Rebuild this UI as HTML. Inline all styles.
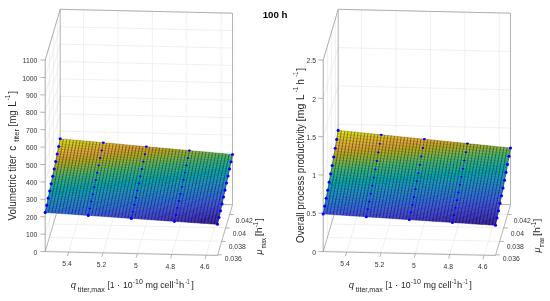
<!DOCTYPE html><html><head><meta charset="utf-8"><style>html,body{margin:0;padding:0;background:#fff;width:550px;height:301px;overflow:hidden}svg{display:block}text{font-family:"Liberation Sans",sans-serif;-webkit-font-smoothing:antialiased}svg{will-change:transform}</style></head><body>
<svg width="550" height="301" viewBox="0 0 550 301">
<defs><filter id="bl" x="-5%" y="-5%" width="110%" height="110%"><feGaussianBlur stdDeviation="0.4"/></filter></defs>
<rect width="550" height="301" fill="#fff"/>
<path fill="none" stroke="#e6e6e6" stroke-width="0.6" d="M83.6,201.33L83.6,9.83M118,202.11L118,10.61M152.4,202.89L152.4,11.39M186.8,203.67L186.8,12.17M221.2,204.44L221.2,12.94M60.2,183.39L232.5,187.29M60.2,165.98L232.5,169.88M60.2,148.57L232.5,152.47M60.2,131.16L232.5,135.06M60.2,113.75L232.5,117.65M60.2,96.35L232.5,100.25M60.2,78.94L232.5,82.84M60.2,61.53L232.5,65.43M60.2,44.12L232.5,48.02M60.2,26.71L232.5,30.61M60.2,9.3L232.5,13.2M45.41,250.89L45.41,59.39M49.38,237.45L49.38,45.95M53.35,224.02L53.35,32.52M57.31,210.58L57.31,19.08M45.2,234.19L60.2,183.39M45.2,216.78L60.2,165.98M45.2,199.37L60.2,148.57M45.2,181.96L60.2,131.16M45.2,164.55L60.2,113.75M45.2,147.15L60.2,96.35M45.2,129.74L60.2,78.94M45.2,112.33L60.2,61.53M45.2,94.92L60.2,44.12M45.2,77.51L60.2,26.71M45.2,60.1L60.2,9.3M68.6,252.13L83.6,201.33M103,252.91L118,202.11M137.4,253.69L152.4,202.89M171.8,254.47L186.8,203.67M206.2,255.24L221.2,204.44M45.41,250.89L217.71,254.79M49.38,237.45L221.68,241.35M53.35,224.02L225.65,227.92M57.31,210.58L229.61,214.48"/>
<path fill="none" stroke="#9a9a9a" stroke-width="0.75" d="M45.2,251.6L45.2,60.1M60.2,200.8L60.2,9.3M232.5,204.7L232.5,13.2M60.2,9.3L232.5,13.2M45.2,60.1L60.2,9.3M45.2,251.6L217.5,255.5M217.5,255.5L232.5,204.7M60.2,200.8L232.5,204.7M45.2,251.6L60.2,200.8M45.2,251.6L40.4,251.5M45.2,234.19L40.4,234.09M45.2,216.78L40.4,216.68M45.2,199.37L40.4,199.27M45.2,181.96L40.4,181.86M45.2,164.55L40.4,164.45M45.2,147.15L40.4,147.05M45.2,129.74L40.4,129.64M45.2,112.33L40.4,112.23M45.2,94.92L40.4,94.82M45.2,77.51L40.4,77.41M45.2,60.1L40.4,60M68.6,252.13L67.4,256.13M103,252.91L101.8,256.91M137.4,253.69L136.2,257.69M171.8,254.47L170.6,258.47M206.2,255.24L205,259.24M217.71,254.79L221.91,254.89M221.68,241.35L225.88,241.45M225.65,227.92L229.84,228.02M229.61,214.48L233.81,214.58"/>
<g filter="url(#bl)">
<path fill="#3926a2" stroke="#3926a2" stroke-width="0.4" d="M207.6,223.6l3.3,.3 .5,-2.3 -3.3,-.2zM210.9,223.9l3.3,.2 .5,-2.3 -3.3,-.2zM214.2,224.1l3.3,.2 .5,-2.2 -3.3,-.3z"/>
<path fill="#3b2aac" stroke="#3b2aac" stroke-width="0.4" d="M197.6,222.9l3.3,.3 .5,-2.3 -3.3,-.2zM200.9,223.2l3.3,.2 .5,-2.3 -3.3,-.2zM204.2,223.4l3.4,.2 .5,-2.2 -3.4,-.3zM208.1,221.4l3.3,.2 .5,-2.2 -3.3,-.3zM211.4,221.6l3.3,.2 .5,-2.2 -3.3,-.2zM214.7,221.8l3.3,.3 .5,-2.3 -3.3,-.2z"/>
<path fill="#3d2db6" stroke="#3d2db6" stroke-width="0.4" d="M187.7,222.3l3.3,.2 .5,-2.3 -3.3,-.2zM191,222.5l3.3,.2 .5,-2.2 -3.3,-.3zM194.3,222.7l3.3,.2 .5,-2.2 -3.3,-.2zM198.1,220.7l3.3,.2 .5,-2.2 -3.3,-.3zM201.4,220.9l3.3,.2 .5,-2.2 -3.3,-.2zM204.7,221.1l3.4,.3 .5,-2.3 -3.4,-.2zM211.9,219.4l3.3,.2 .5,-2.3 -3.3,-.2zM215.2,219.6l3.3,.2 .5,-2.2 -3.3,-.3z"/>
<path fill="#3e31c0" stroke="#3e31c0" stroke-width="0.4" d="M174.4,221.4l3.3,.2 .5,-2.3 -3.3,-.2zM177.7,221.6l3.4,.2 .5,-2.3 -3.4,-.2zM181.1,221.8l3.3,.2 .5,-2.2 -3.3,-.3zM184.4,222l3.3,.3 .5,-2.3 -3.3,-.2zM188.2,220l3.3,.2 .5,-2.2 -3.3,-.3zM191.5,220.2l3.3,.3 .5,-2.3 -3.3,-.2zM194.8,220.5l3.3,.2 .5,-2.3 -3.3,-.2zM201.9,218.7l3.3,.2 .5,-2.3 -3.3,-.2zM205.2,218.9l3.4,.2 .5,-2.2 -3.4,-.3zM208.6,219.1l3.3,.3 .5,-2.3 -3.3,-.2zM212.4,217.1l3.3,.2 .5,-2.2 -3.3,-.3zM215.7,217.3l3.3,.3 .5,-2.3 -3.3,-.2z"/>
<path fill="#3f36c8" stroke="#3f36c8" stroke-width="0.4" d="M164.5,220.7l3.3,.2 .5,-2.3 -3.3,-.2zM167.8,220.9l3.3,.2 .5,-2.3 -3.3,-.2zM171.1,221.1l3.3,.3 .5,-2.3 -3.3,-.3zM178.2,219.3l3.4,.2 .5,-2.2 -3.4,-.3zM181.6,219.5l3.3,.3 .5,-2.3 -3.3,-.2zM184.9,219.8l3.3,.2 .5,-2.3 -3.3,-.2zM192,218l3.3,.2 .5,-2.3 -3.3,-.2zM195.3,218.2l3.3,.2 .5,-2.2 -3.3,-.3zM198.6,218.4l3.3,.3 .5,-2.3 -3.3,-.2zM202.4,216.4l3.3,.2 .5,-2.2 -3.3,-.3zM205.7,216.6l3.4,.3 .5,-2.3 -3.4,-.2zM209.1,216.9l3.3,.2 .5,-2.3 -3.3,-.2zM216.2,215.1l3.3,.2 .5,-2.3 -3.3,-.2z"/>
<path fill="#403bce" stroke="#403bce" stroke-width="0.4" d="M154.5,220l3.4,.2 .5,-2.3 -3.4,-.2zM157.9,220.2l3.3,.2 .5,-2.2 -3.3,-.3zM161.2,220.4l3.3,.3 .5,-2.3 -3.3,-.2zM168.3,218.6l3.3,.2 .5,-2.2 -3.3,-.3zM171.6,218.8l3.3,.3 .5,-2.3 -3.3,-.2zM174.9,219.1l3.3,.2 .5,-2.3 -3.3,-.2zM182.1,217.3l3.3,.2 .5,-2.3 -3.3,-.2zM185.4,217.5l3.3,.2 .5,-2.2 -3.3,-.3zM188.7,217.7l3.3,.3 .5,-2.3 -3.3,-.2zM192.5,215.7l3.3,.2 .5,-2.2 -3.3,-.3zM195.8,215.9l3.3,.3 .5,-2.3 -3.3,-.2zM199.1,216.2l3.3,.2 .5,-2.3 -3.3,-.2zM206.2,214.4l3.4,.2 .5,-2.3 -3.4,-.2zM209.6,214.6l3.3,.2 .5,-2.2 -3.3,-.3zM212.9,214.8l3.3,.3 .5,-2.3 -3.3,-.2z"/>
<path fill="#4040d4" stroke="#4040d4" stroke-width="0.4" d="M144.6,219.3l3.3,.2 .5,-2.3 -3.3,-.2zM147.9,219.5l3.3,.3 .5,-2.3 -3.3,-.3zM151.2,219.8l3.3,.2 .5,-2.3 -3.3,-.2zM158.4,217.9l3.3,.3 .5,-2.3 -3.3,-.3zM161.7,218.2l3.3,.2 .5,-2.3 -3.3,-.2zM165,218.4l3.3,.2 .5,-2.3 -3.3,-.2zM172.1,216.6l3.3,.2 .5,-2.3 -3.3,-.2zM175.4,216.8l3.3,.2 .5,-2.2 -3.3,-.3zM178.7,217l3.4,.3 .5,-2.3 -3.4,-.2zM182.6,215l3.3,.2 .5,-2.3 -3.3,-.2zM185.9,215.2l3.3,.3 .5,-2.3 -3.3,-.3zM189.2,215.5l3.3,.2 .5,-2.3 -3.3,-.2zM196.3,213.7l3.3,.2 .5,-2.3 -3.3,-.2zM199.6,213.9l3.3,.2 .5,-2.3 -3.3,-.2zM202.9,214.1l3.3,.3 .5,-2.3 -3.3,-.3zM210.1,212.3l3.3,.3 .5,-2.3 -3.3,-.3zM213.4,212.6l3.3,.2 .5,-2.3 -3.3,-.2zM216.7,212.8l3.3,.2 .5,-2.2 -3.3,-.3z"/>
<path fill="#4145d8" stroke="#4145d8" stroke-width="0.4" d="M134.7,218.6l3.3,.2 .5,-2.3 -3.3,-.2zM138,218.8l3.3,.3 .5,-2.3 -3.3,-.3zM141.3,219.1l3.3,.2 .5,-2.3 -3.3,-.2zM148.4,217.2l3.3,.3 .5,-2.3 -3.3,-.3zM151.7,217.5l3.3,.2 .5,-2.3 -3.3,-.2zM155,217.7l3.4,.2 .5,-2.3 -3.4,-.2zM162.2,215.9l3.3,.2 .5,-2.3 -3.3,-.2zM165.5,216.1l3.3,.2 .5,-2.2 -3.3,-.3zM168.8,216.3l3.3,.3 .5,-2.3 -3.3,-.2zM172.6,214.3l3.3,.2 .5,-2.3 -3.3,-.2zM175.9,214.5l3.3,.3 .5,-2.3 -3.3,-.3zM179.2,214.8l3.4,.2 .5,-2.3 -3.4,-.2zM186.4,212.9l3.3,.3 .5,-2.3 -3.3,-.2zM189.7,213.2l3.3,.2 .5,-2.3 -3.3,-.2zM193,213.4l3.3,.3 .5,-2.3 -3.3,-.3zM200.1,211.6l3.3,.2 .5,-2.2 -3.3,-.3zM203.4,211.8l3.3,.3 .5,-2.3 -3.3,-.2zM206.7,212.1l3.4,.2 .5,-2.3 -3.4,-.2zM210.6,210l3.3,.3 .5,-2.3 -3.3,-.2zM213.9,210.3l3.3,.2 .5,-2.2 -3.3,-.3zM217.2,210.5l3.3,.3 .5,-2.3 -3.3,-.2z"/>
<path fill="#404adc" stroke="#404adc" stroke-width="0.4" d="M124.7,217.9l3.3,.3 .5,-2.3 -3.3,-.3zM128,218.2l3.4,.2 .5,-2.3 -3.4,-.2zM131.4,218.4l3.3,.2 .5,-2.3 -3.3,-.2zM138.5,216.5l3.3,.3 .5,-2.3 -3.3,-.3zM141.8,216.8l3.3,.2 .5,-2.3 -3.3,-.2zM145.1,217l3.3,.2 .5,-2.3 -3.3,-.2zM152.2,215.2l3.3,.2 .5,-2.3 -3.3,-.2zM155.5,215.4l3.4,.2 .5,-2.3 -3.4,-.2zM158.9,215.6l3.3,.3 .5,-2.3 -3.3,-.3zM162.7,213.6l3.3,.2 .5,-2.3 -3.3,-.2zM166,213.8l3.3,.3 .5,-2.3 -3.3,-.3zM169.3,214.1l3.3,.2 .5,-2.3 -3.3,-.2zM176.4,212.2l3.3,.3 .5,-2.3 -3.3,-.3zM179.7,212.5l3.4,.2 .5,-2.3 -3.4,-.2zM183.1,212.7l3.3,.2 .5,-2.2 -3.3,-.3zM190.2,210.9l3.3,.2 .5,-2.3 -3.3,-.2zM193.5,211.1l3.3,.3 .5,-2.3 -3.3,-.3zM196.8,211.4l3.3,.2 .5,-2.3 -3.3,-.2zM200.6,209.3l3.3,.3 .5,-2.3 -3.3,-.3zM203.9,209.6l3.3,.2 .5,-2.3 -3.3,-.2zM207.2,209.8l3.4,.2 .5,-2.2 -3.4,-.3zM214.4,208l3.3,.3 .5,-2.3 -3.3,-.3zM217.7,208.3l3.3,.2 .5,-2.3 -3.3,-.2z"/>
<path fill="#404fdf" stroke="#404fdf" stroke-width="0.4" d="M114.8,217.2l3.3,.3 .5,-2.3 -3.3,-.3zM118.1,217.5l3.3,.2 .5,-2.3 -3.3,-.2zM121.4,217.7l3.3,.2 .5,-2.3 -3.3,-.2zM128.5,215.9l3.4,.2 .5,-2.3 -3.4,-.3zM131.9,216.1l3.3,.2 .5,-2.3 -3.3,-.2zM135.2,216.3l3.3,.2 .5,-2.3 -3.3,-.2zM142.3,214.5l3.3,.2 .5,-2.3 -3.3,-.2zM145.6,214.7l3.3,.2 .5,-2.3 -3.3,-.2zM148.9,214.9l3.3,.3 .5,-2.3 -3.3,-.3zM156,213.1l3.4,.2 .5,-2.3 -3.4,-.2zM159.4,213.3l3.3,.3 .5,-2.3 -3.3,-.3zM166.5,211.5l3.3,.3 .5,-2.3 -3.3,-.3zM169.8,211.8l3.3,.2 .5,-2.3 -3.3,-.2zM173.1,212l3.3,.2 .5,-2.3 -3.3,-.2zM180.2,210.2l3.4,.2 .5,-2.3 -3.4,-.2zM183.6,210.4l3.3,.3 .5,-2.3 -3.3,-.3zM186.9,210.7l3.3,.2 .5,-2.3 -3.3,-.2zM194,208.8l3.3,.3 .5,-2.3 -3.3,-.3zM197.3,209.1l3.3,.2 .5,-2.3 -3.3,-.2zM204.4,207.3l3.3,.2 .5,-2.3 -3.3,-.2zM207.7,207.5l3.4,.3 .5,-2.3 -3.4,-.3zM211.1,207.8l3.3,.2 .5,-2.3 -3.3,-.2zM218.2,206l3.3,.2 .5,-2.3 -3.3,-.2z"/>
<path fill="#3f54e2" stroke="#3f54e2" stroke-width="0.4" d="M104.8,216.5l3.4,.3 .5,-2.3 -3.4,-.3zM108.2,216.8l3.3,.2 .5,-2.3 -3.3,-.2zM111.5,217l3.3,.2 .5,-2.3 -3.3,-.2zM118.6,215.2l3.3,.2 .5,-2.3 -3.3,-.3zM121.9,215.4l3.3,.2 .5,-2.3 -3.3,-.2zM125.2,215.6l3.3,.3 .5,-2.4 -3.3,-.2zM132.4,213.8l3.3,.2 .5,-2.3 -3.3,-.2zM135.7,214l3.3,.2 .5,-2.3 -3.3,-.2zM139,214.2l3.3,.3 .5,-2.3 -3.3,-.3zM146.1,212.4l3.3,.2 .5,-2.3 -3.3,-.2zM149.4,212.6l3.3,.3 .5,-2.3 -3.3,-.3zM152.7,212.9l3.3,.2 .5,-2.3 -3.3,-.2zM156.5,210.8l3.4,.2 .5,-2.3 -3.4,-.2zM159.9,211l3.3,.3 .5,-2.3 -3.3,-.3zM163.2,211.3l3.3,.2 .5,-2.3 -3.3,-.2zM170.3,209.5l3.3,.2 .5,-2.3 -3.3,-.2zM173.6,209.7l3.3,.2 .5,-2.3 -3.3,-.2zM176.9,209.9l3.3,.3 .5,-2.3 -3.3,-.3zM184.1,208.1l3.3,.3 .5,-2.3 -3.3,-.3zM187.4,208.4l3.3,.2 .5,-2.3 -3.3,-.2zM190.7,208.6l3.3,.2 .5,-2.3 -3.3,-.2zM194.5,206.5l3.3,.3 .5,-2.3 -3.3,-.3zM197.8,206.8l3.3,.2 .5,-2.3 -3.3,-.2zM201.1,207l3.3,.3 .5,-2.3 -3.3,-.3zM208.2,205.2l3.4,.3 .5,-2.3 -3.4,-.3zM211.6,205.5l3.3,.2 .5,-2.3 -3.3,-.2zM214.9,205.7l3.3,.3 .5,-2.3 -3.3,-.3zM218.7,203.7l3.3,.2 .5,-2.3 -3.3,-.2z"/>
<path fill="#3e59e3" stroke="#3e59e3" stroke-width="0.4" d="M94.9,215.9l3.3,.2 .5,-2.3 -3.3,-.3zM98.2,216.1l3.3,.2 .5,-2.3 -3.3,-.2zM101.5,216.3l3.3,.2 .5,-2.3 -3.3,-.2zM108.7,214.5l3.3,.2 .5,-2.3 -3.3,-.3zM112,214.7l3.3,.2 .5,-2.3 -3.3,-.2zM115.3,214.9l3.3,.3 .5,-2.4 -3.3,-.2zM122.4,213.1l3.3,.2 .5,-2.3 -3.3,-.2zM125.7,213.3l3.3,.2 .5,-2.3 -3.3,-.2zM129,213.5l3.4,.3 .5,-2.3 -3.4,-.3zM136.2,211.7l3.3,.2 .5,-2.3 -3.3,-.2zM139.5,211.9l3.3,.3 .5,-2.3 -3.3,-.3zM142.8,212.2l3.3,.2 .5,-2.3 -3.3,-.2zM146.6,210.1l3.3,.2 .5,-2.3 -3.3,-.2zM149.9,210.3l3.3,.3 .5,-2.3 -3.3,-.3zM153.2,210.6l3.3,.2 .5,-2.3 -3.3,-.2zM160.4,208.7l3.3,.3 .5,-2.3 -3.3,-.3zM163.7,209l3.3,.2 .5,-2.3 -3.3,-.2zM167,209.2l3.3,.3 .5,-2.3 -3.3,-.3zM174.1,207.4l3.3,.2 .5,-2.3 -3.3,-.2zM177.4,207.6l3.3,.3 .5,-2.3 -3.3,-.3zM180.7,207.9l3.4,.2 .5,-2.3 -3.4,-.2zM184.6,205.8l3.3,.3 .5,-2.3 -3.3,-.3zM187.9,206.1l3.3,.2 .5,-2.3 -3.3,-.2zM191.2,206.3l3.3,.2 .5,-2.3 -3.3,-.2zM198.3,204.5l3.3,.2 .5,-2.3 -3.3,-.2zM201.6,204.7l3.3,.3 .5,-2.3 -3.3,-.3zM204.9,205l3.3,.2 .5,-2.3 -3.3,-.2zM212.1,203.2l3.3,.2 .5,-2.3 -3.3,-.2zM215.4,203.4l3.3,.3 .5,-2.3 -3.3,-.3z"/>
<path fill="#3c5fe4" stroke="#3c5fe4" stroke-width="0.4" d="M85,215.2l3.3,.2 .5,-2.3 -3.3,-.3zM88.3,215.4l3.3,.2 .5,-2.3 -3.3,-.2zM91.6,215.6l3.3,.3 .5,-2.4 -3.3,-.2zM98.7,213.8l3.3,.2 .5,-2.3 -3.3,-.3zM102,214l3.3,.2 .5,-2.3 -3.3,-.2zM105.3,214.2l3.4,.3 .5,-2.4 -3.4,-.2zM112.5,212.4l3.3,.2 .5,-2.3 -3.3,-.3zM115.8,212.6l3.3,.2 .5,-2.3 -3.3,-.2zM119.1,212.8l3.3,.3 .5,-2.3 -3.3,-.3zM126.2,211l3.3,.2 .5,-2.3 -3.3,-.2zM129.5,211.2l3.4,.3 .5,-2.4 -3.4,-.2zM132.9,211.5l3.3,.2 .5,-2.3 -3.3,-.3zM136.7,209.4l3.3,.2 .5,-2.3 -3.3,-.2zM140,209.6l3.3,.3 .5,-2.4 -3.3,-.2zM143.3,209.9l3.3,.2 .5,-2.3 -3.3,-.3zM150.4,208l3.3,.3 .5,-2.4 -3.3,-.2zM153.7,208.3l3.3,.2 .5,-2.3 -3.3,-.3zM157,208.5l3.4,.2 .5,-2.3 -3.4,-.2zM164.2,206.7l3.3,.2 .5,-2.3 -3.3,-.2zM167.5,206.9l3.3,.3 .5,-2.4 -3.3,-.2zM170.8,207.2l3.3,.2 .5,-2.3 -3.3,-.3zM177.9,205.3l3.3,.3 .5,-2.3 -3.3,-.3zM181.2,205.6l3.4,.2 .5,-2.3 -3.4,-.2zM188.4,203.8l3.3,.2 .5,-2.3 -3.3,-.3zM191.7,204l3.3,.2 .5,-2.3 -3.3,-.2zM195,204.2l3.3,.3 .5,-2.3 -3.3,-.3zM202.1,202.4l3.3,.3 .5,-2.3 -3.3,-.3zM205.4,202.7l3.3,.2 .5,-2.3 -3.3,-.2zM208.7,202.9l3.4,.3 .5,-2.3 -3.4,-.3zM212.6,200.9l3.3,.2 .5,-2.3 -3.3,-.2zM215.9,201.1l3.3,.3 .5,-2.3 -3.3,-.3zM219.2,201.4l3.3,.2 .5,-2.3 -3.3,-.2z"/>
<path fill="#3864e5" stroke="#3864e5" stroke-width="0.4" d="M75,214.5l3.3,.2 .5,-2.3 -3.3,-.3zM78.3,214.7l3.3,.2 .5,-2.3 -3.3,-.2zM81.6,214.9l3.4,.3 .5,-2.4 -3.4,-.2zM88.8,213.1l3.3,.2 .5,-2.3 -3.3,-.3zM92.1,213.3l3.3,.2 .5,-2.3 -3.3,-.2zM95.4,213.5l3.3,.3 .5,-2.4 -3.3,-.2zM102.5,211.7l3.3,.2 .5,-2.3 -3.3,-.3zM105.8,211.9l3.4,.2 .5,-2.3 -3.4,-.2zM109.2,212.1l3.3,.3 .5,-2.4 -3.3,-.2zM116.3,210.3l3.3,.2 .5,-2.3 -3.3,-.2zM119.6,210.5l3.3,.3 .5,-2.4 -3.3,-.2zM122.9,210.8l3.3,.2 .5,-2.3 -3.3,-.3zM130,208.9l3.4,.2 .5,-2.3 -3.4,-.2zM133.4,209.1l3.3,.3 .5,-2.3 -3.3,-.3zM140.5,207.3l3.3,.2 .5,-2.3 -3.3,-.2zM143.8,207.5l3.3,.3 .5,-2.3 -3.3,-.3zM147.1,207.8l3.3,.2 .5,-2.3 -3.3,-.2zM154.2,205.9l3.3,.3 .5,-2.3 -3.3,-.3zM157.5,206.2l3.4,.2 .5,-2.3 -3.4,-.2zM160.9,206.4l3.3,.3 .5,-2.3 -3.3,-.3zM168,204.6l3.3,.2 .5,-2.3 -3.3,-.2zM171.3,204.8l3.3,.3 .5,-2.3 -3.3,-.3zM174.6,205.1l3.3,.2 .5,-2.3 -3.3,-.2zM178.4,203l3.3,.3 .5,-2.4 -3.3,-.2zM181.7,203.3l3.4,.2 .5,-2.3 -3.4,-.3zM185.1,203.5l3.3,.3 .5,-2.4 -3.3,-.2zM192.2,201.7l3.3,.2 .5,-2.3 -3.3,-.2zM195.5,201.9l3.3,.3 .5,-2.3 -3.3,-.3zM198.8,202.2l3.3,.2 .5,-2.3 -3.3,-.2zM205.9,200.4l3.3,.2 .5,-2.3 -3.3,-.2zM209.2,200.6l3.4,.3 .5,-2.3 -3.4,-.3zM216.4,198.8l3.3,.3 .5,-2.3 -3.3,-.3zM219.7,199.1l3.3,.2 .5,-2.3 -3.3,-.2z"/>
<path fill="#336ae5" stroke="#336ae5" stroke-width="0.4" d="M65.1,213.8l3.3,.2 .5,-2.3 -3.3,-.3zM68.4,214l3.3,.2 .5,-2.3 -3.3,-.2zM71.7,214.2l3.3,.3 .5,-2.4 -3.3,-.2zM78.8,212.4l3.3,.2 .5,-2.3 -3.3,-.3zM82.1,212.6l3.4,.2 .5,-2.3 -3.4,-.2zM85.5,212.8l3.3,.3 .5,-2.4 -3.3,-.2zM92.6,211l3.3,.2 .5,-2.3 -3.3,-.3zM95.9,211.2l3.3,.2 .5,-2.3 -3.3,-.2zM99.2,211.4l3.3,.3 .5,-2.4 -3.3,-.2zM106.3,209.6l3.4,.2 .5,-2.3 -3.4,-.3zM109.7,209.8l3.3,.2 .5,-2.3 -3.3,-.2zM113,210l3.3,.3 .5,-2.3 -3.3,-.3zM120.1,208.2l3.3,.2 .5,-2.3 -3.3,-.2zM123.4,208.4l3.3,.3 .5,-2.4 -3.3,-.2zM126.7,208.7l3.3,.2 .5,-2.3 -3.3,-.3zM130.5,206.6l3.4,.2 .5,-2.3 -3.4,-.3zM133.9,206.8l3.3,.3 .5,-2.4 -3.3,-.2zM137.2,207.1l3.3,.2 .5,-2.3 -3.3,-.3zM144.3,205.2l3.3,.3 .5,-2.4 -3.3,-.2zM147.6,205.5l3.3,.2 .5,-2.3 -3.3,-.3zM150.9,205.7l3.3,.2 .5,-2.3 -3.3,-.2zM158,203.9l3.4,.2 .5,-2.3 -3.4,-.3zM161.4,204.1l3.3,.3 .5,-2.4 -3.3,-.2zM164.7,204.4l3.3,.2 .5,-2.3 -3.3,-.3zM171.8,202.5l3.3,.3 .5,-2.3 -3.3,-.3zM175.1,202.8l3.3,.2 .5,-2.3 -3.3,-.2zM182.2,200.9l3.4,.3 .5,-2.3 -3.4,-.3zM185.6,201.2l3.3,.2 .5,-2.3 -3.3,-.2zM188.9,201.4l3.3,.3 .5,-2.3 -3.3,-.3zM196,199.6l3.3,.3 .5,-2.3 -3.3,-.3zM199.3,199.9l3.3,.2 .5,-2.3 -3.3,-.2zM202.6,200.1l3.3,.3 .5,-2.3 -3.3,-.3zM206.4,198.1l3.3,.2 .5,-2.3 -3.3,-.2zM209.7,198.3l3.4,.3 .5,-2.3 -3.4,-.3zM213.1,198.6l3.3,.2 .5,-2.3 -3.3,-.2zM220.2,196.8l3.3,.2 .5,-2.3 -3.3,-.2z"/>
<path fill="#2d6fe3" stroke="#2d6fe3" stroke-width="0.4" d="M55.1,213.1l3.4,.2 .5,-2.3 -3.4,-.3zM58.5,213.3l3.3,.3 .5,-2.4 -3.3,-.2zM61.8,213.6l3.3,.2 .5,-2.4 -3.3,-.2zM68.9,211.7l3.3,.2 .5,-2.3 -3.3,-.3zM72.2,211.9l3.3,.2 .5,-2.3 -3.3,-.2zM75.5,212.1l3.3,.3 .5,-2.4 -3.3,-.2zM82.6,210.3l3.4,.2 .5,-2.3 -3.4,-.3zM86,210.5l3.3,.2 .5,-2.3 -3.3,-.2zM89.3,210.7l3.3,.3 .5,-2.4 -3.3,-.2zM96.4,208.9l3.3,.2 .5,-2.3 -3.3,-.3zM99.7,209.1l3.3,.2 .5,-2.3 -3.3,-.2zM103,209.3l3.3,.3 .5,-2.4 -3.3,-.2zM110.2,207.5l3.3,.2 .5,-2.3 -3.3,-.3zM113.5,207.7l3.3,.3 .5,-2.4 -3.3,-.2zM116.8,208l3.3,.2 .5,-2.3 -3.3,-.3zM123.9,206.1l3.3,.2 .5,-2.3 -3.3,-.2zM127.2,206.3l3.3,.3 .5,-2.4 -3.3,-.2zM134.4,204.5l3.3,.2 .5,-2.3 -3.3,-.2zM137.7,204.7l3.3,.3 .5,-2.4 -3.3,-.2zM141,205l3.3,.2 .5,-2.3 -3.3,-.3zM148.1,203.1l3.3,.3 .5,-2.4 -3.3,-.2zM151.4,203.4l3.3,.2 .5,-2.3 -3.3,-.3zM154.7,203.6l3.3,.3 .5,-2.4 -3.3,-.2zM161.9,201.8l3.3,.2 .5,-2.3 -3.3,-.2zM165.2,202l3.3,.3 .5,-2.3 -3.3,-.3zM168.5,202.3l3.3,.2 .5,-2.3 -3.3,-.2zM175.6,200.5l3.3,.2 .5,-2.3 -3.3,-.3zM178.9,200.7l3.3,.2 .5,-2.3 -3.3,-.2zM186.1,198.9l3.3,.2 .5,-2.3 -3.3,-.2zM189.4,199.1l3.3,.3 .5,-2.3 -3.3,-.3zM192.7,199.4l3.3,.2 .5,-2.3 -3.3,-.2zM199.8,197.6l3.3,.2 .5,-2.3 -3.3,-.3zM203.1,197.8l3.3,.3 .5,-2.3 -3.3,-.3zM210.2,196l3.4,.3 .5,-2.4 -3.4,-.2zM213.6,196.3l3.3,.2 .5,-2.3 -3.3,-.3zM216.9,196.5l3.3,.3 .5,-2.3 -3.3,-.3z"/>
<path fill="#2a74e1" stroke="#2a74e1" stroke-width="0.4" d="M45.2,212.4l3.3,.2 .5,-2.3 -3.3,-.3zM48.5,212.6l3.3,.3 .5,-2.4 -3.3,-.2zM51.8,212.9l3.3,.2 .5,-2.4 -3.3,-.2zM59,211l3.3,.2 .5,-2.3 -3.3,-.3zM62.3,211.2l3.3,.2 .5,-2.3 -3.3,-.2zM65.6,211.4l3.3,.3 .5,-2.4 -3.3,-.2zM72.7,209.6l3.3,.2 .5,-2.4 -3.3,-.2zM76,209.8l3.3,.2 .5,-2.3 -3.3,-.3zM79.3,210l3.3,.3 .5,-2.4 -3.3,-.2zM86.5,208.2l3.3,.2 .5,-2.4 -3.3,-.2zM89.8,208.4l3.3,.2 .5,-2.3 -3.3,-.3zM93.1,208.6l3.3,.3 .5,-2.4 -3.3,-.2zM100.2,206.8l3.3,.2 .5,-2.3 -3.3,-.3zM103.5,207l3.3,.2 .5,-2.3 -3.3,-.2zM106.8,207.2l3.4,.3 .5,-2.4 -3.4,-.2zM114,205.4l3.3,.2 .5,-2.3 -3.3,-.3zM117.3,205.6l3.3,.3 .5,-2.4 -3.3,-.2zM120.6,205.9l3.3,.2 .5,-2.3 -3.3,-.3zM127.7,204l3.3,.2 .5,-2.3 -3.3,-.2zM131,204.2l3.4,.3 .5,-2.3 -3.4,-.3zM138.2,202.4l3.3,.2 .5,-2.3 -3.3,-.2zM141.5,202.6l3.3,.3 .5,-2.3 -3.3,-.3zM144.8,202.9l3.3,.2 .5,-2.3 -3.3,-.2zM151.9,201l3.3,.3 .5,-2.3 -3.3,-.3zM155.2,201.3l3.3,.2 .5,-2.3 -3.3,-.2zM158.5,201.5l3.4,.3 .5,-2.3 -3.4,-.3zM165.7,199.7l3.3,.3 .5,-2.4 -3.3,-.2zM169,200l3.3,.2 .5,-2.3 -3.3,-.3zM172.3,200.2l3.3,.3 .5,-2.4 -3.3,-.2zM176.1,198.1l3.3,.3 .5,-2.4 -3.3,-.2zM179.4,198.4l3.3,.2 .5,-2.3 -3.3,-.3zM182.7,198.6l3.4,.3 .5,-2.3 -3.4,-.3zM189.9,196.8l3.3,.3 .5,-2.4 -3.3,-.2zM193.2,197.1l3.3,.2 .5,-2.3 -3.3,-.3zM196.5,197.3l3.3,.3 .5,-2.4 -3.3,-.2zM203.6,195.5l3.3,.3 .5,-2.4 -3.3,-.2zM206.9,195.8l3.3,.2 .5,-2.3 -3.3,-.3zM214.1,193.9l3.3,.3 .5,-2.3 -3.3,-.3zM217.4,194.2l3.3,.3 .5,-2.4 -3.3,-.2zM220.7,194.5l3.3,.2 .5,-2.3 -3.3,-.3z"/>
<path fill="#2979de" stroke="#2979de" stroke-width="0.4" d="M49,210.3l3.3,.2 .5,-2.4 -3.3,-.2zM52.3,210.5l3.3,.2 .5,-2.3 -3.3,-.3zM55.6,210.7l3.4,.3 .5,-2.4 -3.4,-.2zM62.8,208.9l3.3,.2 .5,-2.4 -3.3,-.2zM66.1,209.1l3.3,.2 .5,-2.3 -3.3,-.3zM69.4,209.3l3.3,.3 .5,-2.4 -3.3,-.2zM76.5,207.4l3.3,.3 .5,-2.4 -3.3,-.2zM79.8,207.7l3.3,.2 .5,-2.3 -3.3,-.3zM83.1,207.9l3.4,.3 .5,-2.4 -3.4,-.2zM90.3,206l3.3,.3 .5,-2.4 -3.3,-.2zM93.6,206.3l3.3,.2 .5,-2.3 -3.3,-.3zM96.9,206.5l3.3,.3 .5,-2.4 -3.3,-.2zM104,204.7l3.3,.2 .5,-2.4 -3.3,-.2zM107.3,204.9l3.4,.2 .5,-2.3 -3.4,-.3zM110.7,205.1l3.3,.3 .5,-2.4 -3.3,-.2zM117.8,203.3l3.3,.2 .5,-2.3 -3.3,-.3zM121.1,203.5l3.3,.3 .5,-2.4 -3.3,-.2zM124.4,203.8l3.3,.2 .5,-2.3 -3.3,-.3zM131.5,201.9l3.4,.3 .5,-2.4 -3.4,-.2zM134.9,202.2l3.3,.2 .5,-2.3 -3.3,-.3zM142,200.3l3.3,.3 .5,-2.4 -3.3,-.2zM145.3,200.6l3.3,.2 .5,-2.3 -3.3,-.3zM148.6,200.8l3.3,.2 .5,-2.3 -3.3,-.2zM155.7,199l3.3,.2 .5,-2.3 -3.3,-.3zM159,199.2l3.4,.3 .5,-2.4 -3.4,-.2zM162.4,199.5l3.3,.2 .5,-2.3 -3.3,-.3zM169.5,197.6l3.3,.3 .5,-2.4 -3.3,-.2zM172.8,197.9l3.3,.2 .5,-2.3 -3.3,-.3zM179.9,196l3.3,.3 .5,-2.3 -3.3,-.3zM183.2,196.3l3.4,.3 .5,-2.4 -3.4,-.2zM186.6,196.6l3.3,.2 .5,-2.3 -3.3,-.3zM193.7,194.7l3.3,.3 .5,-2.3 -3.3,-.3zM197,195l3.3,.2 .5,-2.3 -3.3,-.2zM200.3,195.2l3.3,.3 .5,-2.3 -3.3,-.3zM204.1,193.2l3.3,.2 .5,-2.3 -3.3,-.3zM207.4,193.4l3.3,.3 .5,-2.3 -3.3,-.3zM210.7,193.7l3.4,.2 .5,-2.3 -3.4,-.2zM217.9,191.9l3.3,.2 .5,-2.3 -3.3,-.2zM221.2,192.1l3.3,.3 .5,-2.3 -3.3,-.3z"/>
<path fill="#287eda" stroke="#287eda" stroke-width="0.4" d="M45.7,210l3.3,.3 .5,-2.4 -3.3,-.2zM52.8,208.1l3.3,.3 .5,-2.4 -3.3,-.2zM56.1,208.4l3.4,.2 .5,-2.3 -3.4,-.3zM59.5,208.6l3.3,.3 .5,-2.4 -3.3,-.2zM66.6,206.7l3.3,.3 .5,-2.4 -3.3,-.2zM69.9,207l3.3,.2 .5,-2.4 -3.3,-.2zM73.2,207.2l3.3,.2 .5,-2.3 -3.3,-.3zM80.3,205.3l3.3,.3 .5,-2.4 -3.3,-.2zM83.6,205.6l3.4,.2 .5,-2.3 -3.4,-.3zM87,205.8l3.3,.2 .5,-2.3 -3.3,-.2zM94.1,203.9l3.3,.3 .5,-2.4 -3.3,-.2zM97.4,204.2l3.3,.2 .5,-2.3 -3.3,-.3zM100.7,204.4l3.3,.3 .5,-2.4 -3.3,-.2zM107.8,202.5l3.4,.3 .5,-2.4 -3.4,-.2zM111.2,202.8l3.3,.2 .5,-2.3 -3.3,-.3zM114.5,203l3.3,.3 .5,-2.4 -3.3,-.2zM121.6,201.2l3.3,.2 .5,-2.3 -3.3,-.3zM124.9,201.4l3.3,.3 .5,-2.4 -3.3,-.2zM128.2,201.7l3.3,.2 .5,-2.3 -3.3,-.3zM135.4,199.8l3.3,.3 .5,-2.4 -3.3,-.2zM138.7,200.1l3.3,.2 .5,-2.3 -3.3,-.3zM145.8,198.2l3.3,.3 .5,-2.4 -3.3,-.2zM149.1,198.5l3.3,.2 .5,-2.3 -3.3,-.3zM152.4,198.7l3.3,.3 .5,-2.4 -3.3,-.2zM159.5,196.9l3.4,.2 .5,-2.3 -3.4,-.3zM162.9,197.1l3.3,.3 .5,-2.4 -3.3,-.2zM166.2,197.4l3.3,.2 .5,-2.3 -3.3,-.3zM173.3,195.5l3.3,.3 .5,-2.3 -3.3,-.3zM176.6,195.8l3.3,.2 .5,-2.3 -3.3,-.2zM183.7,194l3.4,.2 .5,-2.3 -3.4,-.3zM187.1,194.2l3.3,.3 .5,-2.4 -3.3,-.2zM190.4,194.5l3.3,.2 .5,-2.3 -3.3,-.3zM197.5,192.7l3.3,.2 .5,-2.3 -3.3,-.3zM200.8,192.9l3.3,.3 .5,-2.4 -3.3,-.2zM207.9,191.1l3.3,.3 .5,-2.4 -3.3,-.2zM211.2,191.4l3.4,.2 .5,-2.3 -3.4,-.3zM214.6,191.6l3.3,.3 .5,-2.3 -3.3,-.3zM221.7,189.8l3.3,.3 .5,-2.4 -3.3,-.2z"/>
<path fill="#2783d7" stroke="#2783d7" stroke-width="0.4" d="M46.2,207.7l3.3,.2 .5,-2.4 -3.3,-.2zM49.5,207.9l3.3,.2 .5,-2.3 -3.3,-.3zM56.6,206l3.4,.3 .5,-2.4 -3.4,-.2zM60,206.3l3.3,.2 .5,-2.4 -3.3,-.2zM63.3,206.5l3.3,.2 .5,-2.3 -3.3,-.3zM70.4,204.6l3.3,.2 .5,-2.3 -3.3,-.3zM73.7,204.8l3.3,.3 .5,-2.4 -3.3,-.2zM77,205.1l3.3,.2 .5,-2.3 -3.3,-.3zM84.1,203.2l3.4,.3 .5,-2.4 -3.4,-.3zM87.5,203.5l3.3,.2 .5,-2.4 -3.3,-.2zM90.8,203.7l3.3,.2 .5,-2.3 -3.3,-.3zM97.9,201.8l3.3,.3 .5,-2.4 -3.3,-.2zM101.2,202.1l3.3,.2 .5,-2.4 -3.3,-.2zM104.5,202.3l3.3,.2 .5,-2.3 -3.3,-.3zM111.7,200.4l3.3,.3 .5,-2.4 -3.3,-.2zM115,200.7l3.3,.2 .5,-2.3 -3.3,-.3zM118.3,200.9l3.3,.3 .5,-2.4 -3.3,-.2zM125.4,199.1l3.3,.2 .5,-2.3 -3.3,-.3zM128.7,199.3l3.3,.3 .5,-2.4 -3.3,-.2zM132,199.6l3.4,.2 .5,-2.3 -3.4,-.3zM139.2,197.7l3.3,.3 .5,-2.4 -3.3,-.2zM142.5,198l3.3,.2 .5,-2.3 -3.3,-.3zM149.6,196.1l3.3,.3 .5,-2.4 -3.3,-.2zM152.9,196.4l3.3,.2 .5,-2.3 -3.3,-.3zM156.2,196.6l3.3,.3 .5,-2.4 -3.3,-.2zM163.4,194.8l3.3,.2 .5,-2.3 -3.3,-.3zM166.7,195l3.3,.3 .5,-2.4 -3.3,-.2zM170,195.3l3.3,.2 .5,-2.3 -3.3,-.3zM177.1,193.5l3.3,.2 .5,-2.3 -3.3,-.3zM180.4,193.7l3.3,.3 .5,-2.4 -3.3,-.2zM187.6,191.9l3.3,.2 .5,-2.3 -3.3,-.3zM190.9,192.1l3.3,.3 .5,-2.3 -3.3,-.3zM194.2,192.4l3.3,.3 .5,-2.4 -3.3,-.2zM201.3,190.6l3.3,.2 .5,-2.3 -3.3,-.3zM204.6,190.8l3.3,.3 .5,-2.3 -3.3,-.3zM211.7,189l3.4,.3 .5,-2.3 -3.4,-.3zM215.1,189.3l3.3,.3 .5,-2.4 -3.3,-.2zM218.4,189.6l3.3,.2 .5,-2.3 -3.3,-.3zM222.2,187.5l3.3,.2 .5,-2.3 -3.3,-.3z"/>
<path fill="#2387d4" stroke="#2387d4" stroke-width="0.4" d="M46.7,205.3l3.3,.2 .5,-2.3 -3.3,-.3zM50,205.5l3.3,.3 .5,-2.4 -3.3,-.2zM53.3,205.8l3.3,.2 .5,-2.3 -3.3,-.3zM60.5,203.9l3.3,.2 .5,-2.3 -3.3,-.3zM63.8,204.1l3.3,.3 .5,-2.4 -3.3,-.2zM67.1,204.4l3.3,.2 .5,-2.4 -3.3,-.2zM74.2,202.5l3.3,.2 .5,-2.3 -3.3,-.3zM77.5,202.7l3.3,.3 .5,-2.4 -3.3,-.2zM80.8,203l3.3,.2 .5,-2.4 -3.3,-.2zM88,201.1l3.3,.2 .5,-2.3 -3.3,-.3zM91.3,201.3l3.3,.3 .5,-2.4 -3.3,-.2zM94.6,201.6l3.3,.2 .5,-2.3 -3.3,-.3zM101.7,199.7l3.3,.2 .5,-2.3 -3.3,-.3zM105,199.9l3.3,.3 .5,-2.4 -3.3,-.2zM108.3,200.2l3.4,.2 .5,-2.3 -3.4,-.3zM115.5,198.3l3.3,.3 .5,-2.4 -3.3,-.2zM118.8,198.6l3.3,.2 .5,-2.3 -3.3,-.3zM122.1,198.8l3.3,.3 .5,-2.4 -3.3,-.2zM129.2,197l3.3,.2 .5,-2.3 -3.3,-.3zM132.5,197.2l3.4,.3 .5,-2.4 -3.4,-.2zM135.9,197.5l3.3,.2 .5,-2.3 -3.3,-.3zM143,195.6l3.3,.3 .5,-2.4 -3.3,-.2zM146.3,195.9l3.3,.2 .5,-2.3 -3.3,-.3zM153.4,194l3.3,.3 .5,-2.4 -3.3,-.2zM156.7,194.3l3.3,.2 .5,-2.3 -3.3,-.3zM160,194.5l3.4,.3 .5,-2.4 -3.4,-.2zM167.2,192.7l3.3,.2 .5,-2.3 -3.3,-.3zM170.5,192.9l3.3,.3 .5,-2.3 -3.3,-.3zM173.8,193.2l3.3,.3 .5,-2.4 -3.3,-.2zM180.9,191.4l3.3,.2 .5,-2.3 -3.3,-.3zM184.2,191.6l3.4,.3 .5,-2.4 -3.4,-.2zM191.4,189.8l3.3,.3 .5,-2.4 -3.3,-.2zM194.7,190.1l3.3,.2 .5,-2.3 -3.3,-.3zM198,190.3l3.3,.3 .5,-2.4 -3.3,-.2zM205.1,188.5l3.3,.3 .5,-2.4 -3.3,-.2zM208.4,188.8l3.3,.2 .5,-2.3 -3.3,-.3zM215.6,187l3.3,.2 .5,-2.3 -3.3,-.3zM218.9,187.2l3.3,.3 .5,-2.4 -3.3,-.2z"/>
<path fill="#228cd0" stroke="#228cd0" stroke-width="0.4" d="M50.5,203.2l3.3,.2 .5,-2.4 -3.3,-.2zM53.8,203.4l3.3,.3 .5,-2.4 -3.3,-.3zM57.1,203.7l3.4,.2 .5,-2.4 -3.4,-.2zM64.3,201.8l3.3,.2 .5,-2.4 -3.3,-.2zM67.6,202l3.3,.2 .5,-2.3 -3.3,-.3zM70.9,202.2l3.3,.3 .5,-2.4 -3.3,-.2zM81.3,200.6l3.3,.2 .5,-2.3 -3.3,-.3zM84.6,200.8l3.4,.3 .5,-2.4 -3.4,-.2zM91.8,199l3.3,.2 .5,-2.4 -3.3,-.2zM95.1,199.2l3.3,.3 .5,-2.4 -3.3,-.3zM98.4,199.5l3.3,.2 .5,-2.4 -3.3,-.2zM105.5,197.6l3.3,.2 .5,-2.3 -3.3,-.3zM108.8,197.8l3.4,.3 .5,-2.4 -3.4,-.2zM112.2,198.1l3.3,.2 .5,-2.3 -3.3,-.3zM119.3,196.2l3.3,.3 .5,-2.4 -3.3,-.3zM122.6,196.5l3.3,.2 .5,-2.3 -3.3,-.3zM125.9,196.7l3.3,.3 .5,-2.4 -3.3,-.2zM133,194.9l3.4,.2 .5,-2.4 -3.4,-.2zM136.4,195.1l3.3,.3 .5,-2.4 -3.3,-.3zM139.7,195.4l3.3,.2 .5,-2.3 -3.3,-.3zM146.8,193.5l3.3,.3 .5,-2.4 -3.3,-.3zM150.1,193.8l3.3,.2 .5,-2.3 -3.3,-.3zM157.2,191.9l3.3,.3 .5,-2.4 -3.3,-.2zM160.5,192.2l3.4,.2 .5,-2.3 -3.4,-.3zM163.9,192.4l3.3,.3 .5,-2.4 -3.3,-.2zM171,190.6l3.3,.3 .5,-2.4 -3.3,-.3zM174.3,190.9l3.3,.2 .5,-2.3 -3.3,-.3zM177.6,191.1l3.3,.3 .5,-2.4 -3.3,-.2zM184.7,189.3l3.4,.2 .5,-2.3 -3.4,-.3zM188.1,189.5l3.3,.3 .5,-2.3 -3.3,-.3zM195.2,187.7l3.3,.3 .5,-2.4 -3.3,-.2zM198.5,188l3.3,.2 .5,-2.3 -3.3,-.3zM201.8,188.2l3.3,.3 .5,-2.3 -3.3,-.3zM205.6,186.2l3.3,.2 .5,-2.3 -3.3,-.3zM208.9,186.4l3.3,.3 .5,-2.4 -3.3,-.2zM212.2,186.7l3.4,.3 .5,-2.4 -3.4,-.3zM219.4,184.9l3.3,.2 .5,-2.3 -3.3,-.3zM222.7,185.1l3.3,.3 .5,-2.3 -3.3,-.3z"/>
<path fill="#2090ce" stroke="#2090ce" stroke-width="0.4" d="M47.2,202.9l3.3,.3 .5,-2.4 -3.3,-.3zM57.6,201.3l3.4,.2 .5,-2.4 -3.4,-.2zM61,201.5l3.3,.3 .5,-2.4 -3.3,-.3zM71.4,199.9l3.3,.2 .5,-2.4 -3.3,-.2zM74.7,200.1l3.3,.3 .5,-2.4 -3.3,-.3zM78,200.4l3.3,.2 .5,-2.4 -3.3,-.2zM85.1,198.5l3.4,.2 .5,-2.4 -3.4,-.2zM88.5,198.7l3.3,.3 .5,-2.4 -3.3,-.3zM98.9,197.1l3.3,.2 .5,-2.3 -3.3,-.3zM102.2,197.3l3.3,.3 .5,-2.4 -3.3,-.2zM109.3,195.5l3.4,.2 .5,-2.4 -3.4,-.2zM112.7,195.7l3.3,.3 .5,-2.4 -3.3,-.3zM116,196l3.3,.2 .5,-2.4 -3.3,-.2zM123.1,194.1l3.3,.3 .5,-2.4 -3.3,-.3zM126.4,194.4l3.3,.2 .5,-2.4 -3.3,-.2zM129.7,194.6l3.3,.3 .5,-2.4 -3.3,-.3zM136.9,192.7l3.3,.3 .5,-2.4 -3.3,-.2zM140.2,193l3.3,.3 .5,-2.4 -3.3,-.3zM143.5,193.3l3.3,.2 .5,-2.4 -3.3,-.2zM150.6,191.4l3.3,.3 .5,-2.4 -3.3,-.3zM153.9,191.7l3.3,.2 .5,-2.3 -3.3,-.3zM161,189.8l3.4,.3 .5,-2.4 -3.4,-.2zM164.4,190.1l3.3,.2 .5,-2.3 -3.3,-.3zM167.7,190.3l3.3,.3 .5,-2.4 -3.3,-.2zM174.8,188.5l3.3,.3 .5,-2.4 -3.3,-.3zM178.1,188.8l3.3,.2 .5,-2.3 -3.3,-.3zM181.4,189l3.3,.3 .5,-2.4 -3.3,-.2zM185.2,186.9l3.4,.3 .5,-2.4 -3.4,-.2zM188.6,187.2l3.3,.3 .5,-2.4 -3.3,-.3zM191.9,187.5l3.3,.2 .5,-2.3 -3.3,-.3zM199,185.6l3.3,.3 .5,-2.4 -3.3,-.2zM202.3,185.9l3.3,.3 .5,-2.4 -3.3,-.3zM209.4,184.1l3.3,.2 .5,-2.3 -3.3,-.3zM212.7,184.3l3.4,.3 .5,-2.3 -3.4,-.3zM216.1,184.6l3.3,.3 .5,-2.4 -3.3,-.2zM223.2,182.8l3.3,.3 .5,-2.4 -3.3,-.2z"/>
<path fill="#1d94cc" stroke="#1d94cc" stroke-width="0.4" d="M47.7,200.5l3.3,.3 .5,-2.4 -3.3,-.2zM51,200.8l3.3,.2 .5,-2.4 -3.3,-.2zM54.3,201l3.3,.3 .5,-2.4 -3.3,-.3zM61.5,199.1l3.3,.3 .5,-2.4 -3.3,-.3zM64.8,199.4l3.3,.2 .5,-2.4 -3.3,-.2zM68.1,199.6l3.3,.3 .5,-2.4 -3.3,-.3zM75.2,197.7l3.3,.3 .5,-2.4 -3.3,-.2zM78.5,198l3.3,.2 .5,-2.4 -3.3,-.2zM81.8,198.2l3.3,.3 .5,-2.4 -3.3,-.3zM89,196.3l3.3,.3 .5,-2.4 -3.3,-.2zM92.3,196.6l3.3,.2 .5,-2.3 -3.3,-.3zM95.6,196.8l3.3,.3 .5,-2.4 -3.3,-.2zM102.7,195l3.3,.2 .5,-2.4 -3.3,-.2zM106,195.2l3.3,.3 .5,-2.4 -3.3,-.3zM116.5,193.6l3.3,.2 .5,-2.3 -3.3,-.3zM119.8,193.8l3.3,.3 .5,-2.4 -3.3,-.2zM126.9,192l3.3,.2 .5,-2.3 -3.3,-.3zM130.2,192.2l3.3,.3 .5,-2.4 -3.3,-.2zM133.5,192.5l3.4,.2 .5,-2.3 -3.4,-.3zM140.7,190.6l3.3,.3 .5,-2.4 -3.3,-.2zM144,190.9l3.3,.2 .5,-2.3 -3.3,-.3zM147.3,191.1l3.3,.3 .5,-2.4 -3.3,-.2zM154.4,189.3l3.3,.3 .5,-2.4 -3.3,-.3zM157.7,189.6l3.3,.2 .5,-2.3 -3.3,-.3zM164.9,187.7l3.3,.3 .5,-2.4 -3.3,-.3zM168.2,188l3.3,.2 .5,-2.3 -3.3,-.3zM171.5,188.2l3.3,.3 .5,-2.4 -3.3,-.2zM178.6,186.4l3.3,.3 .5,-2.4 -3.3,-.3zM181.9,186.7l3.3,.2 .5,-2.3 -3.3,-.3zM189.1,184.8l3.3,.3 .5,-2.4 -3.3,-.2zM192.4,185.1l3.3,.3 .5,-2.4 -3.3,-.3zM195.7,185.4l3.3,.2 .5,-2.3 -3.3,-.3zM202.8,183.5l3.3,.3 .5,-2.3 -3.3,-.3zM206.1,183.8l3.3,.3 .5,-2.4 -3.3,-.2zM213.2,182l3.4,.3 .5,-2.4 -3.4,-.3zM216.6,182.3l3.3,.2 .5,-2.3 -3.3,-.3zM219.9,182.5l3.3,.3 .5,-2.3 -3.3,-.3z"/>
<path fill="#1a98c9" stroke="#1a98c9" stroke-width="0.4" d="M51.5,198.4l3.3,.2 .5,-2.3 -3.3,-.3zM54.8,198.6l3.3,.3 .5,-2.4 -3.3,-.2zM58.1,198.9l3.4,.2 .5,-2.4 -3.4,-.2zM65.3,197l3.3,.2 .5,-2.3 -3.3,-.3zM68.6,197.2l3.3,.3 .5,-2.4 -3.3,-.2zM71.9,197.5l3.3,.2 .5,-2.3 -3.3,-.3zM79,195.6l3.3,.2 .5,-2.3 -3.3,-.3zM82.3,195.8l3.3,.3 .5,-2.4 -3.3,-.2zM85.6,196.1l3.4,.2 .5,-2.3 -3.4,-.3zM92.8,194.2l3.3,.3 .5,-2.4 -3.3,-.3zM96.1,194.5l3.3,.2 .5,-2.4 -3.3,-.2zM99.4,194.7l3.3,.3 .5,-2.4 -3.3,-.3zM106.5,192.8l3.3,.3 .5,-2.4 -3.3,-.2zM109.8,193.1l3.4,.2 .5,-2.3 -3.4,-.3zM113.2,193.3l3.3,.3 .5,-2.4 -3.3,-.2zM120.3,191.5l3.3,.2 .5,-2.3 -3.3,-.3zM123.6,191.7l3.3,.3 .5,-2.4 -3.3,-.2zM134,190.1l3.4,.3 .5,-2.4 -3.4,-.3zM137.4,190.4l3.3,.2 .5,-2.3 -3.3,-.3zM144.5,188.5l3.3,.3 .5,-2.4 -3.3,-.3zM147.8,188.8l3.3,.2 .5,-2.3 -3.3,-.3zM151.1,189l3.3,.3 .5,-2.4 -3.3,-.2zM158.2,187.2l3.3,.3 .5,-2.4 -3.3,-.3zM161.5,187.5l3.4,.2 .5,-2.4 -3.4,-.2zM168.7,185.6l3.3,.3 .5,-2.4 -3.3,-.3zM172,185.9l3.3,.2 .5,-2.3 -3.3,-.3zM175.3,186.1l3.3,.3 .5,-2.4 -3.3,-.2zM182.4,184.3l3.3,.3 .5,-2.4 -3.3,-.3zM185.7,184.6l3.4,.2 .5,-2.3 -3.4,-.3zM192.9,182.7l3.3,.3 .5,-2.4 -3.3,-.2zM196.2,183l3.3,.3 .5,-2.4 -3.3,-.3zM199.5,183.3l3.3,.2 .5,-2.3 -3.3,-.3zM206.6,181.5l3.3,.2 .5,-2.3 -3.3,-.3zM209.9,181.7l3.3,.3 .5,-2.4 -3.3,-.2zM217.1,179.9l3.3,.3 .5,-2.4 -3.3,-.3zM220.4,180.2l3.3,.3 .5,-2.4 -3.3,-.3zM223.7,180.5l3.3,.2 .5,-2.3 -3.3,-.3z"/>
<path fill="#169cc5" stroke="#169cc5" stroke-width="0.4" d="M48.2,198.2l3.3,.2 .5,-2.4 -3.3,-.2zM55.3,196.3l3.3,.2 .5,-2.4 -3.3,-.2zM58.6,196.5l3.4,.2 .5,-2.3 -3.4,-.3zM62,196.7l3.3,.3 .5,-2.4 -3.3,-.2zM69.1,194.9l3.3,.2 .5,-2.4 -3.3,-.2zM72.4,195.1l3.3,.3 .5,-2.4 -3.3,-.3zM75.7,195.4l3.3,.2 .5,-2.4 -3.3,-.2zM82.8,193.5l3.3,.2 .5,-2.4 -3.3,-.2zM86.1,193.7l3.4,.3 .5,-2.4 -3.4,-.3zM89.5,194l3.3,.2 .5,-2.4 -3.3,-.2zM96.6,192.1l3.3,.2 .5,-2.4 -3.3,-.2zM99.9,192.3l3.3,.3 .5,-2.4 -3.3,-.3zM103.2,192.6l3.3,.2 .5,-2.3 -3.3,-.3zM110.3,190.7l3.4,.3 .5,-2.4 -3.4,-.3zM113.7,191l3.3,.2 .5,-2.4 -3.3,-.2zM117,191.2l3.3,.3 .5,-2.4 -3.3,-.3zM124.1,189.4l3.3,.2 .5,-2.4 -3.3,-.2zM127.4,189.6l3.3,.3 .5,-2.4 -3.3,-.3zM130.7,189.9l3.3,.2 .5,-2.4 -3.3,-.2zM137.9,188l3.3,.3 .5,-2.4 -3.3,-.3zM141.2,188.3l3.3,.2 .5,-2.4 -3.3,-.2zM148.3,186.4l3.3,.3 .5,-2.4 -3.3,-.3zM151.6,186.7l3.3,.2 .5,-2.3 -3.3,-.3zM154.9,186.9l3.3,.3 .5,-2.4 -3.3,-.2zM162,185.1l3.4,.2 .5,-2.3 -3.4,-.3zM165.4,185.3l3.3,.3 .5,-2.4 -3.3,-.2zM172.5,183.5l3.3,.3 .5,-2.4 -3.3,-.3zM175.8,183.8l3.3,.2 .5,-2.3 -3.3,-.3zM179.1,184l3.3,.3 .5,-2.4 -3.3,-.2zM186.2,182.2l3.4,.3 .5,-2.4 -3.4,-.3zM189.6,182.5l3.3,.2 .5,-2.3 -3.3,-.3zM196.7,180.6l3.3,.3 .5,-2.4 -3.3,-.2zM200,180.9l3.3,.3 .5,-2.4 -3.3,-.3zM203.3,181.2l3.3,.3 .5,-2.4 -3.3,-.3zM210.4,179.4l3.3,.2 .5,-2.3 -3.3,-.3zM213.7,179.6l3.4,.3 .5,-2.4 -3.4,-.2zM220.9,177.8l3.3,.3 .5,-2.4 -3.3,-.2zM224.2,178.1l3.3,.3 .5,-2.4 -3.3,-.3z"/>
<path fill="#109fc1" stroke="#109fc1" stroke-width="0.4" d="M48.7,195.8l3.3,.2 .5,-2.4 -3.3,-.2zM52,196l3.3,.3 .5,-2.4 -3.3,-.3zM62.5,194.4l3.3,.2 .5,-2.4 -3.3,-.2zM65.8,194.6l3.3,.3 .5,-2.4 -3.3,-.3zM76.2,193l3.3,.2 .5,-2.4 -3.3,-.2zM79.5,193.2l3.3,.3 .5,-2.4 -3.3,-.3zM90,191.6l3.3,.2 .5,-2.4 -3.3,-.2zM93.3,191.8l3.3,.3 .5,-2.4 -3.3,-.3zM100.4,189.9l3.3,.3 .5,-2.4 -3.3,-.2zM103.7,190.2l3.3,.3 .5,-2.4 -3.3,-.3zM107,190.5l3.3,.2 .5,-2.4 -3.3,-.2zM114.2,188.6l3.3,.2 .5,-2.4 -3.3,-.2zM117.5,188.8l3.3,.3 .5,-2.4 -3.3,-.3zM120.8,189.1l3.3,.3 .5,-2.4 -3.3,-.3zM127.9,187.2l3.3,.3 .5,-2.4 -3.3,-.3zM131.2,187.5l3.3,.2 .5,-2.3 -3.3,-.3zM134.5,187.7l3.4,.3 .5,-2.4 -3.4,-.2zM141.7,185.9l3.3,.2 .5,-2.3 -3.3,-.3zM145,186.1l3.3,.3 .5,-2.4 -3.3,-.2zM152.1,184.3l3.3,.3 .5,-2.4 -3.3,-.3zM155.4,184.6l3.3,.2 .5,-2.4 -3.3,-.2zM158.7,184.8l3.3,.3 .5,-2.4 -3.3,-.3zM165.9,183l3.3,.2 .5,-2.3 -3.3,-.3zM169.2,183.2l3.3,.3 .5,-2.4 -3.3,-.2zM179.6,181.7l3.3,.2 .5,-2.3 -3.3,-.3zM182.9,181.9l3.3,.3 .5,-2.4 -3.3,-.2zM190.1,180.1l3.3,.3 .5,-2.4 -3.3,-.3zM193.4,180.4l3.3,.2 .5,-2.3 -3.3,-.3zM200.5,178.5l3.3,.3 .5,-2.4 -3.3,-.2zM203.8,178.8l3.3,.3 .5,-2.4 -3.3,-.3zM207.1,179.1l3.3,.3 .5,-2.4 -3.3,-.3zM214.2,177.3l3.4,.2 .5,-2.3 -3.4,-.3zM217.6,177.5l3.3,.3 .5,-2.3 -3.3,-.3zM224.7,175.7l3.3,.3 .5,-2.4 -3.3,-.2z"/>
<path fill="#07a3bb" stroke="#07a3bb" stroke-width="0.4" d="M52.5,193.6l3.3,.3 .5,-2.4 -3.3,-.3zM55.8,193.9l3.3,.2 .5,-2.4 -3.3,-.2zM59.1,194.1l3.4,.3 .5,-2.4 -3.4,-.3zM66.3,192.2l3.3,.3 .5,-2.4 -3.3,-.3zM69.6,192.5l3.3,.2 .5,-2.4 -3.3,-.2zM72.9,192.7l3.3,.3 .5,-2.4 -3.3,-.3zM80,190.8l3.3,.3 .5,-2.4 -3.3,-.3zM83.3,191.1l3.3,.2 .5,-2.4 -3.3,-.2zM86.6,191.3l3.4,.3 .5,-2.4 -3.4,-.3zM93.8,189.4l3.3,.3 .5,-2.4 -3.3,-.3zM97.1,189.7l3.3,.2 .5,-2.3 -3.3,-.3zM107.5,188.1l3.3,.2 .5,-2.4 -3.3,-.2zM110.8,188.3l3.4,.3 .5,-2.4 -3.4,-.3zM118,186.4l3.3,.3 .5,-2.4 -3.3,-.2zM121.3,186.7l3.3,.3 .5,-2.4 -3.3,-.3zM124.6,187l3.3,.2 .5,-2.4 -3.3,-.2zM131.7,185.1l3.3,.3 .5,-2.4 -3.3,-.3zM135,185.4l3.4,.2 .5,-2.4 -3.4,-.2zM138.4,185.6l3.3,.3 .5,-2.4 -3.3,-.3zM145.5,183.8l3.3,.2 .5,-2.4 -3.3,-.2zM148.8,184l3.3,.3 .5,-2.4 -3.3,-.3zM155.9,182.2l3.3,.2 .5,-2.3 -3.3,-.3zM159.2,182.4l3.3,.3 .5,-2.4 -3.3,-.2zM162.5,182.7l3.4,.3 .5,-2.4 -3.4,-.3zM169.7,180.9l3.3,.2 .5,-2.3 -3.3,-.3zM173,181.1l3.3,.3 .5,-2.4 -3.3,-.2zM176.3,181.4l3.3,.3 .5,-2.4 -3.3,-.3zM183.4,179.6l3.3,.2 .5,-2.3 -3.3,-.3zM186.7,179.8l3.4,.3 .5,-2.4 -3.4,-.2zM193.9,178l3.3,.3 .5,-2.4 -3.3,-.3zM197.2,178.3l3.3,.2 .5,-2.3 -3.3,-.3zM204.3,176.4l3.3,.3 .5,-2.4 -3.3,-.2zM207.6,176.7l3.3,.3 .5,-2.4 -3.3,-.3zM210.9,177l3.3,.3 .5,-2.4 -3.3,-.3zM218.1,175.2l3.3,.3 .5,-2.4 -3.3,-.3zM221.4,175.5l3.3,.2 .5,-2.3 -3.3,-.3z"/>
<path fill="#01a5b6" stroke="#01a5b6" stroke-width="0.4" d="M49.2,193.4l3.3,.2 .5,-2.4 -3.3,-.3zM56.3,191.5l3.3,.2 .5,-2.4 -3.3,-.3zM59.6,191.7l3.4,.3 .5,-2.5 -3.4,-.2zM63,192l3.3,.2 .5,-2.4 -3.3,-.3zM70.1,190.1l3.3,.2 .5,-2.4 -3.3,-.3zM73.4,190.3l3.3,.3 .5,-2.4 -3.3,-.3zM76.7,190.6l3.3,.2 .5,-2.4 -3.3,-.2zM83.8,188.7l3.3,.2 .5,-2.4 -3.3,-.2zM87.1,188.9l3.4,.3 .5,-2.4 -3.4,-.3zM90.5,189.2l3.3,.2 .5,-2.4 -3.3,-.2zM97.6,187.3l3.3,.3 .5,-2.4 -3.3,-.3zM100.9,187.6l3.3,.2 .5,-2.4 -3.3,-.2zM104.2,187.8l3.3,.3 .5,-2.4 -3.3,-.3zM111.3,185.9l3.4,.3 .5,-2.4 -3.4,-.3zM114.7,186.2l3.3,.2 .5,-2.3 -3.3,-.3zM125.1,184.6l3.3,.2 .5,-2.4 -3.3,-.2zM128.4,184.8l3.3,.3 .5,-2.4 -3.3,-.3zM135.5,183l3.4,.2 .5,-2.4 -3.4,-.2zM138.9,183.2l3.3,.3 .5,-2.4 -3.3,-.3zM142.2,183.5l3.3,.3 .5,-2.4 -3.3,-.3zM149.3,181.6l3.3,.3 .5,-2.4 -3.3,-.2zM152.6,181.9l3.3,.3 .5,-2.4 -3.3,-.3zM163,180.3l3.4,.3 .5,-2.4 -3.4,-.3zM166.4,180.6l3.3,.3 .5,-2.4 -3.3,-.3zM173.5,178.8l3.3,.2 .5,-2.4 -3.3,-.2zM176.8,179l3.3,.3 .5,-2.4 -3.3,-.3zM180.1,179.3l3.3,.3 .5,-2.4 -3.3,-.3zM187.2,177.5l3.4,.2 .5,-2.4 -3.4,-.2zM190.6,177.7l3.3,.3 .5,-2.4 -3.3,-.3zM197.7,175.9l3.3,.3 .5,-2.4 -3.3,-.3zM201,176.2l3.3,.2 .5,-2.3 -3.3,-.3zM208.1,174.3l3.3,.3 .5,-2.4 -3.3,-.2zM211.4,174.6l3.3,.3 .5,-2.4 -3.3,-.3zM214.7,174.9l3.4,.3 .5,-2.4 -3.4,-.3zM221.9,173.1l3.3,.3 .5,-2.4 -3.3,-.3zM225.2,173.4l3.3,.2 .5,-2.3 -3.3,-.3z"/>
<path fill="#02a8b0" stroke="#02a8b0" stroke-width="0.4" d="M49.7,190.9l3.3,.3 .5,-2.4 -3.3,-.3zM53,191.2l3.3,.3 .5,-2.5 -3.3,-.2zM63.5,189.5l3.3,.3 .5,-2.4 -3.3,-.3zM66.8,189.8l3.3,.3 .5,-2.5 -3.3,-.2zM77.2,188.2l3.3,.2 .5,-2.4 -3.3,-.3zM80.5,188.4l3.3,.3 .5,-2.4 -3.3,-.3zM87.6,186.5l3.4,.3 .5,-2.4 -3.4,-.3zM91,186.8l3.3,.2 .5,-2.4 -3.3,-.2zM94.3,187l3.3,.3 .5,-2.4 -3.3,-.3zM101.4,185.2l3.3,.2 .5,-2.4 -3.3,-.3zM104.7,185.4l3.3,.3 .5,-2.4 -3.3,-.3zM108,185.7l3.3,.2 .5,-2.4 -3.3,-.2zM115.2,183.8l3.3,.3 .5,-2.4 -3.3,-.3zM118.5,184.1l3.3,.2 .5,-2.4 -3.3,-.2zM121.8,184.3l3.3,.3 .5,-2.4 -3.3,-.3zM128.9,182.4l3.3,.3 .5,-2.4 -3.3,-.3zM132.2,182.7l3.3,.3 .5,-2.4 -3.3,-.3zM142.7,181.1l3.3,.3 .5,-2.4 -3.3,-.3zM146,181.4l3.3,.2 .5,-2.3 -3.3,-.3zM153.1,179.5l3.3,.3 .5,-2.4 -3.3,-.3zM156.4,179.8l3.3,.3 .5,-2.4 -3.3,-.3zM159.7,180.1l3.3,.2 .5,-2.4 -3.3,-.2zM166.9,178.2l3.3,.3 .5,-2.4 -3.3,-.3zM170.2,178.5l3.3,.3 .5,-2.4 -3.3,-.3zM177.3,176.6l3.3,.3 .5,-2.4 -3.3,-.3zM180.6,176.9l3.3,.3 .5,-2.4 -3.3,-.3zM183.9,177.2l3.3,.3 .5,-2.4 -3.3,-.3zM191.1,175.3l3.3,.3 .5,-2.4 -3.3,-.2zM194.4,175.6l3.3,.3 .5,-2.4 -3.3,-.3zM201.5,173.8l3.3,.3 .5,-2.4 -3.3,-.3zM204.8,174.1l3.3,.2 .5,-2.3 -3.3,-.3zM211.9,172.2l3.3,.3 .5,-2.4 -3.3,-.2zM215.2,172.5l3.4,.3 .5,-2.4 -3.4,-.3zM218.6,172.8l3.3,.3 .5,-2.4 -3.3,-.3zM225.7,171l3.3,.3 .5,-2.4 -3.3,-.3z"/>
<path fill="#0aaaaa" stroke="#0aaaaa" stroke-width="0.4" d="M53.5,188.8l3.3,.2 .5,-2.4 -3.3,-.2zM56.8,189l3.3,.3 .5,-2.4 -3.3,-.3zM60.1,189.3l3.4,.2 .5,-2.4 -3.4,-.2zM67.3,187.4l3.3,.2 .5,-2.4 -3.3,-.2zM70.6,187.6l3.3,.3 .5,-2.4 -3.3,-.3zM73.9,187.9l3.3,.3 .5,-2.5 -3.3,-.2zM81,186l3.3,.3 .5,-2.4 -3.3,-.3zM84.3,186.3l3.3,.2 .5,-2.4 -3.3,-.2zM94.8,184.6l3.3,.3 .5,-2.4 -3.3,-.3zM98.1,184.9l3.3,.3 .5,-2.5 -3.3,-.2zM108.5,183.3l3.3,.2 .5,-2.4 -3.3,-.2zM111.8,183.5l3.4,.3 .5,-2.4 -3.4,-.3zM119,181.7l3.3,.2 .5,-2.4 -3.3,-.3zM122.3,181.9l3.3,.3 .5,-2.4 -3.3,-.3zM125.6,182.2l3.3,.2 .5,-2.4 -3.3,-.2zM132.7,180.3l3.3,.3 .5,-2.4 -3.3,-.3zM136,180.6l3.4,.2 .5,-2.4 -3.4,-.2zM139.4,180.8l3.3,.3 .5,-2.4 -3.3,-.3zM146.5,179l3.3,.3 .5,-2.4 -3.3,-.3zM149.8,179.3l3.3,.2 .5,-2.4 -3.3,-.2zM156.9,177.4l3.3,.3 .5,-2.4 -3.3,-.3zM160.2,177.7l3.3,.2 .5,-2.4 -3.3,-.2zM163.5,177.9l3.4,.3 .5,-2.4 -3.4,-.3zM170.7,176.1l3.3,.3 .5,-2.4 -3.3,-.3zM174,176.4l3.3,.2 .5,-2.4 -3.3,-.2zM181.1,174.5l3.3,.3 .5,-2.4 -3.3,-.3zM184.4,174.8l3.3,.3 .5,-2.4 -3.3,-.3zM187.7,175.1l3.4,.2 .5,-2.3 -3.4,-.3zM194.9,173.2l3.3,.3 .5,-2.4 -3.3,-.3zM198.2,173.5l3.3,.3 .5,-2.4 -3.3,-.3zM205.3,171.7l3.3,.3 .5,-2.4 -3.3,-.3zM208.6,172l3.3,.2 .5,-2.3 -3.3,-.3zM215.7,170.1l3.4,.3 .5,-2.4 -3.4,-.2zM219.1,170.4l3.3,.3 .5,-2.4 -3.3,-.3zM222.4,170.7l3.3,.3 .5,-2.4 -3.3,-.3z"/>
<path fill="#16aca3" stroke="#16aca3" stroke-width="0.4" d="M50.2,188.5l3.3,.3 .5,-2.4 -3.3,-.3zM57.3,186.6l3.3,.3 .5,-2.4 -3.3,-.3zM60.6,186.9l3.4,.2 .5,-2.4 -3.4,-.2zM64,187.1l3.3,.3 .5,-2.4 -3.3,-.3zM71.1,185.2l3.3,.3 .5,-2.4 -3.3,-.3zM74.4,185.5l3.3,.2 .5,-2.4 -3.3,-.2zM77.7,185.7l3.3,.3 .5,-2.4 -3.3,-.3zM84.8,183.9l3.3,.2 .5,-2.4 -3.3,-.3zM88.1,184.1l3.4,.3 .5,-2.4 -3.4,-.3zM91.5,184.4l3.3,.2 .5,-2.4 -3.3,-.2zM98.6,182.5l3.3,.2 .5,-2.4 -3.3,-.2zM101.9,182.7l3.3,.3 .5,-2.4 -3.3,-.3zM105.2,183l3.3,.3 .5,-2.4 -3.3,-.3zM112.3,181.1l3.4,.3 .5,-2.4 -3.4,-.3zM115.7,181.4l3.3,.3 .5,-2.5 -3.3,-.2zM126.1,179.8l3.3,.2 .5,-2.4 -3.3,-.2zM129.4,180l3.3,.3 .5,-2.4 -3.3,-.3zM136.5,178.2l3.4,.2 .5,-2.4 -3.4,-.2zM139.9,178.4l3.3,.3 .5,-2.4 -3.3,-.3zM143.2,178.7l3.3,.3 .5,-2.4 -3.3,-.3zM150.3,176.9l3.3,.2 .5,-2.4 -3.3,-.3zM153.6,177.1l3.3,.3 .5,-2.4 -3.3,-.3zM160.7,175.3l3.3,.2 .5,-2.4 -3.3,-.2zM164,175.5l3.4,.3 .5,-2.4 -3.4,-.3zM167.4,175.8l3.3,.3 .5,-2.4 -3.3,-.3zM174.5,174l3.3,.2 .5,-2.4 -3.3,-.2zM177.8,174.2l3.3,.3 .5,-2.4 -3.3,-.3zM184.9,172.4l3.3,.3 .5,-2.4 -3.3,-.3zM188.2,172.7l3.4,.3 .5,-2.4 -3.4,-.3zM191.6,173l3.3,.2 .5,-2.4 -3.3,-.2zM198.7,171.1l3.3,.3 .5,-2.4 -3.3,-.3zM202,171.4l3.3,.3 .5,-2.4 -3.3,-.3zM209.1,169.6l3.3,.3 .5,-2.4 -3.3,-.3zM212.4,169.9l3.3,.2 .5,-2.3 -3.3,-.3zM219.6,168l3.3,.3 .5,-2.4 -3.3,-.2zM222.9,168.3l3.3,.3 .5,-2.4 -3.3,-.3zM226.2,168.6l3.3,.3 .5,-2.4 -3.3,-.3z"/>
<path fill="#20ae9d" stroke="#20ae9d" stroke-width="0.4" d="M50.7,186.1l3.3,.3 .5,-2.5 -3.3,-.2zM54,186.4l3.3,.2 .5,-2.4 -3.3,-.3zM64.5,184.7l3.3,.3 .5,-2.5 -3.3,-.2zM67.8,185l3.3,.2 .5,-2.4 -3.3,-.3zM78.2,183.3l3.3,.3 .5,-2.4 -3.3,-.3zM81.5,183.6l3.3,.3 .5,-2.5 -3.3,-.2zM88.6,181.7l3.4,.3 .5,-2.5 -3.4,-.2zM92,182l3.3,.2 .5,-2.4 -3.3,-.3zM95.3,182.2l3.3,.3 .5,-2.4 -3.3,-.3zM102.4,180.3l3.3,.3 .5,-2.4 -3.3,-.3zM105.7,180.6l3.3,.3 .5,-2.5 -3.3,-.2zM109,180.9l3.3,.2 .5,-2.4 -3.3,-.3zM116.2,179l3.3,.2 .5,-2.4 -3.3,-.2zM119.5,179.2l3.3,.3 .5,-2.4 -3.3,-.3zM122.8,179.5l3.3,.3 .5,-2.4 -3.3,-.3zM129.9,177.6l3.3,.3 .5,-2.4 -3.3,-.3zM133.2,177.9l3.3,.3 .5,-2.4 -3.3,-.3zM140.4,176l3.3,.3 .5,-2.4 -3.3,-.3zM143.7,176.3l3.3,.3 .5,-2.4 -3.3,-.3zM147,176.6l3.3,.3 .5,-2.5 -3.3,-.2zM154.1,174.7l3.3,.3 .5,-2.4 -3.3,-.3zM157.4,175l3.3,.3 .5,-2.4 -3.3,-.3zM167.9,173.4l3.3,.3 .5,-2.4 -3.3,-.3zM171.2,173.7l3.3,.3 .5,-2.4 -3.3,-.3zM178.3,171.8l3.3,.3 .5,-2.4 -3.3,-.3zM181.6,172.1l3.3,.3 .5,-2.4 -3.3,-.3zM188.7,170.3l3.4,.3 .5,-2.4 -3.4,-.3zM192.1,170.6l3.3,.2 .5,-2.3 -3.3,-.3zM195.4,170.8l3.3,.3 .5,-2.4 -3.3,-.2zM202.5,169l3.3,.3 .5,-2.4 -3.3,-.3zM205.8,169.3l3.3,.3 .5,-2.4 -3.3,-.3zM212.9,167.5l3.3,.3 .5,-2.4 -3.3,-.3zM216.2,167.8l3.4,.2 .5,-2.3 -3.4,-.3zM223.4,165.9l3.3,.3 .5,-2.4 -3.3,-.3zM226.7,166.2l3.3,.3 .5,-2.4 -3.3,-.3z"/>
<path fill="#27b096" stroke="#27b096" stroke-width="0.4" d="M54.5,183.9l3.3,.3 .5,-2.4 -3.3,-.3zM57.8,184.2l3.3,.3 .5,-2.5 -3.3,-.2zM61.1,184.5l3.4,.2 .5,-2.4 -3.4,-.3zM68.3,182.5l3.3,.3 .5,-2.4 -3.3,-.3zM71.6,182.8l3.3,.3 .5,-2.5 -3.3,-.2zM74.9,183.1l3.3,.2 .5,-2.4 -3.3,-.3zM82,181.2l3.3,.2 .5,-2.4 -3.3,-.3zM85.3,181.4l3.3,.3 .5,-2.4 -3.3,-.3zM95.8,179.8l3.3,.3 .5,-2.5 -3.3,-.2zM99.1,180.1l3.3,.2 .5,-2.4 -3.3,-.3zM109.5,178.4l3.3,.3 .5,-2.4 -3.3,-.3zM112.8,178.7l3.4,.3 .5,-2.4 -3.4,-.3zM120,176.8l3.3,.3 .5,-2.4 -3.3,-.3zM123.3,177.1l3.3,.3 .5,-2.4 -3.3,-.3zM126.6,177.4l3.3,.2 .5,-2.4 -3.3,-.2zM133.7,175.5l3.3,.3 .5,-2.4 -3.3,-.3zM137,175.8l3.4,.2 .5,-2.4 -3.4,-.2zM147.5,174.2l3.3,.2 .5,-2.4 -3.3,-.2zM150.8,174.4l3.3,.3 .5,-2.4 -3.3,-.3zM157.9,172.6l3.3,.3 .5,-2.4 -3.3,-.3zM161.2,172.9l3.3,.2 .5,-2.4 -3.3,-.2zM164.5,173.1l3.4,.3 .5,-2.4 -3.4,-.3zM171.7,171.3l3.3,.3 .5,-2.4 -3.3,-.3zM175,171.6l3.3,.2 .5,-2.4 -3.3,-.2zM182.1,169.7l3.3,.3 .5,-2.4 -3.3,-.3zM185.4,170l3.3,.3 .5,-2.4 -3.3,-.3zM195.9,168.5l3.3,.2 .5,-2.4 -3.3,-.3zM199.2,168.7l3.3,.3 .5,-2.4 -3.3,-.3zM206.3,166.9l3.3,.3 .5,-2.4 -3.3,-.3zM209.6,167.2l3.3,.3 .5,-2.4 -3.3,-.3zM216.7,165.4l3.4,.3 .5,-2.4 -3.4,-.3zM220.1,165.7l3.3,.2 .5,-2.4 -3.3,-.2z"/>
<path fill="#2cb28f" stroke="#2cb28f" stroke-width="0.4" d="M51.2,183.7l3.3,.2 .5,-2.4 -3.3,-.3zM58.3,181.8l3.3,.2 .5,-2.4 -3.3,-.3zM61.6,182l3.4,.3 .5,-2.4 -3.4,-.3zM65,182.3l3.3,.2 .5,-2.4 -3.3,-.2zM72.1,180.4l3.3,.2 .5,-2.4 -3.3,-.3zM75.4,180.6l3.3,.3 .5,-2.4 -3.3,-.3zM78.7,180.9l3.3,.3 .5,-2.5 -3.3,-.2zM85.8,179l3.3,.3 .5,-2.5 -3.3,-.2zM89.1,179.3l3.4,.2 .5,-2.4 -3.4,-.3zM92.5,179.5l3.3,.3 .5,-2.4 -3.3,-.3zM99.6,177.6l3.3,.3 .5,-2.4 -3.3,-.3zM102.9,177.9l3.3,.3 .5,-2.4 -3.3,-.3zM106.2,178.2l3.3,.2 .5,-2.4 -3.3,-.2zM113.3,176.3l3.4,.3 .5,-2.5 -3.4,-.2zM116.7,176.6l3.3,.2 .5,-2.4 -3.3,-.3zM127.1,175l3.3,.2 .5,-2.4 -3.3,-.3zM130.4,175.2l3.3,.3 .5,-2.4 -3.3,-.3zM137.5,173.4l3.4,.2 .5,-2.4 -3.4,-.3zM140.9,173.6l3.3,.3 .5,-2.4 -3.3,-.3zM144.2,173.9l3.3,.3 .5,-2.4 -3.3,-.3zM151.3,172l3.3,.3 .5,-2.4 -3.3,-.3zM154.6,172.3l3.3,.3 .5,-2.4 -3.3,-.3zM161.7,170.5l3.3,.2 .5,-2.4 -3.3,-.3zM165,170.7l3.4,.3 .5,-2.4 -3.4,-.3zM168.4,171l3.3,.3 .5,-2.4 -3.3,-.3zM175.5,169.2l3.3,.2 .5,-2.4 -3.3,-.2zM178.8,169.4l3.3,.3 .5,-2.4 -3.3,-.3zM185.9,167.6l3.3,.3 .5,-2.4 -3.3,-.3zM189.2,167.9l3.4,.3 .5,-2.4 -3.4,-.3zM192.6,168.2l3.3,.3 .5,-2.5 -3.3,-.2zM199.7,166.3l3.3,.3 .5,-2.4 -3.3,-.3zM203,166.6l3.3,.3 .5,-2.4 -3.3,-.3zM210.1,164.8l3.3,.3 .5,-2.4 -3.3,-.3zM213.4,165.1l3.3,.3 .5,-2.4 -3.3,-.3zM220.6,163.3l3.3,.2 .5,-2.4 -3.3,-.2zM223.9,163.5l3.3,.3 .5,-2.4 -3.3,-.3zM227.2,163.8l3.3,.3 .5,-2.4 -3.3,-.3z"/>
<path fill="#32b488" stroke="#32b488" stroke-width="0.4" d="M51.7,181.2l3.3,.3 .5,-2.4 -3.3,-.3zM55,181.5l3.3,.3 .5,-2.5 -3.3,-.2zM65.5,179.9l3.3,.2 .5,-2.4 -3.3,-.3zM68.8,180.1l3.3,.3 .5,-2.5 -3.3,-.2zM79.2,178.5l3.3,.2 .5,-2.4 -3.3,-.3zM82.5,178.7l3.3,.3 .5,-2.4 -3.3,-.3zM93,177.1l3.3,.3 .5,-2.5 -3.3,-.2zM96.3,177.4l3.3,.2 .5,-2.4 -3.3,-.3zM103.4,175.5l3.3,.3 .5,-2.5 -3.3,-.2zM106.7,175.8l3.3,.2 .5,-2.4 -3.3,-.3zM110,176l3.3,.3 .5,-2.4 -3.3,-.3zM117.2,174.1l3.3,.3 .5,-2.4 -3.3,-.3zM120.5,174.4l3.3,.3 .5,-2.4 -3.3,-.3zM123.8,174.7l3.3,.3 .5,-2.5 -3.3,-.2zM130.9,172.8l3.3,.3 .5,-2.4 -3.3,-.3zM134.2,173.1l3.3,.3 .5,-2.5 -3.3,-.2zM141.4,171.2l3.3,.3 .5,-2.4 -3.3,-.3zM144.7,171.5l3.3,.3 .5,-2.5 -3.3,-.2zM148,171.8l3.3,.2 .5,-2.4 -3.3,-.3zM155.1,169.9l3.3,.3 .5,-2.4 -3.3,-.3zM158.4,170.2l3.3,.3 .5,-2.5 -3.3,-.2zM168.9,168.6l3.3,.3 .5,-2.4 -3.3,-.3zM172.2,168.9l3.3,.3 .5,-2.4 -3.3,-.3zM179.3,167l3.3,.3 .5,-2.4 -3.3,-.3zM182.6,167.3l3.3,.3 .5,-2.4 -3.3,-.3zM189.7,165.5l3.4,.3 .5,-2.4 -3.4,-.3zM193.1,165.8l3.3,.2 .5,-2.4 -3.3,-.2zM196.4,166l3.3,.3 .5,-2.4 -3.3,-.3zM203.5,164.2l3.3,.3 .5,-2.4 -3.3,-.3zM206.8,164.5l3.3,.3 .5,-2.4 -3.3,-.3zM213.9,162.7l3.3,.3 .5,-2.4 -3.3,-.3zM217.2,163l3.4,.3 .5,-2.4 -3.4,-.3zM224.4,161.1l3.3,.3 .5,-2.4 -3.3,-.3zM227.7,161.4l3.3,.3 .5,-2.4 -3.3,-.3z"/>
<path fill="#39b680" stroke="#39b680" stroke-width="0.4" d="M55.5,179.1l3.3,.2 .5,-2.4 -3.3,-.3zM58.8,179.3l3.3,.3 .5,-2.5 -3.3,-.2zM62.1,179.6l3.4,.3 .5,-2.5 -3.4,-.3zM69.3,177.7l3.3,.2 .5,-2.4 -3.3,-.3zM72.6,177.9l3.3,.3 .5,-2.4 -3.3,-.3zM75.9,178.2l3.3,.3 .5,-2.5 -3.3,-.2zM83,176.3l3.3,.3 .5,-2.5 -3.3,-.2zM86.3,176.6l3.3,.2 .5,-2.4 -3.3,-.3zM89.6,176.8l3.4,.3 .5,-2.4 -3.4,-.3zM96.8,174.9l3.3,.3 .5,-2.4 -3.3,-.3zM100.1,175.2l3.3,.3 .5,-2.4 -3.3,-.3zM110.5,173.6l3.3,.3 .5,-2.5 -3.3,-.2zM113.8,173.9l3.4,.2 .5,-2.4 -3.4,-.3zM121,172l3.3,.3 .5,-2.5 -3.3,-.2zM124.3,172.3l3.3,.2 .5,-2.4 -3.3,-.3zM127.6,172.5l3.3,.3 .5,-2.4 -3.3,-.3zM134.7,170.7l3.3,.2 .5,-2.4 -3.3,-.3zM138,170.9l3.4,.3 .5,-2.4 -3.4,-.3zM148.5,169.3l3.3,.3 .5,-2.4 -3.3,-.3zM151.8,169.6l3.3,.3 .5,-2.4 -3.3,-.3zM158.9,167.8l3.3,.2 .5,-2.4 -3.3,-.3zM162.2,168l3.3,.3 .5,-2.4 -3.3,-.3zM165.5,168.3l3.4,.3 .5,-2.4 -3.4,-.3zM172.7,166.5l3.3,.3 .5,-2.5 -3.3,-.3zM176,166.8l3.3,.2 .5,-2.4 -3.3,-.3zM183.1,164.9l3.3,.3 .5,-2.4 -3.3,-.3zM186.4,165.2l3.3,.3 .5,-2.4 -3.3,-.3zM196.9,163.6l3.3,.3 .5,-2.4 -3.3,-.3zM200.2,163.9l3.3,.3 .5,-2.4 -3.3,-.3zM207.3,162.1l3.3,.3 .5,-2.4 -3.3,-.3zM210.6,162.4l3.3,.3 .5,-2.4 -3.3,-.3zM217.7,160.6l3.4,.3 .5,-2.5 -3.4,-.3zM221.1,160.9l3.3,.2 .5,-2.4 -3.3,-.3zM228.2,159l3.3,.3 .5,-2.4 -3.3,-.3z"/>
<path fill="#43b777" stroke="#43b777" stroke-width="0.4" d="M52.2,178.8l3.3,.3 .5,-2.5 -3.3,-.2zM62.6,177.1l3.4,.3 .5,-2.4 -3.4,-.3zM66,177.4l3.3,.3 .5,-2.5 -3.3,-.2zM76.4,175.8l3.3,.2 .5,-2.4 -3.3,-.3zM79.7,176l3.3,.3 .5,-2.4 -3.3,-.3zM90.1,174.4l3.4,.3 .5,-2.5 -3.4,-.2zM93.5,174.7l3.3,.2 .5,-2.4 -3.3,-.3zM100.6,172.8l3.3,.3 .5,-2.5 -3.3,-.3zM103.9,173.1l3.3,.2 .5,-2.4 -3.3,-.3zM107.2,173.3l3.3,.3 .5,-2.4 -3.3,-.3zM114.3,171.4l3.4,.3 .5,-2.4 -3.4,-.3zM117.7,171.7l3.3,.3 .5,-2.4 -3.3,-.3zM128.1,170.1l3.3,.3 .5,-2.5 -3.3,-.2zM131.4,170.4l3.3,.3 .5,-2.5 -3.3,-.3zM138.5,168.5l3.4,.3 .5,-2.4 -3.4,-.3zM141.9,168.8l3.3,.3 .5,-2.5 -3.3,-.2zM145.2,169.1l3.3,.2 .5,-2.4 -3.3,-.3zM152.3,167.2l3.3,.3 .5,-2.4 -3.3,-.3zM155.6,167.5l3.3,.3 .5,-2.5 -3.3,-.2zM162.7,165.6l3.3,.3 .5,-2.4 -3.3,-.3zM166,165.9l3.4,.3 .5,-2.4 -3.4,-.3zM169.4,166.2l3.3,.3 .5,-2.5 -3.3,-.2zM176.5,164.3l3.3,.3 .5,-2.4 -3.3,-.3zM179.8,164.6l3.3,.3 .5,-2.4 -3.3,-.3zM186.9,162.8l3.3,.3 .5,-2.5 -3.3,-.3zM190.2,163.1l3.4,.3 .5,-2.5 -3.4,-.3zM193.6,163.4l3.3,.2 .5,-2.4 -3.3,-.3zM200.7,161.5l3.3,.3 .5,-2.4 -3.3,-.3zM204,161.8l3.3,.3 .5,-2.4 -3.3,-.3zM211.1,160l3.3,.3 .5,-2.4 -3.3,-.3zM214.4,160.3l3.3,.3 .5,-2.5 -3.3,-.2zM221.6,158.4l3.3,.3 .5,-2.4 -3.3,-.3zM224.9,158.7l3.3,.3 .5,-2.4 -3.3,-.3z"/>
<path fill="#4eb86e" stroke="#4eb86e" stroke-width="0.4" d="M52.7,176.4l3.3,.2 .5,-2.4 -3.3,-.3zM56,176.6l3.3,.3 .5,-2.5 -3.3,-.2zM59.3,176.9l3.3,.2 .5,-2.4 -3.3,-.3zM66.5,175l3.3,.2 .5,-2.4 -3.3,-.3zM69.8,175.2l3.3,.3 .5,-2.4 -3.3,-.3zM73.1,175.5l3.3,.3 .5,-2.5 -3.3,-.2zM80.2,173.6l3.3,.3 .5,-2.5 -3.3,-.3zM83.5,173.9l3.3,.2 .5,-2.4 -3.3,-.3zM86.8,174.1l3.3,.3 .5,-2.4 -3.3,-.3zM94,172.2l3.3,.3 .5,-2.4 -3.3,-.3zM97.3,172.5l3.3,.3 .5,-2.5 -3.3,-.2zM107.7,170.9l3.3,.3 .5,-2.5 -3.3,-.3zM111,171.2l3.3,.2 .5,-2.4 -3.3,-.3zM118.2,169.3l3.3,.3 .5,-2.5 -3.3,-.3zM121.5,169.6l3.3,.2 .5,-2.4 -3.3,-.3zM124.8,169.8l3.3,.3 .5,-2.4 -3.3,-.3zM131.9,167.9l3.3,.3 .5,-2.4 -3.3,-.3zM135.2,168.2l3.3,.3 .5,-2.4 -3.3,-.3zM145.7,166.6l3.3,.3 .5,-2.4 -3.3,-.3zM149,166.9l3.3,.3 .5,-2.4 -3.3,-.3zM156.1,165.1l3.3,.2 .5,-2.4 -3.3,-.3zM159.4,165.3l3.3,.3 .5,-2.4 -3.3,-.3zM169.9,163.8l3.3,.2 .5,-2.4 -3.3,-.3zM173.2,164l3.3,.3 .5,-2.4 -3.3,-.3zM180.3,162.2l3.3,.3 .5,-2.4 -3.3,-.3zM183.6,162.5l3.3,.3 .5,-2.5 -3.3,-.2zM190.7,160.6l3.4,.3 .5,-2.4 -3.4,-.3zM194.1,160.9l3.3,.3 .5,-2.4 -3.3,-.3zM197.4,161.2l3.3,.3 .5,-2.4 -3.3,-.3zM204.5,159.4l3.3,.3 .5,-2.4 -3.3,-.3zM207.8,159.7l3.3,.3 .5,-2.4 -3.3,-.3zM214.9,157.9l3.3,.2 .5,-2.4 -3.3,-.3zM218.2,158.1l3.4,.3 .5,-2.4 -3.4,-.3zM225.4,156.3l3.3,.3 .5,-2.4 -3.3,-.3zM228.7,156.6l3.3,.3 .5,-2.4 -3.3,-.3z"/>
<path fill="#5ab864" stroke="#5ab864" stroke-width="0.4" d="M59.8,174.4l3.3,.3 .5,-2.5 -3.3,-.2zM63.1,174.7l3.4,.3 .5,-2.5 -3.4,-.3zM73.6,173.1l3.3,.2 .5,-2.4 -3.3,-.3zM76.9,173.3l3.3,.3 .5,-2.5 -3.3,-.2zM87.3,171.7l3.3,.3 .5,-2.5 -3.3,-.3zM90.6,172l3.4,.2 .5,-2.4 -3.4,-.3zM97.8,170.1l3.3,.2 .5,-2.4 -3.3,-.3zM101.1,170.3l3.3,.3 .5,-2.4 -3.3,-.3zM104.4,170.6l3.3,.3 .5,-2.5 -3.3,-.2zM111.5,168.7l3.3,.3 .5,-2.4 -3.3,-.3zM114.8,169l3.4,.3 .5,-2.5 -3.4,-.2zM125.3,167.4l3.3,.3 .5,-2.5 -3.3,-.3zM128.6,167.7l3.3,.2 .5,-2.4 -3.3,-.3zM135.7,165.8l3.3,.3 .5,-2.5 -3.3,-.3zM139,166.1l3.4,.3 .5,-2.5 -3.4,-.3zM142.4,166.4l3.3,.2 .5,-2.4 -3.3,-.3zM149.5,164.5l3.3,.3 .5,-2.5 -3.3,-.3zM152.8,164.8l3.3,.3 .5,-2.5 -3.3,-.3zM159.9,162.9l3.3,.3 .5,-2.4 -3.3,-.3zM163.2,163.2l3.3,.3 .5,-2.5 -3.3,-.2zM166.5,163.5l3.4,.3 .5,-2.5 -3.4,-.3zM173.7,161.6l3.3,.3 .5,-2.4 -3.3,-.3zM177,161.9l3.3,.3 .5,-2.4 -3.3,-.3zM184.1,160.1l3.3,.2 .5,-2.4 -3.3,-.3zM187.4,160.3l3.3,.3 .5,-2.4 -3.3,-.3zM197.9,158.8l3.3,.3 .5,-2.4 -3.3,-.3zM201.2,159.1l3.3,.3 .5,-2.4 -3.3,-.3zM208.3,157.3l3.3,.3 .5,-2.5 -3.3,-.3zM211.6,157.6l3.3,.3 .5,-2.5 -3.3,-.3zM218.7,155.7l3.4,.3 .5,-2.4 -3.4,-.3zM222.1,156l3.3,.3 .5,-2.4 -3.3,-.3z"/>
<path fill="#66b85a" stroke="#66b85a" stroke-width="0.4" d="M53.2,173.9l3.3,.3 .5,-2.5 -3.3,-.3zM56.5,174.2l3.3,.2 .5,-2.4 -3.3,-.3zM63.6,172.2l3.4,.3 .5,-2.4 -3.4,-.3zM67,172.5l3.3,.3 .5,-2.5 -3.3,-.2zM70.3,172.8l3.3,.3 .5,-2.5 -3.3,-.3zM77.4,170.9l3.3,.2 .5,-2.4 -3.3,-.3zM80.7,171.1l3.3,.3 .5,-2.4 -3.3,-.3zM84,171.4l3.3,.3 .5,-2.5 -3.3,-.2zM91.1,169.5l3.4,.3 .5,-2.5 -3.4,-.2zM94.5,169.8l3.3,.3 .5,-2.5 -3.3,-.3zM104.9,168.2l3.3,.2 .5,-2.4 -3.3,-.3zM108.2,168.4l3.3,.3 .5,-2.4 -3.3,-.3zM115.3,166.6l3.4,.2 .5,-2.4 -3.4,-.3zM118.7,166.8l3.3,.3 .5,-2.4 -3.3,-.3zM122,167.1l3.3,.3 .5,-2.5 -3.3,-.2zM129.1,165.2l3.3,.3 .5,-2.4 -3.3,-.3zM132.4,165.5l3.3,.3 .5,-2.5 -3.3,-.2zM142.9,163.9l3.3,.3 .5,-2.4 -3.3,-.3zM146.2,164.2l3.3,.3 .5,-2.5 -3.3,-.2zM153.3,162.3l3.3,.3 .5,-2.4 -3.3,-.3zM156.6,162.6l3.3,.3 .5,-2.4 -3.3,-.3zM167,161l3.4,.3 .5,-2.4 -3.4,-.3zM170.4,161.3l3.3,.3 .5,-2.4 -3.3,-.3zM177.5,159.5l3.3,.3 .5,-2.5 -3.3,-.3zM180.8,159.8l3.3,.3 .5,-2.5 -3.3,-.3zM187.9,157.9l3.3,.3 .5,-2.4 -3.3,-.3zM191.2,158.2l3.4,.3 .5,-2.4 -3.4,-.3zM194.6,158.5l3.3,.3 .5,-2.4 -3.3,-.3zM201.7,156.7l3.3,.3 .5,-2.5 -3.3,-.3zM205,157l3.3,.3 .5,-2.5 -3.3,-.3zM212.1,155.1l3.3,.3 .5,-2.4 -3.3,-.3zM215.4,155.4l3.3,.3 .5,-2.4 -3.3,-.3z"/>
<path fill="#74b750" stroke="#74b750" stroke-width="0.4" d="M57,171.7l3.3,.3 .5,-2.5 -3.3,-.3zM60.3,172l3.3,.2 .5,-2.4 -3.3,-.3zM70.8,170.3l3.3,.3 .5,-2.5 -3.3,-.2zM74.1,170.6l3.3,.3 .5,-2.5 -3.3,-.3zM84.5,169l3.3,.2 .5,-2.4 -3.3,-.3zM87.8,169.2l3.3,.3 .5,-2.4 -3.3,-.3zM95,167.3l3.3,.3 .5,-2.4 -3.3,-.3zM98.3,167.6l3.3,.3 .5,-2.5 -3.3,-.2zM101.6,167.9l3.3,.3 .5,-2.5 -3.3,-.3zM108.7,166l3.3,.3 .5,-2.5 -3.3,-.3zM112,166.3l3.3,.3 .5,-2.5 -3.3,-.3zM122.5,164.7l3.3,.2 .5,-2.4 -3.3,-.3zM125.8,164.9l3.3,.3 .5,-2.4 -3.3,-.3zM132.9,163.1l3.3,.2 .5,-2.4 -3.3,-.3zM136.2,163.3l3.3,.3 .5,-2.4 -3.3,-.3zM139.5,163.6l3.4,.3 .5,-2.4 -3.4,-.3zM146.7,161.8l3.3,.2 .5,-2.4 -3.3,-.3zM150,162l3.3,.3 .5,-2.4 -3.3,-.3zM157.1,160.2l3.3,.3 .5,-2.5 -3.3,-.3zM160.4,160.5l3.3,.3 .5,-2.5 -3.3,-.3zM163.7,160.8l3.3,.2 .5,-2.4 -3.3,-.3zM170.9,158.9l3.3,.3 .5,-2.5 -3.3,-.2zM174.2,159.2l3.3,.3 .5,-2.5 -3.3,-.3zM181.3,157.3l3.3,.3 .5,-2.4 -3.3,-.3zM184.6,157.6l3.3,.3 .5,-2.4 -3.3,-.3zM195.1,156.1l3.3,.3 .5,-2.5 -3.3,-.3zM198.4,156.4l3.3,.3 .5,-2.5 -3.3,-.3zM205.5,154.5l3.3,.3 .5,-2.4 -3.3,-.3zM208.8,154.8l3.3,.3 .5,-2.4 -3.3,-.3z"/>
<path fill="#81b646" stroke="#81b646" stroke-width="0.4" d="M53.7,171.4l3.3,.3 .5,-2.5 -3.3,-.2zM60.8,169.5l3.3,.3 .5,-2.5 -3.3,-.3zM64.1,169.8l3.4,.3 .5,-2.5 -3.4,-.3zM67.5,170.1l3.3,.2 .5,-2.4 -3.3,-.3zM74.6,168.1l3.3,.3 .5,-2.5 -3.3,-.2zM77.9,168.4l3.3,.3 .5,-2.5 -3.3,-.3zM81.2,168.7l3.3,.3 .5,-2.5 -3.3,-.3zM88.3,166.8l3.3,.3 .5,-2.5 -3.3,-.3zM91.6,167.1l3.4,.2 .5,-2.4 -3.4,-.3zM102.1,165.4l3.3,.3 .5,-2.4 -3.3,-.3zM105.4,165.7l3.3,.3 .5,-2.5 -3.3,-.2zM112.5,163.8l3.3,.3 .5,-2.5 -3.3,-.2zM115.8,164.1l3.4,.3 .5,-2.5 -3.4,-.3zM119.2,164.4l3.3,.3 .5,-2.5 -3.3,-.3zM126.3,162.5l3.3,.3 .5,-2.5 -3.3,-.3zM129.6,162.8l3.3,.3 .5,-2.5 -3.3,-.3zM140,161.2l3.4,.3 .5,-2.5 -3.4,-.3zM143.4,161.5l3.3,.3 .5,-2.5 -3.3,-.3zM150.5,159.6l3.3,.3 .5,-2.5 -3.3,-.3zM153.8,159.9l3.3,.3 .5,-2.5 -3.3,-.3zM164.2,158.3l3.3,.3 .5,-2.4 -3.3,-.3zM167.5,158.6l3.4,.3 .5,-2.4 -3.4,-.3zM174.7,156.7l3.3,.3 .5,-2.4 -3.3,-.3zM178,157l3.3,.3 .5,-2.4 -3.3,-.3zM185.1,155.2l3.3,.3 .5,-2.5 -3.3,-.3zM188.4,155.5l3.3,.3 .5,-2.5 -3.3,-.3zM191.7,155.8l3.4,.3 .5,-2.5 -3.4,-.3zM198.9,153.9l3.3,.3 .5,-2.4 -3.3,-.3zM202.2,154.2l3.3,.3 .5,-2.4 -3.3,-.3z"/>
<path fill="#8eb53c" stroke="#8eb53c" stroke-width="0.4" d="M54.2,169l3.3,.2 .5,-2.4 -3.3,-.3zM57.5,169.2l3.3,.3 .5,-2.5 -3.3,-.2zM68,167.6l3.3,.3 .5,-2.5 -3.3,-.3zM71.3,167.9l3.3,.2 .5,-2.4 -3.3,-.3zM81.7,166.2l3.3,.3 .5,-2.5 -3.3,-.2zM85,166.5l3.3,.3 .5,-2.5 -3.3,-.3zM92.1,164.6l3.4,.3 .5,-2.5 -3.4,-.3zM95.5,164.9l3.3,.3 .5,-2.5 -3.3,-.3zM98.8,165.2l3.3,.2 .5,-2.4 -3.3,-.3zM105.9,163.3l3.3,.2 .5,-2.4 -3.3,-.3zM109.2,163.5l3.3,.3 .5,-2.4 -3.3,-.3zM119.7,161.9l3.3,.3 .5,-2.4 -3.3,-.3zM123,162.2l3.3,.3 .5,-2.5 -3.3,-.2zM130.1,160.3l3.3,.3 .5,-2.4 -3.3,-.3zM133.4,160.6l3.3,.3 .5,-2.5 -3.3,-.2zM136.7,160.9l3.3,.3 .5,-2.5 -3.3,-.3zM143.9,159l3.3,.3 .5,-2.4 -3.3,-.3zM147.2,159.3l3.3,.3 .5,-2.5 -3.3,-.2zM154.3,157.4l3.3,.3 .5,-2.4 -3.3,-.3zM157.6,157.7l3.3,.3 .5,-2.4 -3.3,-.3zM160.9,158l3.3,.3 .5,-2.4 -3.3,-.3zM168,156.2l3.4,.3 .5,-2.5 -3.4,-.3zM171.4,156.5l3.3,.2 .5,-2.4 -3.3,-.3zM178.5,154.6l3.3,.3 .5,-2.5 -3.3,-.3zM181.8,154.9l3.3,.3 .5,-2.5 -3.3,-.3zM192.2,153.3l3.4,.3 .5,-2.4 -3.4,-.3zM195.6,153.6l3.3,.3 .5,-2.4 -3.3,-.3z"/>
<path fill="#9ab333" stroke="#9ab333" stroke-width="0.4" d="M58,166.8l3.3,.2 .5,-2.4 -3.3,-.3zM61.3,167l3.3,.3 .5,-2.5 -3.3,-.2zM64.6,167.3l3.4,.3 .5,-2.5 -3.4,-.3zM71.8,165.4l3.3,.3 .5,-2.5 -3.3,-.3zM75.1,165.7l3.3,.2 .5,-2.4 -3.3,-.3zM78.4,165.9l3.3,.3 .5,-2.4 -3.3,-.3zM85.5,164l3.3,.3 .5,-2.5 -3.3,-.2zM88.8,164.3l3.3,.3 .5,-2.5 -3.3,-.3zM99.3,162.7l3.3,.3 .5,-2.5 -3.3,-.3zM102.6,163l3.3,.3 .5,-2.5 -3.3,-.3zM113,161.4l3.3,.2 .5,-2.4 -3.3,-.3zM116.3,161.6l3.4,.3 .5,-2.4 -3.4,-.3zM123.5,159.8l3.3,.2 .5,-2.4 -3.3,-.3zM126.8,160l3.3,.3 .5,-2.4 -3.3,-.3zM137.2,158.4l3.3,.3 .5,-2.4 -3.3,-.3zM140.5,158.7l3.4,.3 .5,-2.4 -3.4,-.3zM147.7,156.9l3.3,.2 .5,-2.4 -3.3,-.3zM151,157.1l3.3,.3 .5,-2.4 -3.3,-.3zM161.4,155.6l3.3,.3 .5,-2.5 -3.3,-.3zM164.7,155.9l3.3,.3 .5,-2.5 -3.3,-.3zM171.9,154l3.3,.3 .5,-2.5 -3.3,-.3zM175.2,154.3l3.3,.3 .5,-2.5 -3.3,-.3zM185.6,152.7l3.3,.3 .5,-2.4 -3.3,-.3zM188.9,153l3.3,.3 .5,-2.4 -3.3,-.3z"/>
<path fill="#a6b12c" stroke="#a6b12c" stroke-width="0.4" d="M54.7,166.5l3.3,.3 .5,-2.5 -3.3,-.3zM65.1,164.8l3.4,.3 .5,-2.5 -3.4,-.2zM68.5,165.1l3.3,.3 .5,-2.5 -3.3,-.3zM78.9,163.5l3.3,.3 .5,-2.5 -3.3,-.3zM82.2,163.8l3.3,.2 .5,-2.4 -3.3,-.3zM92.6,162.1l3.4,.3 .5,-2.5 -3.4,-.3zM96,162.4l3.3,.3 .5,-2.5 -3.3,-.3zM103.1,160.5l3.3,.3 .5,-2.5 -3.3,-.3zM106.4,160.8l3.3,.3 .5,-2.5 -3.3,-.3zM109.7,161.1l3.3,.3 .5,-2.5 -3.3,-.3zM116.8,159.2l3.4,.3 .5,-2.5 -3.4,-.3zM120.2,159.5l3.3,.3 .5,-2.5 -3.3,-.3zM130.6,157.9l3.3,.3 .5,-2.5 -3.3,-.3zM133.9,158.2l3.3,.2 .5,-2.4 -3.3,-.3zM141,156.3l3.4,.3 .5,-2.5 -3.4,-.3zM144.4,156.6l3.3,.3 .5,-2.5 -3.3,-.3zM154.8,155l3.3,.3 .5,-2.5 -3.3,-.3zM158.1,155.3l3.3,.3 .5,-2.5 -3.3,-.3zM165.2,153.4l3.3,.3 .5,-2.5 -3.3,-.3zM168.5,153.7l3.4,.3 .5,-2.5 -3.4,-.3zM175.7,151.8l3.3,.3 .5,-2.4 -3.3,-.3zM179,152.1l3.3,.3 .5,-2.4 -3.3,-.3zM182.3,152.4l3.3,.3 .5,-2.4 -3.3,-.3z"/>
<path fill="#b2ae26" stroke="#b2ae26" stroke-width="0.4" d="M58.5,164.3l3.3,.3 .5,-2.5 -3.3,-.3zM61.8,164.6l3.3,.2 .5,-2.4 -3.3,-.3zM69,162.6l3.3,.3 .5,-2.5 -3.3,-.3zM72.3,162.9l3.3,.3 .5,-2.5 -3.3,-.3zM75.6,163.2l3.3,.3 .5,-2.5 -3.3,-.3zM82.7,161.3l3.3,.3 .5,-2.5 -3.3,-.3zM86,161.6l3.3,.2 .5,-2.4 -3.3,-.3zM89.3,161.8l3.3,.3 .5,-2.5 -3.3,-.2zM96.5,159.9l3.3,.3 .5,-2.5 -3.3,-.2zM99.8,160.2l3.3,.3 .5,-2.5 -3.3,-.3zM110.2,158.6l3.3,.3 .5,-2.5 -3.3,-.3zM113.5,158.9l3.3,.3 .5,-2.5 -3.3,-.3zM120.7,157l3.3,.3 .5,-2.5 -3.3,-.3zM124,157.3l3.3,.3 .5,-2.5 -3.3,-.3zM127.3,157.6l3.3,.3 .5,-2.5 -3.3,-.3zM134.4,155.7l3.3,.3 .5,-2.5 -3.3,-.3zM137.7,156l3.3,.3 .5,-2.5 -3.3,-.3zM144.9,154.1l3.3,.3 .5,-2.5 -3.3,-.3zM148.2,154.4l3.3,.3 .5,-2.5 -3.3,-.3zM151.5,154.7l3.3,.3 .5,-2.5 -3.3,-.3zM158.6,152.8l3.3,.3 .5,-2.5 -3.3,-.3zM161.9,153.1l3.3,.3 .5,-2.5 -3.3,-.3zM169,151.2l3.4,.3 .5,-2.4 -3.4,-.3zM172.4,151.5l3.3,.3 .5,-2.4 -3.3,-.3z"/>
<path fill="#bcac23" stroke="#bcac23" stroke-width="0.4" d="M55.2,164l3.3,.3 .5,-2.5 -3.3,-.3zM62.3,162.1l3.3,.3 .5,-2.5 -3.3,-.3zM65.6,162.4l3.4,.2 .5,-2.5 -3.4,-.2zM76.1,160.7l3.3,.3 .5,-2.5 -3.3,-.3zM79.4,161l3.3,.3 .5,-2.5 -3.3,-.3zM89.8,159.4l3.3,.2 .5,-2.4 -3.3,-.3zM93.1,159.6l3.4,.3 .5,-2.4 -3.4,-.3zM100.3,157.7l3.3,.3 .5,-2.5 -3.3,-.2zM103.6,158l3.3,.3 .5,-2.5 -3.3,-.3zM106.9,158.3l3.3,.3 .5,-2.5 -3.3,-.3zM114,156.4l3.3,.3 .5,-2.5 -3.3,-.3zM117.3,156.7l3.4,.3 .5,-2.5 -3.4,-.3zM127.8,155.1l3.3,.3 .5,-2.5 -3.3,-.3zM131.1,155.4l3.3,.3 .5,-2.5 -3.3,-.3zM138.2,153.5l3.3,.3 .5,-2.5 -3.3,-.3zM141.5,153.8l3.4,.3 .5,-2.5 -3.4,-.3zM152,152.2l3.3,.3 .5,-2.5 -3.3,-.2zM155.3,152.5l3.3,.3 .5,-2.5 -3.3,-.3zM162.4,150.6l3.3,.3 .5,-2.4 -3.3,-.3zM165.7,150.9l3.3,.3 .5,-2.4 -3.3,-.3z"/>
<path fill="#c6aa25" stroke="#c6aa25" stroke-width="0.4" d="M55.7,161.5l3.3,.3 .5,-2.5 -3.3,-.3zM59,161.8l3.3,.3 .5,-2.5 -3.3,-.3zM69.5,160.1l3.3,.3 .5,-2.5 -3.3,-.2zM72.8,160.4l3.3,.3 .5,-2.5 -3.3,-.3zM79.9,158.5l3.3,.3 .5,-2.5 -3.3,-.3zM83.2,158.8l3.3,.3 .5,-2.5 -3.3,-.3zM86.5,159.1l3.3,.3 .5,-2.5 -3.3,-.3zM93.6,157.2l3.4,.3 .5,-2.5 -3.4,-.3zM97,157.5l3.3,.2 .5,-2.4 -3.3,-.3zM107.4,155.8l3.3,.3 .5,-2.5 -3.3,-.2zM110.7,156.1l3.3,.3 .5,-2.5 -3.3,-.3zM121.2,154.5l3.3,.3 .5,-2.5 -3.3,-.3zM124.5,154.8l3.3,.3 .5,-2.5 -3.3,-.3zM131.6,152.9l3.3,.3 .5,-2.5 -3.3,-.3zM134.9,153.2l3.3,.3 .5,-2.5 -3.3,-.3zM145.4,151.6l3.3,.3 .5,-2.4 -3.3,-.3zM148.7,151.9l3.3,.3 .5,-2.4 -3.3,-.3zM155.8,150l3.3,.3 .5,-2.4 -3.3,-.3zM159.1,150.3l3.3,.3 .5,-2.4 -3.3,-.3z"/>
<path fill="#cfa829" stroke="#cfa829" stroke-width="0.4" d="M59.5,159.3l3.3,.3 .5,-2.5 -3.3,-.3zM62.8,159.6l3.3,.3 .5,-2.5 -3.3,-.3zM66.1,159.9l3.4,.2 .5,-2.4 -3.4,-.3zM73.3,157.9l3.3,.3 .5,-2.5 -3.3,-.3zM76.6,158.2l3.3,.3 .5,-2.5 -3.3,-.3zM87,156.6l3.3,.3 .5,-2.5 -3.3,-.3zM90.3,156.9l3.3,.3 .5,-2.5 -3.3,-.3zM100.8,155.3l3.3,.2 .5,-2.4 -3.3,-.3zM104.1,155.5l3.3,.3 .5,-2.4 -3.3,-.3zM111.2,153.6l3.3,.3 .5,-2.5 -3.3,-.2zM114.5,153.9l3.3,.3 .5,-2.5 -3.3,-.3zM117.8,154.2l3.4,.3 .5,-2.5 -3.4,-.3zM125,152.3l3.3,.3 .5,-2.5 -3.3,-.3zM128.3,152.6l3.3,.3 .5,-2.5 -3.3,-.3zM135.4,150.7l3.3,.3 .5,-2.4 -3.3,-.3zM138.7,151l3.3,.3 .5,-2.4 -3.3,-.3zM142,151.3l3.4,.3 .5,-2.4 -3.4,-.3zM149.2,149.5l3.3,.3 .5,-2.5 -3.3,-.3zM152.5,149.8l3.3,.2 .5,-2.4 -3.3,-.3z"/>
<path fill="#d8a730" stroke="#d8a730" stroke-width="0.4" d="M56.2,159l3.3,.3 .5,-2.5 -3.3,-.3zM66.6,157.4l3.4,.3 .5,-2.5 -3.4,-.3zM70,157.7l3.3,.2 .5,-2.5 -3.3,-.2zM80.4,156l3.3,.3 .5,-2.5 -3.3,-.3zM83.7,156.3l3.3,.3 .5,-2.5 -3.3,-.3zM90.8,154.4l3.3,.3 .5,-2.5 -3.3,-.3zM94.1,154.7l3.4,.3 .5,-2.5 -3.4,-.3zM97.5,155l3.3,.3 .5,-2.5 -3.3,-.3zM104.6,153.1l3.3,.3 .5,-2.5 -3.3,-.3zM107.9,153.4l3.3,.2 .5,-2.4 -3.3,-.3zM118.3,151.7l3.4,.3 .5,-2.5 -3.4,-.2zM121.7,152l3.3,.3 .5,-2.5 -3.3,-.3zM128.8,150.1l3.3,.3 .5,-2.4 -3.3,-.3zM132.1,150.4l3.3,.3 .5,-2.4 -3.3,-.3zM142.5,148.9l3.4,.3 .5,-2.5 -3.4,-.3zM145.9,149.2l3.3,.3 .5,-2.5 -3.3,-.3z"/>
<path fill="#dfa737" stroke="#dfa737" stroke-width="0.4" d="M60,156.8l3.3,.3 .5,-2.5 -3.3,-.3zM63.3,157.1l3.3,.3 .5,-2.5 -3.3,-.3zM70.5,155.2l3.3,.2 .5,-2.5 -3.3,-.3zM73.8,155.4l3.3,.3 .5,-2.5 -3.3,-.3zM77.1,155.7l3.3,.3 .5,-2.5 -3.3,-.3zM84.2,153.8l3.3,.3 .5,-2.5 -3.3,-.3zM87.5,154.1l3.3,.3 .5,-2.5 -3.3,-.3zM98,152.5l3.3,.3 .5,-2.5 -3.3,-.3zM101.3,152.8l3.3,.3 .5,-2.5 -3.3,-.3zM111.7,151.2l3.3,.2 .5,-2.4 -3.3,-.3zM115,151.4l3.3,.3 .5,-2.4 -3.3,-.3zM122.2,149.5l3.3,.3 .5,-2.4 -3.3,-.3zM125.5,149.8l3.3,.3 .5,-2.4 -3.3,-.3zM135.9,148.3l3.3,.3 .5,-2.5 -3.3,-.3zM139.2,148.6l3.3,.3 .5,-2.5 -3.3,-.3z"/>
<path fill="#e4ab36" stroke="#e4ab36" stroke-width="0.4" d="M56.7,156.5l3.3,.3 .5,-2.5 -3.3,-.3zM63.8,154.6l3.3,.3 .5,-2.5 -3.3,-.3zM67.1,154.9l3.4,.3 .5,-2.6 -3.4,-.2zM77.6,153.2l3.3,.3 .5,-2.5 -3.3,-.3zM80.9,153.5l3.3,.3 .5,-2.5 -3.3,-.3zM91.3,151.9l3.3,.3 .5,-2.5 -3.3,-.3zM94.6,152.2l3.4,.3 .5,-2.5 -3.4,-.3zM101.8,150.3l3.3,.3 .5,-2.5 -3.3,-.3zM105.1,150.6l3.3,.3 .5,-2.5 -3.3,-.3zM108.4,150.9l3.3,.3 .5,-2.5 -3.3,-.3zM115.5,149l3.3,.3 .5,-2.5 -3.3,-.3zM118.8,149.3l3.4,.2 .5,-2.4 -3.4,-.3zM129.3,147.7l3.3,.3 .5,-2.5 -3.3,-.3zM132.6,148l3.3,.3 .5,-2.5 -3.3,-.3z"/>
<path fill="#e5b032" stroke="#e5b032" stroke-width="0.4" d="M57.2,154l3.3,.3 .5,-2.5 -3.3,-.3zM60.5,154.3l3.3,.3 .5,-2.5 -3.3,-.3zM71,152.6l3.3,.3 .5,-2.5 -3.3,-.3zM74.3,152.9l3.3,.3 .5,-2.5 -3.3,-.3zM84.7,151.3l3.3,.3 .5,-2.5 -3.3,-.3zM88,151.6l3.3,.3 .5,-2.5 -3.3,-.3zM95.1,149.7l3.4,.3 .5,-2.5 -3.4,-.3zM98.5,150l3.3,.3 .5,-2.5 -3.3,-.3zM108.9,148.4l3.3,.3 .5,-2.5 -3.3,-.3zM112.2,148.7l3.3,.3 .5,-2.5 -3.3,-.3zM119.3,146.8l3.4,.3 .5,-2.5 -3.4,-.4zM122.7,147.1l3.3,.3 .5,-2.5 -3.3,-.3zM126,147.4l3.3,.3 .5,-2.5 -3.3,-.3z"/>
<path fill="#e4b52f" stroke="#e4b52f" stroke-width="0.4" d="M64.3,152.1l3.3,.3 .5,-2.6 -3.3,-.3zM67.6,152.4l3.4,.2 .5,-2.5 -3.4,-.3zM74.8,150.4l3.3,.3 .5,-2.5 -3.3,-.3zM78.1,150.7l3.3,.3 .5,-2.5 -3.3,-.3zM81.4,151l3.3,.3 .5,-2.5 -3.3,-.3zM88.5,149.1l3.3,.3 .5,-2.5 -3.3,-.3zM91.8,149.4l3.3,.3 .5,-2.5 -3.3,-.3zM102.3,147.8l3.3,.3 .5,-2.5 -3.3,-.3zM105.6,148.1l3.3,.3 .5,-2.5 -3.3,-.3zM112.7,146.2l3.3,.3 .5,-2.6 -3.3,-.3zM116,146.5l3.3,.3 .5,-2.6 -3.3,-.3z"/>
<path fill="#e3bb2b" stroke="#e3bb2b" stroke-width="0.4" d="M57.7,151.5l3.3,.3 .5,-2.5 -3.3,-.3zM61,151.8l3.3,.3 .5,-2.6 -3.3,-.2zM68.1,149.8l3.4,.3 .5,-2.5 -3.4,-.3zM71.5,150.1l3.3,.3 .5,-2.5 -3.3,-.3zM81.9,148.5l3.3,.3 .5,-2.5 -3.3,-.3zM85.2,148.8l3.3,.3 .5,-2.5 -3.3,-.3zM95.6,147.2l3.4,.3 .5,-2.5 -3.4,-.3zM99,147.5l3.3,.3 .5,-2.5 -3.3,-.3zM106.1,145.6l3.3,.3 .5,-2.6 -3.3,-.3zM109.4,145.9l3.3,.3 .5,-2.6 -3.3,-.3z"/>
<path fill="#e1c029" stroke="#e1c029" stroke-width="0.4" d="M61.5,149.3l3.3,.2 .5,-2.5 -3.3,-.3zM64.8,149.5l3.3,.3 .5,-2.5 -3.3,-.3zM75.3,147.9l3.3,.3 .5,-2.5 -3.3,-.3zM78.6,148.2l3.3,.3 .5,-2.5 -3.3,-.3zM85.7,146.3l3.3,.3 .5,-2.5 -3.3,-.3zM89,146.6l3.3,.3 .5,-2.5 -3.3,-.3zM92.3,146.9l3.3,.3 .5,-2.5 -3.3,-.3zM99.5,145l3.3,.3 .5,-2.6 -3.3,-.3zM102.8,145.3l3.3,.3 .5,-2.6 -3.3,-.3z"/>
<path fill="#dec626" stroke="#dec626" stroke-width="0.4" d="M58.2,149l3.3,.3 .5,-2.6 -3.3,-.3zM68.6,147.3l3.4,.3 .5,-2.5 -3.4,-.3zM72,147.6l3.3,.3 .5,-2.5 -3.3,-.3zM79.1,145.7l3.3,.3 .5,-2.6 -3.3,-.3zM82.4,146l3.3,.3 .5,-2.5 -3.3,-.4zM92.8,144.4l3.3,.3 .5,-2.6 -3.3,-.3zM96.1,144.7l3.4,.3 .5,-2.6 -3.4,-.3z"/>
<path fill="#ddcc23" stroke="#ddcc23" stroke-width="0.4" d="M58.7,146.4l3.3,.3 .5,-2.5 -3.3,-.3zM62,146.7l3.3,.3 .5,-2.5 -3.3,-.3zM65.3,147l3.3,.3 .5,-2.5 -3.3,-.3zM72.5,145.1l3.3,.3 .5,-2.6 -3.3,-.3zM75.8,145.4l3.3,.3 .5,-2.6 -3.3,-.3zM86.2,143.8l3.3,.3 .5,-2.6 -3.3,-.3zM89.5,144.1l3.3,.3 .5,-2.6 -3.3,-.3z"/>
<path fill="#dcd221" stroke="#dcd221" stroke-width="0.4" d="M65.8,144.5l3.3,.3 .5,-2.6 -3.3,-.3zM69.1,144.8l3.4,.3 .5,-2.6 -3.4,-.3zM79.6,143.1l3.3,.3 .5,-2.5 -3.3,-.3zM82.9,143.4l3.3,.4 .5,-2.6 -3.3,-.3z"/>
<path fill="#ddd71d" stroke="#ddd71d" stroke-width="0.4" d="M59.2,143.9l3.3,.3 .5,-2.6 -3.3,-.3zM62.5,144.2l3.3,.3 .5,-2.6 -3.3,-.3zM73,142.5l3.3,.3 .5,-2.5 -3.3,-.3zM76.3,142.8l3.3,.3 .5,-2.5 -3.3,-.3z"/>
<path fill="#dedc18" stroke="#dedc18" stroke-width="0.4" d="M66.3,141.9l3.3,.3 .5,-2.5 -3.3,-.3zM69.6,142.2l3.4,.3 .5,-2.5 -3.4,-.3z"/>
<path fill="#e0e212" stroke="#e0e212" stroke-width="0.4" d="M59.7,141.3l3.3,.3 .5,-2.5 -3.3,-.3zM63,141.6l3.3,.3 .5,-2.5 -3.3,-.3z"/>
<path fill="none" stroke="#000" stroke-width="0.65" stroke-opacity="0.65" d="M45.2,212.4L45.7,210L46.2,207.7L46.7,205.3L47.2,202.9L47.7,200.5L48.2,198.2L48.7,195.8L49.2,193.4L49.7,190.9L50.2,188.5L50.7,186.1L51.2,183.7L51.7,181.2L52.2,178.8L52.7,176.4L53.2,173.9L53.7,171.4L54.2,169L54.7,166.5L55.2,164L55.7,161.5L56.2,159L56.7,156.5L57.2,154L57.7,151.5L58.2,149L58.7,146.4L59.2,143.9L59.7,141.3L60.2,138.8M48.5,212.6L49,210.3L49.5,207.9L50,205.5L50.5,203.2L51,200.8L51.5,198.4L52,196L52.5,193.6L53,191.2L53.5,188.8L54,186.4L54.5,183.9L55,181.5L55.5,179.1L56,176.6L56.5,174.2L57,171.7L57.5,169.2L58,166.8L58.5,164.3L59,161.8L59.5,159.3L60,156.8L60.5,154.3L61,151.8L61.5,149.3L62,146.7L62.5,144.2L63,141.6L63.5,139.1M51.8,212.9L52.3,210.5L52.8,208.1L53.3,205.8L53.8,203.4L54.3,201L54.8,198.6L55.3,196.3L55.8,193.9L56.3,191.5L56.8,189L57.3,186.6L57.8,184.2L58.3,181.8L58.8,179.3L59.3,176.9L59.8,174.4L60.3,172L60.8,169.5L61.3,167L61.8,164.6L62.3,162.1L62.8,159.6L63.3,157.1L63.8,154.6L64.3,152.1L64.8,149.5L65.3,147L65.8,144.5L66.3,141.9L66.8,139.4M55.1,213.1L55.6,210.7L56.1,208.4L56.6,206L57.1,203.7L57.6,201.3L58.1,198.9L58.6,196.5L59.1,194.1L59.6,191.7L60.1,189.3L60.6,186.9L61.1,184.5L61.6,182L62.1,179.6L62.6,177.1L63.1,174.7L63.6,172.2L64.1,169.8L64.6,167.3L65.1,164.8L65.6,162.4L66.1,159.9L66.6,157.4L67.1,154.9L67.6,152.4L68.1,149.8L68.6,147.3L69.1,144.8L69.6,142.2L70.1,139.7M58.5,213.3L59,211L59.5,208.6L60,206.3L60.5,203.9L61,201.5L61.5,199.1L62,196.7L62.5,194.4L63,192L63.5,189.5L64,187.1L64.5,184.7L65,182.3L65.5,179.9L66,177.4L66.5,175L67,172.5L67.5,170.1L68,167.6L68.5,165.1L69,162.6L69.5,160.1L70,157.7L70.5,155.2L71,152.6L71.5,150.1L72,147.6L72.5,145.1L73,142.5L73.5,140M61.8,213.6L62.3,211.2L62.8,208.9L63.3,206.5L63.8,204.1L64.3,201.8L64.8,199.4L65.3,197L65.8,194.6L66.3,192.2L66.8,189.8L67.3,187.4L67.8,185L68.3,182.5L68.8,180.1L69.3,177.7L69.8,175.2L70.3,172.8L70.8,170.3L71.3,167.9L71.8,165.4L72.3,162.9L72.8,160.4L73.3,157.9L73.8,155.4L74.3,152.9L74.8,150.4L75.3,147.9L75.8,145.4L76.3,142.8L76.8,140.3M65.1,213.8L65.6,211.4L66.1,209.1L66.6,206.7L67.1,204.4L67.6,202L68.1,199.6L68.6,197.2L69.1,194.9L69.6,192.5L70.1,190.1L70.6,187.6L71.1,185.2L71.6,182.8L72.1,180.4L72.6,177.9L73.1,175.5L73.6,173.1L74.1,170.6L74.6,168.1L75.1,165.7L75.6,163.2L76.1,160.7L76.6,158.2L77.1,155.7L77.6,153.2L78.1,150.7L78.6,148.2L79.1,145.7L79.6,143.1L80.1,140.6M68.4,214L68.9,211.7L69.4,209.3L69.9,207L70.4,204.6L70.9,202.2L71.4,199.9L71.9,197.5L72.4,195.1L72.9,192.7L73.4,190.3L73.9,187.9L74.4,185.5L74.9,183.1L75.4,180.6L75.9,178.2L76.4,175.8L76.9,173.3L77.4,170.9L77.9,168.4L78.4,165.9L78.9,163.5L79.4,161L79.9,158.5L80.4,156L80.9,153.5L81.4,151L81.9,148.5L82.4,146L82.9,143.4L83.4,140.9M71.7,214.2L72.2,211.9L72.7,209.6L73.2,207.2L73.7,204.8L74.2,202.5L74.7,200.1L75.2,197.7L75.7,195.4L76.2,193L76.7,190.6L77.2,188.2L77.7,185.7L78.2,183.3L78.7,180.9L79.2,178.5L79.7,176L80.2,173.6L80.7,171.1L81.2,168.7L81.7,166.2L82.2,163.8L82.7,161.3L83.2,158.8L83.7,156.3L84.2,153.8L84.7,151.3L85.2,148.8L85.7,146.3L86.2,143.8L86.7,141.2M75,214.5L75.5,212.1L76,209.8L76.5,207.4L77,205.1L77.5,202.7L78,200.4L78.5,198L79,195.6L79.5,193.2L80,190.8L80.5,188.4L81,186L81.5,183.6L82,181.2L82.5,178.7L83,176.3L83.5,173.9L84,171.4L84.5,169L85,166.5L85.5,164L86,161.6L86.5,159.1L87,156.6L87.5,154.1L88,151.6L88.5,149.1L89,146.6L89.5,144.1L90,141.5M78.3,214.7L78.8,212.4L79.3,210L79.8,207.7L80.3,205.3L80.8,203L81.3,200.6L81.8,198.2L82.3,195.8L82.8,193.5L83.3,191.1L83.8,188.7L84.3,186.3L84.8,183.9L85.3,181.4L85.8,179L86.3,176.6L86.8,174.1L87.3,171.7L87.8,169.2L88.3,166.8L88.8,164.3L89.3,161.8L89.8,159.4L90.3,156.9L90.8,154.4L91.3,151.9L91.8,149.4L92.3,146.9L92.8,144.4L93.3,141.8M81.6,214.9L82.1,212.6L82.6,210.3L83.1,207.9L83.6,205.6L84.1,203.2L84.6,200.8L85.1,198.5L85.6,196.1L86.1,193.7L86.6,191.3L87.1,188.9L87.6,186.5L88.1,184.1L88.6,181.7L89.1,179.3L89.6,176.8L90.1,174.4L90.6,172L91.1,169.5L91.6,167.1L92.1,164.6L92.6,162.1L93.1,159.6L93.6,157.2L94.1,154.7L94.6,152.2L95.1,149.7L95.6,147.2L96.1,144.7L96.6,142.1M85,215.2L85.5,212.8L86,210.5L86.5,208.2L87,205.8L87.5,203.5L88,201.1L88.5,198.7L89,196.3L89.5,194L90,191.6L90.5,189.2L91,186.8L91.5,184.4L92,182L92.5,179.5L93,177.1L93.5,174.7L94,172.2L94.5,169.8L95,167.3L95.5,164.9L96,162.4L96.5,159.9L97,157.5L97.5,155L98,152.5L98.5,150L99,147.5L99.5,145L100,142.4M88.3,215.4L88.8,213.1L89.3,210.7L89.8,208.4L90.3,206L90.8,203.7L91.3,201.3L91.8,199L92.3,196.6L92.8,194.2L93.3,191.8L93.8,189.4L94.3,187L94.8,184.6L95.3,182.2L95.8,179.8L96.3,177.4L96.8,174.9L97.3,172.5L97.8,170.1L98.3,167.6L98.8,165.2L99.3,162.7L99.8,160.2L100.3,157.7L100.8,155.3L101.3,152.8L101.8,150.3L102.3,147.8L102.8,145.3L103.3,142.7M91.6,215.6L92.1,213.3L92.6,211L93.1,208.6L93.6,206.3L94.1,203.9L94.6,201.6L95.1,199.2L95.6,196.8L96.1,194.5L96.6,192.1L97.1,189.7L97.6,187.3L98.1,184.9L98.6,182.5L99.1,180.1L99.6,177.6L100.1,175.2L100.6,172.8L101.1,170.3L101.6,167.9L102.1,165.4L102.6,163L103.1,160.5L103.6,158L104.1,155.5L104.6,153.1L105.1,150.6L105.6,148.1L106.1,145.6L106.6,143M94.9,215.9L95.4,213.5L95.9,211.2L96.4,208.9L96.9,206.5L97.4,204.2L97.9,201.8L98.4,199.5L98.9,197.1L99.4,194.7L99.9,192.3L100.4,189.9L100.9,187.6L101.4,185.2L101.9,182.7L102.4,180.3L102.9,177.9L103.4,175.5L103.9,173.1L104.4,170.6L104.9,168.2L105.4,165.7L105.9,163.3L106.4,160.8L106.9,158.3L107.4,155.8L107.9,153.4L108.4,150.9L108.9,148.4L109.4,145.9L109.9,143.3M98.2,216.1L98.7,213.8L99.2,211.4L99.7,209.1L100.2,206.8L100.7,204.4L101.2,202.1L101.7,199.7L102.2,197.3L102.7,195L103.2,192.6L103.7,190.2L104.2,187.8L104.7,185.4L105.2,183L105.7,180.6L106.2,178.2L106.7,175.8L107.2,173.3L107.7,170.9L108.2,168.4L108.7,166L109.2,163.5L109.7,161.1L110.2,158.6L110.7,156.1L111.2,153.6L111.7,151.2L112.2,148.7L112.7,146.2L113.2,143.6M101.5,216.3L102,214L102.5,211.7L103,209.3L103.5,207L104,204.7L104.5,202.3L105,199.9L105.5,197.6L106,195.2L106.5,192.8L107,190.5L107.5,188.1L108,185.7L108.5,183.3L109,180.9L109.5,178.4L110,176L110.5,173.6L111,171.2L111.5,168.7L112,166.3L112.5,163.8L113,161.4L113.5,158.9L114,156.4L114.5,153.9L115,151.4L115.5,149L116,146.5L116.5,143.9M104.8,216.5L105.3,214.2L105.8,211.9L106.3,209.6L106.8,207.2L107.3,204.9L107.8,202.5L108.3,200.2L108.8,197.8L109.3,195.5L109.8,193.1L110.3,190.7L110.8,188.3L111.3,185.9L111.8,183.5L112.3,181.1L112.8,178.7L113.3,176.3L113.8,173.9L114.3,171.4L114.8,169L115.3,166.6L115.8,164.1L116.3,161.6L116.8,159.2L117.3,156.7L117.8,154.2L118.3,151.7L118.8,149.3L119.3,146.8L119.8,144.2M108.2,216.8L108.7,214.5L109.2,212.1L109.7,209.8L110.2,207.5L110.7,205.1L111.2,202.8L111.7,200.4L112.2,198.1L112.7,195.7L113.2,193.3L113.7,191L114.2,188.6L114.7,186.2L115.2,183.8L115.7,181.4L116.2,179L116.7,176.6L117.2,174.1L117.7,171.7L118.2,169.3L118.7,166.8L119.2,164.4L119.7,161.9L120.2,159.5L120.7,157L121.2,154.5L121.7,152L122.2,149.5L122.7,147.1L123.2,144.6M111.5,217L112,214.7L112.5,212.4L113,210L113.5,207.7L114,205.4L114.5,203L115,200.7L115.5,198.3L116,196L116.5,193.6L117,191.2L117.5,188.8L118,186.4L118.5,184.1L119,181.7L119.5,179.2L120,176.8L120.5,174.4L121,172L121.5,169.6L122,167.1L122.5,164.7L123,162.2L123.5,159.8L124,157.3L124.5,154.8L125,152.3L125.5,149.8L126,147.4L126.5,144.9M114.8,217.2L115.3,214.9L115.8,212.6L116.3,210.3L116.8,208L117.3,205.6L117.8,203.3L118.3,200.9L118.8,198.6L119.3,196.2L119.8,193.8L120.3,191.5L120.8,189.1L121.3,186.7L121.8,184.3L122.3,181.9L122.8,179.5L123.3,177.1L123.8,174.7L124.3,172.3L124.8,169.8L125.3,167.4L125.8,164.9L126.3,162.5L126.8,160L127.3,157.6L127.8,155.1L128.3,152.6L128.8,150.1L129.3,147.7L129.8,145.2M118.1,217.5L118.6,215.2L119.1,212.8L119.6,210.5L120.1,208.2L120.6,205.9L121.1,203.5L121.6,201.2L122.1,198.8L122.6,196.5L123.1,194.1L123.6,191.7L124.1,189.4L124.6,187L125.1,184.6L125.6,182.2L126.1,179.8L126.6,177.4L127.1,175L127.6,172.5L128.1,170.1L128.6,167.7L129.1,165.2L129.6,162.8L130.1,160.3L130.6,157.9L131.1,155.4L131.6,152.9L132.1,150.4L132.6,148L133.1,145.5M121.4,217.7L121.9,215.4L122.4,213.1L122.9,210.8L123.4,208.4L123.9,206.1L124.4,203.8L124.9,201.4L125.4,199.1L125.9,196.7L126.4,194.4L126.9,192L127.4,189.6L127.9,187.2L128.4,184.8L128.9,182.4L129.4,180L129.9,177.6L130.4,175.2L130.9,172.8L131.4,170.4L131.9,167.9L132.4,165.5L132.9,163.1L133.4,160.6L133.9,158.2L134.4,155.7L134.9,153.2L135.4,150.7L135.9,148.3L136.4,145.8M124.7,217.9L125.2,215.6L125.7,213.3L126.2,211L126.7,208.7L127.2,206.3L127.7,204L128.2,201.7L128.7,199.3L129.2,197L129.7,194.6L130.2,192.2L130.7,189.9L131.2,187.5L131.7,185.1L132.2,182.7L132.7,180.3L133.2,177.9L133.7,175.5L134.2,173.1L134.7,170.7L135.2,168.2L135.7,165.8L136.2,163.3L136.7,160.9L137.2,158.4L137.7,156L138.2,153.5L138.7,151L139.2,148.6L139.7,146.1M128,218.2L128.5,215.9L129,213.5L129.5,211.2L130,208.9L130.5,206.6L131,204.2L131.5,201.9L132,199.6L132.5,197.2L133,194.9L133.5,192.5L134,190.1L134.5,187.7L135,185.4L135.5,183L136,180.6L136.5,178.2L137,175.8L137.5,173.4L138,170.9L138.5,168.5L139,166.1L139.5,163.6L140,161.2L140.5,158.7L141,156.3L141.5,153.8L142,151.3L142.5,148.9L143,146.4M131.4,218.4L131.9,216.1L132.4,213.8L132.9,211.5L133.4,209.1L133.9,206.8L134.4,204.5L134.9,202.2L135.4,199.8L135.9,197.5L136.4,195.1L136.9,192.7L137.4,190.4L137.9,188L138.4,185.6L138.9,183.2L139.4,180.8L139.9,178.4L140.4,176L140.9,173.6L141.4,171.2L141.9,168.8L142.4,166.4L142.9,163.9L143.4,161.5L143.9,159L144.4,156.6L144.9,154.1L145.4,151.6L145.9,149.2L146.4,146.7M134.7,218.6L135.2,216.3L135.7,214L136.2,211.7L136.7,209.4L137.2,207.1L137.7,204.7L138.2,202.4L138.7,200.1L139.2,197.7L139.7,195.4L140.2,193L140.7,190.6L141.2,188.3L141.7,185.9L142.2,183.5L142.7,181.1L143.2,178.7L143.7,176.3L144.2,173.9L144.7,171.5L145.2,169.1L145.7,166.6L146.2,164.2L146.7,161.8L147.2,159.3L147.7,156.9L148.2,154.4L148.7,151.9L149.2,149.5L149.7,147M138,218.8L138.5,216.5L139,214.2L139.5,211.9L140,209.6L140.5,207.3L141,205L141.5,202.6L142,200.3L142.5,198L143,195.6L143.5,193.3L144,190.9L144.5,188.5L145,186.1L145.5,183.8L146,181.4L146.5,179L147,176.6L147.5,174.2L148,171.8L148.5,169.3L149,166.9L149.5,164.5L150,162L150.5,159.6L151,157.1L151.5,154.7L152,152.2L152.5,149.8L153,147.3M141.3,219.1L141.8,216.8L142.3,214.5L142.8,212.2L143.3,209.9L143.8,207.5L144.3,205.2L144.8,202.9L145.3,200.6L145.8,198.2L146.3,195.9L146.8,193.5L147.3,191.1L147.8,188.8L148.3,186.4L148.8,184L149.3,181.6L149.8,179.3L150.3,176.9L150.8,174.4L151.3,172L151.8,169.6L152.3,167.2L152.8,164.8L153.3,162.3L153.8,159.9L154.3,157.4L154.8,155L155.3,152.5L155.8,150L156.3,147.6M144.6,219.3L145.1,217L145.6,214.7L146.1,212.4L146.6,210.1L147.1,207.8L147.6,205.5L148.1,203.1L148.6,200.8L149.1,198.5L149.6,196.1L150.1,193.8L150.6,191.4L151.1,189L151.6,186.7L152.1,184.3L152.6,181.9L153.1,179.5L153.6,177.1L154.1,174.7L154.6,172.3L155.1,169.9L155.6,167.5L156.1,165.1L156.6,162.6L157.1,160.2L157.6,157.7L158.1,155.3L158.6,152.8L159.1,150.3L159.6,147.9M147.9,219.5L148.4,217.2L148.9,214.9L149.4,212.6L149.9,210.3L150.4,208L150.9,205.7L151.4,203.4L151.9,201L152.4,198.7L152.9,196.4L153.4,194L153.9,191.7L154.4,189.3L154.9,186.9L155.4,184.6L155.9,182.2L156.4,179.8L156.9,177.4L157.4,175L157.9,172.6L158.4,170.2L158.9,167.8L159.4,165.3L159.9,162.9L160.4,160.5L160.9,158L161.4,155.6L161.9,153.1L162.4,150.6L162.9,148.2M151.2,219.8L151.7,217.5L152.2,215.2L152.7,212.9L153.2,210.6L153.7,208.3L154.2,205.9L154.7,203.6L155.2,201.3L155.7,199L156.2,196.6L156.7,194.3L157.2,191.9L157.7,189.6L158.2,187.2L158.7,184.8L159.2,182.4L159.7,180.1L160.2,177.7L160.7,175.3L161.2,172.9L161.7,170.5L162.2,168L162.7,165.6L163.2,163.2L163.7,160.8L164.2,158.3L164.7,155.9L165.2,153.4L165.7,150.9L166.2,148.5M154.5,220L155,217.7L155.5,215.4L156,213.1L156.5,210.8L157,208.5L157.5,206.2L158,203.9L158.5,201.5L159,199.2L159.5,196.9L160,194.5L160.5,192.2L161,189.8L161.5,187.5L162,185.1L162.5,182.7L163,180.3L163.5,177.9L164,175.5L164.5,173.1L165,170.7L165.5,168.3L166,165.9L166.5,163.5L167,161L167.5,158.6L168,156.2L168.5,153.7L169,151.2L169.5,148.8M157.9,220.2L158.4,217.9L158.9,215.6L159.4,213.3L159.9,211L160.4,208.7L160.9,206.4L161.4,204.1L161.9,201.8L162.4,199.5L162.9,197.1L163.4,194.8L163.9,192.4L164.4,190.1L164.9,187.7L165.4,185.3L165.9,183L166.4,180.6L166.9,178.2L167.4,175.8L167.9,173.4L168.4,171L168.9,168.6L169.4,166.2L169.9,163.8L170.4,161.3L170.9,158.9L171.4,156.5L171.9,154L172.4,151.5L172.9,149.1M161.2,220.4L161.7,218.2L162.2,215.9L162.7,213.6L163.2,211.3L163.7,209L164.2,206.7L164.7,204.4L165.2,202L165.7,199.7L166.2,197.4L166.7,195L167.2,192.7L167.7,190.3L168.2,188L168.7,185.6L169.2,183.2L169.7,180.9L170.2,178.5L170.7,176.1L171.2,173.7L171.7,171.3L172.2,168.9L172.7,166.5L173.2,164L173.7,161.6L174.2,159.2L174.7,156.7L175.2,154.3L175.7,151.8L176.2,149.4M164.5,220.7L165,218.4L165.5,216.1L166,213.8L166.5,211.5L167,209.2L167.5,206.9L168,204.6L168.5,202.3L169,200L169.5,197.6L170,195.3L170.5,192.9L171,190.6L171.5,188.2L172,185.9L172.5,183.5L173,181.1L173.5,178.8L174,176.4L174.5,174L175,171.6L175.5,169.2L176,166.8L176.5,164.3L177,161.9L177.5,159.5L178,157L178.5,154.6L179,152.1L179.5,149.7M167.8,220.9L168.3,218.6L168.8,216.3L169.3,214.1L169.8,211.8L170.3,209.5L170.8,207.2L171.3,204.8L171.8,202.5L172.3,200.2L172.8,197.9L173.3,195.5L173.8,193.2L174.3,190.9L174.8,188.5L175.3,186.1L175.8,183.8L176.3,181.4L176.8,179L177.3,176.6L177.8,174.2L178.3,171.8L178.8,169.4L179.3,167L179.8,164.6L180.3,162.2L180.8,159.8L181.3,157.3L181.8,154.9L182.3,152.4L182.8,150M171.1,221.1L171.6,218.8L172.1,216.6L172.6,214.3L173.1,212L173.6,209.7L174.1,207.4L174.6,205.1L175.1,202.8L175.6,200.5L176.1,198.1L176.6,195.8L177.1,193.5L177.6,191.1L178.1,188.8L178.6,186.4L179.1,184L179.6,181.7L180.1,179.3L180.6,176.9L181.1,174.5L181.6,172.1L182.1,169.7L182.6,167.3L183.1,164.9L183.6,162.5L184.1,160.1L184.6,157.6L185.1,155.2L185.6,152.7L186.1,150.3M174.4,221.4L174.9,219.1L175.4,216.8L175.9,214.5L176.4,212.2L176.9,209.9L177.4,207.6L177.9,205.3L178.4,203L178.9,200.7L179.4,198.4L179.9,196L180.4,193.7L180.9,191.4L181.4,189L181.9,186.7L182.4,184.3L182.9,181.9L183.4,179.6L183.9,177.2L184.4,174.8L184.9,172.4L185.4,170L185.9,167.6L186.4,165.2L186.9,162.8L187.4,160.3L187.9,157.9L188.4,155.5L188.9,153L189.4,150.6M177.7,221.6L178.2,219.3L178.7,217L179.2,214.8L179.7,212.5L180.2,210.2L180.7,207.9L181.2,205.6L181.7,203.3L182.2,200.9L182.7,198.6L183.2,196.3L183.7,194L184.2,191.6L184.7,189.3L185.2,186.9L185.7,184.6L186.2,182.2L186.7,179.8L187.2,177.5L187.7,175.1L188.2,172.7L188.7,170.3L189.2,167.9L189.7,165.5L190.2,163.1L190.7,160.6L191.2,158.2L191.7,155.8L192.2,153.3L192.7,150.9M181.1,221.8L181.6,219.5L182.1,217.3L182.6,215L183.1,212.7L183.6,210.4L184.1,208.1L184.6,205.8L185.1,203.5L185.6,201.2L186.1,198.9L186.6,196.6L187.1,194.2L187.6,191.9L188.1,189.5L188.6,187.2L189.1,184.8L189.6,182.5L190.1,180.1L190.6,177.7L191.1,175.3L191.6,173L192.1,170.6L192.6,168.2L193.1,165.8L193.6,163.4L194.1,160.9L194.6,158.5L195.1,156.1L195.6,153.6L196.1,151.2M184.4,222L184.9,219.8L185.4,217.5L185.9,215.2L186.4,212.9L186.9,210.7L187.4,208.4L187.9,206.1L188.4,203.8L188.9,201.4L189.4,199.1L189.9,196.8L190.4,194.5L190.9,192.1L191.4,189.8L191.9,187.5L192.4,185.1L192.9,182.7L193.4,180.4L193.9,178L194.4,175.6L194.9,173.2L195.4,170.8L195.9,168.5L196.4,166L196.9,163.6L197.4,161.2L197.9,158.8L198.4,156.4L198.9,153.9L199.4,151.5M187.7,222.3L188.2,220L188.7,217.7L189.2,215.5L189.7,213.2L190.2,210.9L190.7,208.6L191.2,206.3L191.7,204L192.2,201.7L192.7,199.4L193.2,197.1L193.7,194.7L194.2,192.4L194.7,190.1L195.2,187.7L195.7,185.4L196.2,183L196.7,180.6L197.2,178.3L197.7,175.9L198.2,173.5L198.7,171.1L199.2,168.7L199.7,166.3L200.2,163.9L200.7,161.5L201.2,159.1L201.7,156.7L202.2,154.2L202.7,151.8M191,222.5L191.5,220.2L192,218L192.5,215.7L193,213.4L193.5,211.1L194,208.8L194.5,206.5L195,204.2L195.5,201.9L196,199.6L196.5,197.3L197,195L197.5,192.7L198,190.3L198.5,188L199,185.6L199.5,183.3L200,180.9L200.5,178.5L201,176.2L201.5,173.8L202,171.4L202.5,169L203,166.6L203.5,164.2L204,161.8L204.5,159.4L205,157L205.5,154.5L206,152.1M194.3,222.7L194.8,220.5L195.3,218.2L195.8,215.9L196.3,213.7L196.8,211.4L197.3,209.1L197.8,206.8L198.3,204.5L198.8,202.2L199.3,199.9L199.8,197.6L200.3,195.2L200.8,192.9L201.3,190.6L201.8,188.2L202.3,185.9L202.8,183.5L203.3,181.2L203.8,178.8L204.3,176.4L204.8,174.1L205.3,171.7L205.8,169.3L206.3,166.9L206.8,164.5L207.3,162.1L207.8,159.7L208.3,157.3L208.8,154.8L209.3,152.4M197.6,222.9L198.1,220.7L198.6,218.4L199.1,216.2L199.6,213.9L200.1,211.6L200.6,209.3L201.1,207L201.6,204.7L202.1,202.4L202.6,200.1L203.1,197.8L203.6,195.5L204.1,193.2L204.6,190.8L205.1,188.5L205.6,186.2L206.1,183.8L206.6,181.5L207.1,179.1L207.6,176.7L208.1,174.3L208.6,172L209.1,169.6L209.6,167.2L210.1,164.8L210.6,162.4L211.1,160L211.6,157.6L212.1,155.1L212.6,152.7M200.9,223.2L201.4,220.9L201.9,218.7L202.4,216.4L202.9,214.1L203.4,211.8L203.9,209.6L204.4,207.3L204.9,205L205.4,202.7L205.9,200.4L206.4,198.1L206.9,195.8L207.4,193.4L207.9,191.1L208.4,188.8L208.9,186.4L209.4,184.1L209.9,181.7L210.4,179.4L210.9,177L211.4,174.6L211.9,172.2L212.4,169.9L212.9,167.5L213.4,165.1L213.9,162.7L214.4,160.3L214.9,157.9L215.4,155.4L215.9,153M204.2,223.4L204.7,221.1L205.2,218.9L205.7,216.6L206.2,214.4L206.7,212.1L207.2,209.8L207.7,207.5L208.2,205.2L208.7,202.9L209.2,200.6L209.7,198.3L210.2,196L210.7,193.7L211.2,191.4L211.7,189L212.2,186.7L212.7,184.3L213.2,182L213.7,179.6L214.2,177.3L214.7,174.9L215.2,172.5L215.7,170.1L216.2,167.8L216.7,165.4L217.2,163L217.7,160.6L218.2,158.1L218.7,155.7L219.2,153.3M207.6,223.6L208.1,221.4L208.6,219.1L209.1,216.9L209.6,214.6L210.1,212.3L210.6,210L211.1,207.8L211.6,205.5L212.1,203.2L212.6,200.9L213.1,198.6L213.6,196.3L214.1,193.9L214.6,191.6L215.1,189.3L215.6,187L216.1,184.6L216.6,182.3L217.1,179.9L217.6,177.5L218.1,175.2L218.6,172.8L219.1,170.4L219.6,168L220.1,165.7L220.6,163.3L221.1,160.9L221.6,158.4L222.1,156L222.6,153.6M210.9,223.9L211.4,221.6L211.9,219.4L212.4,217.1L212.9,214.8L213.4,212.6L213.9,210.3L214.4,208L214.9,205.7L215.4,203.4L215.9,201.1L216.4,198.8L216.9,196.5L217.4,194.2L217.9,191.9L218.4,189.6L218.9,187.2L219.4,184.9L219.9,182.5L220.4,180.2L220.9,177.8L221.4,175.5L221.9,173.1L222.4,170.7L222.9,168.3L223.4,165.9L223.9,163.5L224.4,161.1L224.9,158.7L225.4,156.3L225.9,153.9M214.2,224.1L214.7,221.8L215.2,219.6L215.7,217.3L216.2,215.1L216.7,212.8L217.2,210.5L217.7,208.3L218.2,206L218.7,203.7L219.2,201.4L219.7,199.1L220.2,196.8L220.7,194.5L221.2,192.1L221.7,189.8L222.2,187.5L222.7,185.1L223.2,182.8L223.7,180.5L224.2,178.1L224.7,175.7L225.2,173.4L225.7,171L226.2,168.6L226.7,166.2L227.2,163.8L227.7,161.4L228.2,159L228.7,156.6L229.2,154.2M217.5,224.3L218,222.1L218.5,219.8L219,217.6L219.5,215.3L220,213L220.5,210.8L221,208.5L221.5,206.2L222,203.9L222.5,201.6L223,199.3L223.5,197L224,194.7L224.5,192.4L225,190.1L225.5,187.7L226,185.4L226.5,183.1L227,180.7L227.5,178.4L228,176L228.5,173.6L229,171.3L229.5,168.9L230,166.5L230.5,164.1L231,161.7L231.5,159.3L232,156.9L232.5,154.5"/>
<path fill="none" stroke="#000" stroke-width="0.5" stroke-opacity="0.35" d="M45.2,212.4L48.5,212.6L51.8,212.9L55.1,213.1L58.5,213.3L61.8,213.6L65.1,213.8L68.4,214L71.7,214.2L75,214.5L78.3,214.7L81.6,214.9L85,215.2L88.3,215.4L91.6,215.6L94.9,215.9L98.2,216.1L101.5,216.3L104.8,216.5L108.2,216.8L111.5,217L114.8,217.2L118.1,217.5L121.4,217.7L124.7,217.9L128,218.2L131.4,218.4L134.7,218.6L138,218.8L141.3,219.1L144.6,219.3L147.9,219.5L151.2,219.8L154.5,220L157.9,220.2L161.2,220.4L164.5,220.7L167.8,220.9L171.1,221.1L174.4,221.4L177.7,221.6L181.1,221.8L184.4,222L187.7,222.3L191,222.5L194.3,222.7L197.6,222.9L200.9,223.2L204.2,223.4L207.6,223.6L210.9,223.9L214.2,224.1L217.5,224.3M45.7,210L49,210.3L52.3,210.5L55.6,210.7L59,211L62.3,211.2L65.6,211.4L68.9,211.7L72.2,211.9L75.5,212.1L78.8,212.4L82.1,212.6L85.5,212.8L88.8,213.1L92.1,213.3L95.4,213.5L98.7,213.8L102,214L105.3,214.2L108.7,214.5L112,214.7L115.3,214.9L118.6,215.2L121.9,215.4L125.2,215.6L128.5,215.9L131.9,216.1L135.2,216.3L138.5,216.5L141.8,216.8L145.1,217L148.4,217.2L151.7,217.5L155,217.7L158.4,217.9L161.7,218.2L165,218.4L168.3,218.6L171.6,218.8L174.9,219.1L178.2,219.3L181.6,219.5L184.9,219.8L188.2,220L191.5,220.2L194.8,220.5L198.1,220.7L201.4,220.9L204.7,221.1L208.1,221.4L211.4,221.6L214.7,221.8L218,222.1M46.2,207.7L49.5,207.9L52.8,208.1L56.1,208.4L59.5,208.6L62.8,208.9L66.1,209.1L69.4,209.3L72.7,209.6L76,209.8L79.3,210L82.6,210.3L86,210.5L89.3,210.7L92.6,211L95.9,211.2L99.2,211.4L102.5,211.7L105.8,211.9L109.2,212.1L112.5,212.4L115.8,212.6L119.1,212.8L122.4,213.1L125.7,213.3L129,213.5L132.4,213.8L135.7,214L139,214.2L142.3,214.5L145.6,214.7L148.9,214.9L152.2,215.2L155.5,215.4L158.9,215.6L162.2,215.9L165.5,216.1L168.8,216.3L172.1,216.6L175.4,216.8L178.7,217L182.1,217.3L185.4,217.5L188.7,217.7L192,218L195.3,218.2L198.6,218.4L201.9,218.7L205.2,218.9L208.6,219.1L211.9,219.4L215.2,219.6L218.5,219.8M46.7,205.3L50,205.5L53.3,205.8L56.6,206L60,206.3L63.3,206.5L66.6,206.7L69.9,207L73.2,207.2L76.5,207.4L79.8,207.7L83.1,207.9L86.5,208.2L89.8,208.4L93.1,208.6L96.4,208.9L99.7,209.1L103,209.3L106.3,209.6L109.7,209.8L113,210L116.3,210.3L119.6,210.5L122.9,210.8L126.2,211L129.5,211.2L132.9,211.5L136.2,211.7L139.5,211.9L142.8,212.2L146.1,212.4L149.4,212.6L152.7,212.9L156,213.1L159.4,213.3L162.7,213.6L166,213.8L169.3,214.1L172.6,214.3L175.9,214.5L179.2,214.8L182.6,215L185.9,215.2L189.2,215.5L192.5,215.7L195.8,215.9L199.1,216.2L202.4,216.4L205.7,216.6L209.1,216.9L212.4,217.1L215.7,217.3L219,217.6M47.2,202.9L50.5,203.2L53.8,203.4L57.1,203.7L60.5,203.9L63.8,204.1L67.1,204.4L70.4,204.6L73.7,204.8L77,205.1L80.3,205.3L83.6,205.6L87,205.8L90.3,206L93.6,206.3L96.9,206.5L100.2,206.8L103.5,207L106.8,207.2L110.2,207.5L113.5,207.7L116.8,208L120.1,208.2L123.4,208.4L126.7,208.7L130,208.9L133.4,209.1L136.7,209.4L140,209.6L143.3,209.9L146.6,210.1L149.9,210.3L153.2,210.6L156.5,210.8L159.9,211L163.2,211.3L166.5,211.5L169.8,211.8L173.1,212L176.4,212.2L179.7,212.5L183.1,212.7L186.4,212.9L189.7,213.2L193,213.4L196.3,213.7L199.6,213.9L202.9,214.1L206.2,214.4L209.6,214.6L212.9,214.8L216.2,215.1L219.5,215.3M47.7,200.5L51,200.8L54.3,201L57.6,201.3L61,201.5L64.3,201.8L67.6,202L70.9,202.2L74.2,202.5L77.5,202.7L80.8,203L84.1,203.2L87.5,203.5L90.8,203.7L94.1,203.9L97.4,204.2L100.7,204.4L104,204.7L107.3,204.9L110.7,205.1L114,205.4L117.3,205.6L120.6,205.9L123.9,206.1L127.2,206.3L130.5,206.6L133.9,206.8L137.2,207.1L140.5,207.3L143.8,207.5L147.1,207.8L150.4,208L153.7,208.3L157,208.5L160.4,208.7L163.7,209L167,209.2L170.3,209.5L173.6,209.7L176.9,209.9L180.2,210.2L183.6,210.4L186.9,210.7L190.2,210.9L193.5,211.1L196.8,211.4L200.1,211.6L203.4,211.8L206.7,212.1L210.1,212.3L213.4,212.6L216.7,212.8L220,213M48.2,198.2L51.5,198.4L54.8,198.6L58.1,198.9L61.5,199.1L64.8,199.4L68.1,199.6L71.4,199.9L74.7,200.1L78,200.4L81.3,200.6L84.6,200.8L88,201.1L91.3,201.3L94.6,201.6L97.9,201.8L101.2,202.1L104.5,202.3L107.8,202.5L111.2,202.8L114.5,203L117.8,203.3L121.1,203.5L124.4,203.8L127.7,204L131,204.2L134.4,204.5L137.7,204.7L141,205L144.3,205.2L147.6,205.5L150.9,205.7L154.2,205.9L157.5,206.2L160.9,206.4L164.2,206.7L167.5,206.9L170.8,207.2L174.1,207.4L177.4,207.6L180.7,207.9L184.1,208.1L187.4,208.4L190.7,208.6L194,208.8L197.3,209.1L200.6,209.3L203.9,209.6L207.2,209.8L210.6,210L213.9,210.3L217.2,210.5L220.5,210.8M48.7,195.8L52,196L55.3,196.3L58.6,196.5L62,196.7L65.3,197L68.6,197.2L71.9,197.5L75.2,197.7L78.5,198L81.8,198.2L85.1,198.5L88.5,198.7L91.8,199L95.1,199.2L98.4,199.5L101.7,199.7L105,199.9L108.3,200.2L111.7,200.4L115,200.7L118.3,200.9L121.6,201.2L124.9,201.4L128.2,201.7L131.5,201.9L134.9,202.2L138.2,202.4L141.5,202.6L144.8,202.9L148.1,203.1L151.4,203.4L154.7,203.6L158,203.9L161.4,204.1L164.7,204.4L168,204.6L171.3,204.8L174.6,205.1L177.9,205.3L181.2,205.6L184.6,205.8L187.9,206.1L191.2,206.3L194.5,206.5L197.8,206.8L201.1,207L204.4,207.3L207.7,207.5L211.1,207.8L214.4,208L217.7,208.3L221,208.5M49.2,193.4L52.5,193.6L55.8,193.9L59.1,194.1L62.5,194.4L65.8,194.6L69.1,194.9L72.4,195.1L75.7,195.4L79,195.6L82.3,195.8L85.6,196.1L89,196.3L92.3,196.6L95.6,196.8L98.9,197.1L102.2,197.3L105.5,197.6L108.8,197.8L112.2,198.1L115.5,198.3L118.8,198.6L122.1,198.8L125.4,199.1L128.7,199.3L132,199.6L135.4,199.8L138.7,200.1L142,200.3L145.3,200.6L148.6,200.8L151.9,201L155.2,201.3L158.5,201.5L161.9,201.8L165.2,202L168.5,202.3L171.8,202.5L175.1,202.8L178.4,203L181.7,203.3L185.1,203.5L188.4,203.8L191.7,204L195,204.2L198.3,204.5L201.6,204.7L204.9,205L208.2,205.2L211.6,205.5L214.9,205.7L218.2,206L221.5,206.2M49.7,190.9L53,191.2L56.3,191.5L59.6,191.7L63,192L66.3,192.2L69.6,192.5L72.9,192.7L76.2,193L79.5,193.2L82.8,193.5L86.1,193.7L89.5,194L92.8,194.2L96.1,194.5L99.4,194.7L102.7,195L106,195.2L109.3,195.5L112.7,195.7L116,196L119.3,196.2L122.6,196.5L125.9,196.7L129.2,197L132.5,197.2L135.9,197.5L139.2,197.7L142.5,198L145.8,198.2L149.1,198.5L152.4,198.7L155.7,199L159,199.2L162.4,199.5L165.7,199.7L169,200L172.3,200.2L175.6,200.5L178.9,200.7L182.2,200.9L185.6,201.2L188.9,201.4L192.2,201.7L195.5,201.9L198.8,202.2L202.1,202.4L205.4,202.7L208.7,202.9L212.1,203.2L215.4,203.4L218.7,203.7L222,203.9M50.2,188.5L53.5,188.8L56.8,189L60.1,189.3L63.5,189.5L66.8,189.8L70.1,190.1L73.4,190.3L76.7,190.6L80,190.8L83.3,191.1L86.6,191.3L90,191.6L93.3,191.8L96.6,192.1L99.9,192.3L103.2,192.6L106.5,192.8L109.8,193.1L113.2,193.3L116.5,193.6L119.8,193.8L123.1,194.1L126.4,194.4L129.7,194.6L133,194.9L136.4,195.1L139.7,195.4L143,195.6L146.3,195.9L149.6,196.1L152.9,196.4L156.2,196.6L159.5,196.9L162.9,197.1L166.2,197.4L169.5,197.6L172.8,197.9L176.1,198.1L179.4,198.4L182.7,198.6L186.1,198.9L189.4,199.1L192.7,199.4L196,199.6L199.3,199.9L202.6,200.1L205.9,200.4L209.2,200.6L212.6,200.9L215.9,201.1L219.2,201.4L222.5,201.6M50.7,186.1L54,186.4L57.3,186.6L60.6,186.9L64,187.1L67.3,187.4L70.6,187.6L73.9,187.9L77.2,188.2L80.5,188.4L83.8,188.7L87.1,188.9L90.5,189.2L93.8,189.4L97.1,189.7L100.4,189.9L103.7,190.2L107,190.5L110.3,190.7L113.7,191L117,191.2L120.3,191.5L123.6,191.7L126.9,192L130.2,192.2L133.5,192.5L136.9,192.7L140.2,193L143.5,193.3L146.8,193.5L150.1,193.8L153.4,194L156.7,194.3L160,194.5L163.4,194.8L166.7,195L170,195.3L173.3,195.5L176.6,195.8L179.9,196L183.2,196.3L186.6,196.6L189.9,196.8L193.2,197.1L196.5,197.3L199.8,197.6L203.1,197.8L206.4,198.1L209.7,198.3L213.1,198.6L216.4,198.8L219.7,199.1L223,199.3M51.2,183.7L54.5,183.9L57.8,184.2L61.1,184.5L64.5,184.7L67.8,185L71.1,185.2L74.4,185.5L77.7,185.7L81,186L84.3,186.3L87.6,186.5L91,186.8L94.3,187L97.6,187.3L100.9,187.6L104.2,187.8L107.5,188.1L110.8,188.3L114.2,188.6L117.5,188.8L120.8,189.1L124.1,189.4L127.4,189.6L130.7,189.9L134,190.1L137.4,190.4L140.7,190.6L144,190.9L147.3,191.1L150.6,191.4L153.9,191.7L157.2,191.9L160.5,192.2L163.9,192.4L167.2,192.7L170.5,192.9L173.8,193.2L177.1,193.5L180.4,193.7L183.7,194L187.1,194.2L190.4,194.5L193.7,194.7L197,195L200.3,195.2L203.6,195.5L206.9,195.8L210.2,196L213.6,196.3L216.9,196.5L220.2,196.8L223.5,197M51.7,181.2L55,181.5L58.3,181.8L61.6,182L65,182.3L68.3,182.5L71.6,182.8L74.9,183.1L78.2,183.3L81.5,183.6L84.8,183.9L88.1,184.1L91.5,184.4L94.8,184.6L98.1,184.9L101.4,185.2L104.7,185.4L108,185.7L111.3,185.9L114.7,186.2L118,186.4L121.3,186.7L124.6,187L127.9,187.2L131.2,187.5L134.5,187.7L137.9,188L141.2,188.3L144.5,188.5L147.8,188.8L151.1,189L154.4,189.3L157.7,189.6L161,189.8L164.4,190.1L167.7,190.3L171,190.6L174.3,190.9L177.6,191.1L180.9,191.4L184.2,191.6L187.6,191.9L190.9,192.1L194.2,192.4L197.5,192.7L200.8,192.9L204.1,193.2L207.4,193.4L210.7,193.7L214.1,193.9L217.4,194.2L220.7,194.5L224,194.7M52.2,178.8L55.5,179.1L58.8,179.3L62.1,179.6L65.5,179.9L68.8,180.1L72.1,180.4L75.4,180.6L78.7,180.9L82,181.2L85.3,181.4L88.6,181.7L92,182L95.3,182.2L98.6,182.5L101.9,182.7L105.2,183L108.5,183.3L111.8,183.5L115.2,183.8L118.5,184.1L121.8,184.3L125.1,184.6L128.4,184.8L131.7,185.1L135,185.4L138.4,185.6L141.7,185.9L145,186.1L148.3,186.4L151.6,186.7L154.9,186.9L158.2,187.2L161.5,187.5L164.9,187.7L168.2,188L171.5,188.2L174.8,188.5L178.1,188.8L181.4,189L184.7,189.3L188.1,189.5L191.4,189.8L194.7,190.1L198,190.3L201.3,190.6L204.6,190.8L207.9,191.1L211.2,191.4L214.6,191.6L217.9,191.9L221.2,192.1L224.5,192.4M52.7,176.4L56,176.6L59.3,176.9L62.6,177.1L66,177.4L69.3,177.7L72.6,177.9L75.9,178.2L79.2,178.5L82.5,178.7L85.8,179L89.1,179.3L92.5,179.5L95.8,179.8L99.1,180.1L102.4,180.3L105.7,180.6L109,180.9L112.3,181.1L115.7,181.4L119,181.7L122.3,181.9L125.6,182.2L128.9,182.4L132.2,182.7L135.5,183L138.9,183.2L142.2,183.5L145.5,183.8L148.8,184L152.1,184.3L155.4,184.6L158.7,184.8L162,185.1L165.4,185.3L168.7,185.6L172,185.9L175.3,186.1L178.6,186.4L181.9,186.7L185.2,186.9L188.6,187.2L191.9,187.5L195.2,187.7L198.5,188L201.8,188.2L205.1,188.5L208.4,188.8L211.7,189L215.1,189.3L218.4,189.6L221.7,189.8L225,190.1M53.2,173.9L56.5,174.2L59.8,174.4L63.1,174.7L66.5,175L69.8,175.2L73.1,175.5L76.4,175.8L79.7,176L83,176.3L86.3,176.6L89.6,176.8L93,177.1L96.3,177.4L99.6,177.6L102.9,177.9L106.2,178.2L109.5,178.4L112.8,178.7L116.2,179L119.5,179.2L122.8,179.5L126.1,179.8L129.4,180L132.7,180.3L136,180.6L139.4,180.8L142.7,181.1L146,181.4L149.3,181.6L152.6,181.9L155.9,182.2L159.2,182.4L162.5,182.7L165.9,183L169.2,183.2L172.5,183.5L175.8,183.8L179.1,184L182.4,184.3L185.7,184.6L189.1,184.8L192.4,185.1L195.7,185.4L199,185.6L202.3,185.9L205.6,186.2L208.9,186.4L212.2,186.7L215.6,187L218.9,187.2L222.2,187.5L225.5,187.7M53.7,171.4L57,171.7L60.3,172L63.6,172.2L67,172.5L70.3,172.8L73.6,173.1L76.9,173.3L80.2,173.6L83.5,173.9L86.8,174.1L90.1,174.4L93.5,174.7L96.8,174.9L100.1,175.2L103.4,175.5L106.7,175.8L110,176L113.3,176.3L116.7,176.6L120,176.8L123.3,177.1L126.6,177.4L129.9,177.6L133.2,177.9L136.5,178.2L139.9,178.4L143.2,178.7L146.5,179L149.8,179.3L153.1,179.5L156.4,179.8L159.7,180.1L163,180.3L166.4,180.6L169.7,180.9L173,181.1L176.3,181.4L179.6,181.7L182.9,181.9L186.2,182.2L189.6,182.5L192.9,182.7L196.2,183L199.5,183.3L202.8,183.5L206.1,183.8L209.4,184.1L212.7,184.3L216.1,184.6L219.4,184.9L222.7,185.1L226,185.4M54.2,169L57.5,169.2L60.8,169.5L64.1,169.8L67.5,170.1L70.8,170.3L74.1,170.6L77.4,170.9L80.7,171.1L84,171.4L87.3,171.7L90.6,172L94,172.2L97.3,172.5L100.6,172.8L103.9,173.1L107.2,173.3L110.5,173.6L113.8,173.9L117.2,174.1L120.5,174.4L123.8,174.7L127.1,175L130.4,175.2L133.7,175.5L137,175.8L140.4,176L143.7,176.3L147,176.6L150.3,176.9L153.6,177.1L156.9,177.4L160.2,177.7L163.5,177.9L166.9,178.2L170.2,178.5L173.5,178.8L176.8,179L180.1,179.3L183.4,179.6L186.7,179.8L190.1,180.1L193.4,180.4L196.7,180.6L200,180.9L203.3,181.2L206.6,181.5L209.9,181.7L213.2,182L216.6,182.3L219.9,182.5L223.2,182.8L226.5,183.1M54.7,166.5L58,166.8L61.3,167L64.6,167.3L68,167.6L71.3,167.9L74.6,168.1L77.9,168.4L81.2,168.7L84.5,169L87.8,169.2L91.1,169.5L94.5,169.8L97.8,170.1L101.1,170.3L104.4,170.6L107.7,170.9L111,171.2L114.3,171.4L117.7,171.7L121,172L124.3,172.3L127.6,172.5L130.9,172.8L134.2,173.1L137.5,173.4L140.9,173.6L144.2,173.9L147.5,174.2L150.8,174.4L154.1,174.7L157.4,175L160.7,175.3L164,175.5L167.4,175.8L170.7,176.1L174,176.4L177.3,176.6L180.6,176.9L183.9,177.2L187.2,177.5L190.6,177.7L193.9,178L197.2,178.3L200.5,178.5L203.8,178.8L207.1,179.1L210.4,179.4L213.7,179.6L217.1,179.9L220.4,180.2L223.7,180.5L227,180.7M55.2,164L58.5,164.3L61.8,164.6L65.1,164.8L68.5,165.1L71.8,165.4L75.1,165.7L78.4,165.9L81.7,166.2L85,166.5L88.3,166.8L91.6,167.1L95,167.3L98.3,167.6L101.6,167.9L104.9,168.2L108.2,168.4L111.5,168.7L114.8,169L118.2,169.3L121.5,169.6L124.8,169.8L128.1,170.1L131.4,170.4L134.7,170.7L138,170.9L141.4,171.2L144.7,171.5L148,171.8L151.3,172L154.6,172.3L157.9,172.6L161.2,172.9L164.5,173.1L167.9,173.4L171.2,173.7L174.5,174L177.8,174.2L181.1,174.5L184.4,174.8L187.7,175.1L191.1,175.3L194.4,175.6L197.7,175.9L201,176.2L204.3,176.4L207.6,176.7L210.9,177L214.2,177.3L217.6,177.5L220.9,177.8L224.2,178.1L227.5,178.4M55.7,161.5L59,161.8L62.3,162.1L65.6,162.4L69,162.6L72.3,162.9L75.6,163.2L78.9,163.5L82.2,163.8L85.5,164L88.8,164.3L92.1,164.6L95.5,164.9L98.8,165.2L102.1,165.4L105.4,165.7L108.7,166L112,166.3L115.3,166.6L118.7,166.8L122,167.1L125.3,167.4L128.6,167.7L131.9,167.9L135.2,168.2L138.5,168.5L141.9,168.8L145.2,169.1L148.5,169.3L151.8,169.6L155.1,169.9L158.4,170.2L161.7,170.5L165,170.7L168.4,171L171.7,171.3L175,171.6L178.3,171.8L181.6,172.1L184.9,172.4L188.2,172.7L191.6,173L194.9,173.2L198.2,173.5L201.5,173.8L204.8,174.1L208.1,174.3L211.4,174.6L214.7,174.9L218.1,175.2L221.4,175.5L224.7,175.7L228,176M56.2,159L59.5,159.3L62.8,159.6L66.1,159.9L69.5,160.1L72.8,160.4L76.1,160.7L79.4,161L82.7,161.3L86,161.6L89.3,161.8L92.6,162.1L96,162.4L99.3,162.7L102.6,163L105.9,163.3L109.2,163.5L112.5,163.8L115.8,164.1L119.2,164.4L122.5,164.7L125.8,164.9L129.1,165.2L132.4,165.5L135.7,165.8L139,166.1L142.4,166.4L145.7,166.6L149,166.9L152.3,167.2L155.6,167.5L158.9,167.8L162.2,168L165.5,168.3L168.9,168.6L172.2,168.9L175.5,169.2L178.8,169.4L182.1,169.7L185.4,170L188.7,170.3L192.1,170.6L195.4,170.8L198.7,171.1L202,171.4L205.3,171.7L208.6,172L211.9,172.2L215.2,172.5L218.6,172.8L221.9,173.1L225.2,173.4L228.5,173.6M56.7,156.5L60,156.8L63.3,157.1L66.6,157.4L70,157.7L73.3,157.9L76.6,158.2L79.9,158.5L83.2,158.8L86.5,159.1L89.8,159.4L93.1,159.6L96.5,159.9L99.8,160.2L103.1,160.5L106.4,160.8L109.7,161.1L113,161.4L116.3,161.6L119.7,161.9L123,162.2L126.3,162.5L129.6,162.8L132.9,163.1L136.2,163.3L139.5,163.6L142.9,163.9L146.2,164.2L149.5,164.5L152.8,164.8L156.1,165.1L159.4,165.3L162.7,165.6L166,165.9L169.4,166.2L172.7,166.5L176,166.8L179.3,167L182.6,167.3L185.9,167.6L189.2,167.9L192.6,168.2L195.9,168.5L199.2,168.7L202.5,169L205.8,169.3L209.1,169.6L212.4,169.9L215.7,170.1L219.1,170.4L222.4,170.7L225.7,171L229,171.3M57.2,154L60.5,154.3L63.8,154.6L67.1,154.9L70.5,155.2L73.8,155.4L77.1,155.7L80.4,156L83.7,156.3L87,156.6L90.3,156.9L93.6,157.2L97,157.5L100.3,157.7L103.6,158L106.9,158.3L110.2,158.6L113.5,158.9L116.8,159.2L120.2,159.5L123.5,159.8L126.8,160L130.1,160.3L133.4,160.6L136.7,160.9L140,161.2L143.4,161.5L146.7,161.8L150,162L153.3,162.3L156.6,162.6L159.9,162.9L163.2,163.2L166.5,163.5L169.9,163.8L173.2,164L176.5,164.3L179.8,164.6L183.1,164.9L186.4,165.2L189.7,165.5L193.1,165.8L196.4,166L199.7,166.3L203,166.6L206.3,166.9L209.6,167.2L212.9,167.5L216.2,167.8L219.6,168L222.9,168.3L226.2,168.6L229.5,168.9M57.7,151.5L61,151.8L64.3,152.1L67.6,152.4L71,152.6L74.3,152.9L77.6,153.2L80.9,153.5L84.2,153.8L87.5,154.1L90.8,154.4L94.1,154.7L97.5,155L100.8,155.3L104.1,155.5L107.4,155.8L110.7,156.1L114,156.4L117.3,156.7L120.7,157L124,157.3L127.3,157.6L130.6,157.9L133.9,158.2L137.2,158.4L140.5,158.7L143.9,159L147.2,159.3L150.5,159.6L153.8,159.9L157.1,160.2L160.4,160.5L163.7,160.8L167,161L170.4,161.3L173.7,161.6L177,161.9L180.3,162.2L183.6,162.5L186.9,162.8L190.2,163.1L193.6,163.4L196.9,163.6L200.2,163.9L203.5,164.2L206.8,164.5L210.1,164.8L213.4,165.1L216.7,165.4L220.1,165.7L223.4,165.9L226.7,166.2L230,166.5M58.2,149L61.5,149.3L64.8,149.5L68.1,149.8L71.5,150.1L74.8,150.4L78.1,150.7L81.4,151L84.7,151.3L88,151.6L91.3,151.9L94.6,152.2L98,152.5L101.3,152.8L104.6,153.1L107.9,153.4L111.2,153.6L114.5,153.9L117.8,154.2L121.2,154.5L124.5,154.8L127.8,155.1L131.1,155.4L134.4,155.7L137.7,156L141,156.3L144.4,156.6L147.7,156.9L151,157.1L154.3,157.4L157.6,157.7L160.9,158L164.2,158.3L167.5,158.6L170.9,158.9L174.2,159.2L177.5,159.5L180.8,159.8L184.1,160.1L187.4,160.3L190.7,160.6L194.1,160.9L197.4,161.2L200.7,161.5L204,161.8L207.3,162.1L210.6,162.4L213.9,162.7L217.2,163L220.6,163.3L223.9,163.5L227.2,163.8L230.5,164.1M58.7,146.4L62,146.7L65.3,147L68.6,147.3L72,147.6L75.3,147.9L78.6,148.2L81.9,148.5L85.2,148.8L88.5,149.1L91.8,149.4L95.1,149.7L98.5,150L101.8,150.3L105.1,150.6L108.4,150.9L111.7,151.2L115,151.4L118.3,151.7L121.7,152L125,152.3L128.3,152.6L131.6,152.9L134.9,153.2L138.2,153.5L141.5,153.8L144.9,154.1L148.2,154.4L151.5,154.7L154.8,155L158.1,155.3L161.4,155.6L164.7,155.9L168,156.2L171.4,156.5L174.7,156.7L178,157L181.3,157.3L184.6,157.6L187.9,157.9L191.2,158.2L194.6,158.5L197.9,158.8L201.2,159.1L204.5,159.4L207.8,159.7L211.1,160L214.4,160.3L217.7,160.6L221.1,160.9L224.4,161.1L227.7,161.4L231,161.7M59.2,143.9L62.5,144.2L65.8,144.5L69.1,144.8L72.5,145.1L75.8,145.4L79.1,145.7L82.4,146L85.7,146.3L89,146.6L92.3,146.9L95.6,147.2L99,147.5L102.3,147.8L105.6,148.1L108.9,148.4L112.2,148.7L115.5,149L118.8,149.3L122.2,149.5L125.5,149.8L128.8,150.1L132.1,150.4L135.4,150.7L138.7,151L142,151.3L145.4,151.6L148.7,151.9L152,152.2L155.3,152.5L158.6,152.8L161.9,153.1L165.2,153.4L168.5,153.7L171.9,154L175.2,154.3L178.5,154.6L181.8,154.9L185.1,155.2L188.4,155.5L191.7,155.8L195.1,156.1L198.4,156.4L201.7,156.7L205,157L208.3,157.3L211.6,157.6L214.9,157.9L218.2,158.1L221.6,158.4L224.9,158.7L228.2,159L231.5,159.3M59.7,141.3L63,141.6L66.3,141.9L69.6,142.2L73,142.5L76.3,142.8L79.6,143.1L82.9,143.4L86.2,143.8L89.5,144.1L92.8,144.4L96.1,144.7L99.5,145L102.8,145.3L106.1,145.6L109.4,145.9L112.7,146.2L116,146.5L119.3,146.8L122.7,147.1L126,147.4L129.3,147.7L132.6,148L135.9,148.3L139.2,148.6L142.5,148.9L145.9,149.2L149.2,149.5L152.5,149.8L155.8,150L159.1,150.3L162.4,150.6L165.7,150.9L169,151.2L172.4,151.5L175.7,151.8L179,152.1L182.3,152.4L185.6,152.7L188.9,153L192.2,153.3L195.6,153.6L198.9,153.9L202.2,154.2L205.5,154.5L208.8,154.8L212.1,155.1L215.4,155.4L218.7,155.7L222.1,156L225.4,156.3L228.7,156.6L232,156.9M60.2,138.8L63.5,139.1L66.8,139.4L70.1,139.7L73.5,140L76.8,140.3L80.1,140.6L83.4,140.9L86.7,141.2L90,141.5L93.3,141.8L96.6,142.1L100,142.4L103.3,142.7L106.6,143L109.9,143.3L113.2,143.6L116.5,143.9L119.8,144.2L123.2,144.6L126.5,144.9L129.8,145.2L133.1,145.5L136.4,145.8L139.7,146.1L143,146.4L146.4,146.7L149.7,147L153,147.3L156.3,147.6L159.6,147.9L162.9,148.2L166.2,148.5L169.5,148.8L172.9,149.1L176.2,149.4L179.5,149.7L182.8,150L186.1,150.3L189.4,150.6L192.7,150.9L196.1,151.2L199.4,151.5L202.7,151.8L206,152.1L209.3,152.4L212.6,152.7L215.9,153L219.2,153.3L222.6,153.6L225.9,153.9L229.2,154.2L232.5,154.5"/>
</g>
<g fill="#0000ff"><circle cx="45.2" cy="212.4" r="1.55"/><circle cx="46.7" cy="205.31" r="1.55"/><circle cx="48.2" cy="198.16" r="1.55"/><circle cx="49.7" cy="190.95" r="1.55"/><circle cx="51.2" cy="183.68" r="1.55"/><circle cx="52.7" cy="176.35" r="1.55"/><circle cx="54.2" cy="168.96" r="1.55"/><circle cx="55.7" cy="161.51" r="1.55"/><circle cx="57.2" cy="154" r="1.55"/><circle cx="58.7" cy="146.43" r="1.55"/><circle cx="60.2" cy="138.79" r="1.55"/><circle cx="88.28" cy="215.4" r="1.55"/><ellipse cx="89.78" cy="208.59" rx="1.25" ry="0.95"/><ellipse cx="91.28" cy="201.53" rx="1.25" ry="0.95"/><ellipse cx="92.78" cy="194.41" rx="1.25" ry="0.95"/><ellipse cx="94.28" cy="187.24" rx="1.25" ry="0.95"/><ellipse cx="95.78" cy="180" rx="1.25" ry="0.95"/><ellipse cx="97.28" cy="172.71" rx="1.25" ry="0.95"/><ellipse cx="98.78" cy="165.35" rx="1.25" ry="0.95"/><ellipse cx="100.28" cy="157.94" rx="1.25" ry="0.95"/><ellipse cx="101.78" cy="150.47" rx="1.25" ry="0.95"/><ellipse cx="103.28" cy="142.73" rx="1.55" ry="1.15"/><circle cx="131.35" cy="218.38" r="1.55"/><ellipse cx="132.85" cy="211.66" rx="1.25" ry="0.95"/><ellipse cx="134.35" cy="204.69" rx="1.25" ry="0.95"/><ellipse cx="135.85" cy="197.66" rx="1.25" ry="0.95"/><ellipse cx="137.35" cy="190.58" rx="1.25" ry="0.95"/><ellipse cx="138.85" cy="183.44" rx="1.25" ry="0.95"/><ellipse cx="140.35" cy="176.24" rx="1.25" ry="0.95"/><ellipse cx="141.85" cy="168.98" rx="1.25" ry="0.95"/><ellipse cx="143.35" cy="161.67" rx="1.25" ry="0.95"/><ellipse cx="144.85" cy="154.3" rx="1.25" ry="0.95"/><ellipse cx="146.35" cy="146.67" rx="1.55" ry="1.15"/><circle cx="174.43" cy="221.35" r="1.55"/><ellipse cx="175.93" cy="214.72" rx="1.25" ry="0.95"/><ellipse cx="177.43" cy="207.84" rx="1.25" ry="0.95"/><ellipse cx="178.93" cy="200.9" rx="1.25" ry="0.95"/><ellipse cx="180.43" cy="193.91" rx="1.25" ry="0.95"/><ellipse cx="181.93" cy="186.86" rx="1.25" ry="0.95"/><ellipse cx="183.43" cy="179.76" rx="1.25" ry="0.95"/><ellipse cx="184.93" cy="172.6" rx="1.25" ry="0.95"/><ellipse cx="186.43" cy="165.39" rx="1.25" ry="0.95"/><ellipse cx="187.93" cy="158.12" rx="1.25" ry="0.95"/><ellipse cx="189.43" cy="150.59" rx="1.55" ry="1.15"/><circle cx="217.5" cy="224.3" r="1.55"/><circle cx="219" cy="217.56" r="1.55"/><circle cx="220.5" cy="210.77" r="1.55"/><circle cx="222" cy="203.92" r="1.55"/><circle cx="223.5" cy="197.03" r="1.55"/><circle cx="225" cy="190.08" r="1.55"/><circle cx="226.5" cy="183.07" r="1.55"/><circle cx="228" cy="176.01" r="1.55"/><circle cx="229.5" cy="168.9" r="1.55"/><circle cx="231" cy="161.73" r="1.55"/><circle cx="232.5" cy="154.51" r="1.55"/></g>
<g font-size="6.8" fill="#333">
<text x="37.4" y="254.7" text-anchor="end">0</text>
<text x="37.4" y="237.29" text-anchor="end">100</text>
<text x="37.4" y="219.88" text-anchor="end">200</text>
<text x="37.4" y="202.47" text-anchor="end">300</text>
<text x="37.4" y="185.06" text-anchor="end">400</text>
<text x="37.4" y="167.65" text-anchor="end">500</text>
<text x="37.4" y="150.25" text-anchor="end">600</text>
<text x="37.4" y="132.84" text-anchor="end">700</text>
<text x="37.4" y="115.43" text-anchor="end">800</text>
<text x="37.4" y="98.02" text-anchor="end">900</text>
<text x="37.4" y="80.61" text-anchor="end">1000</text>
<text x="37.4" y="63.2" text-anchor="end">1100</text>
<text x="67.1" y="266.15" text-anchor="middle">5.4</text>
<text x="101.5" y="266.95" text-anchor="middle">5.2</text>
<text x="135.9" y="267.75" text-anchor="middle">5</text>
<text x="170.3" y="268.55" text-anchor="middle">4.8</text>
<text x="204.7" y="269.35" text-anchor="middle">4.6</text>
<text x="224.7" y="261.15">0.036</text>
<text x="228.7" y="249.05">0.038</text>
<text x="232.7" y="235.55">0.04</text>
<text x="235.7" y="222.55">0.042</text>
</g>
<g fill="#262626">
<text x="70.79" y="287.8" font-size="9.4" font-style="italic">q</text>
<text x="77.89" y="292" font-size="7" textLength="26.88" lengthAdjust="spacingAndGlyphs">titer,max</text>
<text x="107.73" y="287.8" font-size="9.4" textLength="6.65" lengthAdjust="spacingAndGlyphs">[1</text>
<text x="116.89" y="287.8" font-size="9.4">·</text>
<text x="122.94" y="287.8" font-size="9.4" textLength="9.71" lengthAdjust="spacingAndGlyphs">10</text>
<text x="132.69" y="283.9" font-size="6.9" textLength="10.19" lengthAdjust="spacingAndGlyphs">-10</text>
<text x="145.41" y="287.8" font-size="9.4" textLength="12.47" lengthAdjust="spacingAndGlyphs">mg</text>
<text x="160.13" y="287.8" font-size="9.4" textLength="13.26" lengthAdjust="spacingAndGlyphs">cell</text>
<text x="173.76" y="283.6" font-size="6.6" textLength="4.91" lengthAdjust="spacingAndGlyphs">-1</text>
<text x="179.05" y="287.8" font-size="9.4">h</text>
<text x="185.49" y="283.6" font-size="6.6" textLength="4.24" lengthAdjust="spacingAndGlyphs">-1</text>
<text x="191.22" y="287.8" font-size="9.4">]</text>
</g>
<g fill="#262626" transform="translate(262.2,256) rotate(-90)">
<text x="1.59" y="-0.3" font-size="9" font-style="italic">μ</text>
<text x="7.64" y="3.9" font-size="7" textLength="10.22" lengthAdjust="spacingAndGlyphs">max</text>
<text x="19.84" y="0" font-size="9.4" textLength="8.96" lengthAdjust="spacingAndGlyphs">[h</text>
<text x="28.75" y="-4.3" font-size="6.6" textLength="5.02" lengthAdjust="spacingAndGlyphs">-1</text>
<text x="35.02" y="0" font-size="9.4">]</text>
</g>
<g fill="#262626" transform="translate(15.8,222) rotate(-90)">
<text x="1.56" y="0" font-size="10" textLength="65.2" lengthAdjust="spacingAndGlyphs">Volumetric titer</text>
<text x="71.28" y="0" font-size="10">c</text>
<text x="80.29" y="3.4" font-size="7.4" textLength="12.63" lengthAdjust="spacingAndGlyphs">titer</text>
<text x="95.4" y="0" font-size="10" textLength="16.43" lengthAdjust="spacingAndGlyphs">[mg</text>
<text x="115.18" y="0" font-size="10">L</text>
<text x="121.75" y="-5.8" font-size="6.4" textLength="5.13" lengthAdjust="spacingAndGlyphs">-1</text>
<text x="128.32" y="0" font-size="10">]</text>
</g>
<path fill="none" stroke="#e6e6e6" stroke-width="0.6" d="M361.6,201.33L361.6,9.83M396,202.11L396,10.61M430.4,202.89L430.4,11.39M464.8,203.67L464.8,12.17M499.2,204.44L499.2,12.94M338.2,162.5L510.5,166.4M338.2,124.2L510.5,128.1M338.2,85.9L510.5,89.8M338.2,47.6L510.5,51.5M338.2,9.3L510.5,13.2M323.41,250.89L323.41,59.39M327.38,237.45L327.38,45.95M331.35,224.02L331.35,32.52M335.31,210.58L335.31,19.08M323.2,213.3L338.2,162.5M323.2,175L338.2,124.2M323.2,136.7L338.2,85.9M323.2,98.4L338.2,47.6M323.2,60.1L338.2,9.3M346.6,252.13L361.6,201.33M381,252.91L396,202.11M415.4,253.69L430.4,202.89M449.8,254.47L464.8,203.67M484.2,255.24L499.2,204.44M323.41,250.89L495.71,254.79M327.38,237.45L499.68,241.35M331.35,224.02L503.64,227.92M335.31,210.58L507.61,214.48"/>
<path fill="none" stroke="#9a9a9a" stroke-width="0.75" d="M323.2,251.6L323.2,60.1M338.2,200.8L338.2,9.3M510.5,204.7L510.5,13.2M338.2,9.3L510.5,13.2M323.2,60.1L338.2,9.3M323.2,251.6L495.5,255.5M495.5,255.5L510.5,204.7M338.2,200.8L510.5,204.7M323.2,251.6L338.2,200.8M323.2,251.6L318.4,251.5M323.2,213.3L318.4,213.2M323.2,175L318.4,174.9M323.2,136.7L318.4,136.6M323.2,98.4L318.4,98.3M323.2,60.1L318.4,60M346.6,252.13L345.4,256.13M381,252.91L379.8,256.91M415.4,253.69L414.2,257.69M449.8,254.47L448.6,258.47M484.2,255.24L483,259.24M495.71,254.79L499.91,254.89M499.68,241.35L503.88,241.45M503.64,227.92L507.84,228.02M507.61,214.48L511.81,214.58"/>
<g filter="url(#bl)">
<path fill="#3926a2" stroke="#3926a2" stroke-width="0.4" d="M482.2,224.4l3.4,.2 .5,-2.4 -3.4,-.2zM485.6,224.6l3.3,.3 .5,-2.4 -3.3,-.3zM488.9,224.9l3.3,.2 .5,-2.4 -3.3,-.2zM492.2,225.1l3.3,.2 .5,-2.4 -3.3,-.2z"/>
<path fill="#3b2aac" stroke="#3b2aac" stroke-width="0.4" d="M465.7,223.3l3.3,.3 .5,-2.5 -3.3,-.2zM469,223.6l3.3,.2 .5,-2.4 -3.3,-.3zM472.3,223.8l3.3,.2 .5,-2.4 -3.3,-.2zM475.6,224l3.3,.2 .5,-2.4 -3.3,-.2zM478.9,224.2l3.3,.2 .5,-2.4 -3.3,-.2zM482.7,222l3.4,.2 .5,-2.4 -3.4,-.2zM486.1,222.2l3.3,.3 .5,-2.5 -3.3,-.2zM489.4,222.5l3.3,.2 .5,-2.4 -3.3,-.3zM492.7,222.7l3.3,.2 .5,-2.4 -3.3,-.2z"/>
<path fill="#3d2db6" stroke="#3d2db6" stroke-width="0.4" d="M452.4,222.5l3.3,.2 .5,-2.5 -3.3,-.2zM455.7,222.7l3.4,.2 .5,-2.4 -3.4,-.3zM459.1,222.9l3.3,.2 .5,-2.4 -3.3,-.2zM462.4,223.1l3.3,.2 .5,-2.4 -3.3,-.2zM469.5,221.1l3.3,.3 .5,-2.5 -3.3,-.2zM472.8,221.4l3.3,.2 .5,-2.5 -3.3,-.2zM476.1,221.6l3.3,.2 .5,-2.4 -3.3,-.3zM479.4,221.8l3.3,.2 .5,-2.4 -3.3,-.2zM486.6,219.8l3.3,.2 .5,-2.4 -3.3,-.2zM489.9,220l3.3,.3 .5,-2.5 -3.3,-.2zM493.2,220.3l3.3,.2 .5,-2.4 -3.3,-.3z"/>
<path fill="#3e31c0" stroke="#3e31c0" stroke-width="0.4" d="M439.2,221.6l3.3,.2 .5,-2.4 -3.3,-.3zM442.5,221.8l3.3,.2 .5,-2.4 -3.3,-.2zM445.8,222l3.3,.2 .5,-2.4 -3.3,-.2zM449.1,222.2l3.3,.3 .5,-2.5 -3.3,-.2zM456.2,220.2l3.4,.3 .5,-2.5 -3.4,-.2zM459.6,220.5l3.3,.2 .5,-2.5 -3.3,-.2zM462.9,220.7l3.3,.2 .5,-2.4 -3.3,-.3zM466.2,220.9l3.3,.2 .5,-2.4 -3.3,-.2zM473.3,218.9l3.3,.2 .5,-2.4 -3.3,-.2zM476.6,219.1l3.3,.3 .5,-2.5 -3.3,-.2zM479.9,219.4l3.3,.2 .5,-2.4 -3.3,-.3zM483.2,219.6l3.4,.2 .5,-2.4 -3.4,-.2zM490.4,217.6l3.3,.2 .5,-2.4 -3.3,-.2zM493.7,217.8l3.3,.3 .5,-2.5 -3.3,-.2z"/>
<path fill="#3f36c8" stroke="#3f36c8" stroke-width="0.4" d="M425.9,220.7l3.3,.2 .5,-2.4 -3.3,-.3zM429.2,220.9l3.3,.3 .5,-2.5 -3.3,-.2zM432.5,221.2l3.4,.2 .5,-2.5 -3.4,-.2zM435.9,221.4l3.3,.2 .5,-2.5 -3.3,-.2zM443,219.4l3.3,.2 .5,-2.5 -3.3,-.2zM446.3,219.6l3.3,.2 .5,-2.5 -3.3,-.2zM449.6,219.8l3.3,.2 .5,-2.4 -3.3,-.3zM452.9,220l3.3,.2 .5,-2.4 -3.3,-.2zM460.1,218l3.3,.2 .5,-2.4 -3.3,-.2zM463.4,218.2l3.3,.3 .5,-2.5 -3.3,-.2zM466.7,218.5l3.3,.2 .5,-2.5 -3.3,-.2zM470,218.7l3.3,.2 .5,-2.4 -3.3,-.3zM477.1,216.7l3.3,.2 .5,-2.4 -3.3,-.2zM480.4,216.9l3.3,.3 .5,-2.5 -3.3,-.2zM483.7,217.2l3.4,.2 .5,-2.5 -3.4,-.2zM487.1,217.4l3.3,.2 .5,-2.4 -3.3,-.3zM494.2,215.4l3.3,.2 .5,-2.4 -3.3,-.2z"/>
<path fill="#403bce" stroke="#403bce" stroke-width="0.4" d="M409.4,219.6l3.3,.2 .5,-2.4 -3.3,-.3zM412.7,219.8l3.3,.3 .5,-2.5 -3.3,-.2zM416,220.1l3.3,.2 .5,-2.5 -3.3,-.2zM419.3,220.3l3.3,.2 .5,-2.5 -3.3,-.2zM422.6,220.5l3.3,.2 .5,-2.5 -3.3,-.2zM429.7,218.5l3.3,.2 .5,-2.5 -3.3,-.2zM433,218.7l3.4,.2 .5,-2.5 -3.4,-.2zM436.4,218.9l3.3,.2 .5,-2.4 -3.3,-.3zM439.7,219.1l3.3,.3 .5,-2.5 -3.3,-.2zM446.8,217.1l3.3,.2 .5,-2.4 -3.3,-.2zM450.1,217.3l3.3,.3 .5,-2.5 -3.3,-.2zM453.4,217.6l3.3,.2 .5,-2.5 -3.3,-.2zM456.7,217.8l3.4,.2 .5,-2.4 -3.4,-.3zM463.9,215.8l3.3,.2 .5,-2.4 -3.3,-.3zM467.2,216l3.3,.2 .5,-2.4 -3.3,-.2zM470.5,216.2l3.3,.3 .5,-2.5 -3.3,-.2zM473.8,216.5l3.3,.2 .5,-2.4 -3.3,-.3zM480.9,214.5l3.3,.2 .5,-2.4 -3.3,-.3zM484.2,214.7l3.4,.2 .5,-2.4 -3.4,-.2zM487.6,214.9l3.3,.3 .5,-2.5 -3.3,-.2zM490.9,215.2l3.3,.2 .5,-2.4 -3.3,-.3z"/>
<path fill="#4040d4" stroke="#4040d4" stroke-width="0.4" d="M396.1,218.7l3.3,.3 .5,-2.5 -3.3,-.3zM399.4,219l3.3,.2 .5,-2.5 -3.3,-.2zM402.7,219.2l3.3,.2 .5,-2.5 -3.3,-.2zM406,219.4l3.4,.2 .5,-2.5 -3.4,-.2zM413.2,217.4l3.3,.2 .5,-2.5 -3.3,-.2zM416.5,217.6l3.3,.2 .5,-2.5 -3.3,-.2zM419.8,217.8l3.3,.2 .5,-2.5 -3.3,-.2zM423.1,218l3.3,.2 .5,-2.4 -3.3,-.3zM426.4,218.2l3.3,.3 .5,-2.5 -3.3,-.2zM433.5,216.2l3.4,.2 .5,-2.4 -3.4,-.3zM436.9,216.4l3.3,.3 .5,-2.5 -3.3,-.2zM440.2,216.7l3.3,.2 .5,-2.5 -3.3,-.2zM443.5,216.9l3.3,.2 .5,-2.4 -3.3,-.3zM450.6,214.9l3.3,.2 .5,-2.5 -3.3,-.2zM453.9,215.1l3.3,.2 .5,-2.4 -3.3,-.3zM457.2,215.3l3.4,.3 .5,-2.5 -3.4,-.2zM460.6,215.6l3.3,.2 .5,-2.5 -3.3,-.2zM467.7,213.6l3.3,.2 .5,-2.5 -3.3,-.2zM471,213.8l3.3,.2 .5,-2.4 -3.3,-.3zM474.3,214l3.3,.3 .5,-2.5 -3.3,-.2zM477.6,214.3l3.3,.2 .5,-2.5 -3.3,-.2zM484.7,212.3l3.4,.2 .5,-2.5 -3.4,-.2zM488.1,212.5l3.3,.2 .5,-2.4 -3.3,-.3zM491.4,212.7l3.3,.3 .5,-2.5 -3.3,-.2zM494.7,213l3.3,.2 .5,-2.5 -3.3,-.2z"/>
<path fill="#4145d8" stroke="#4145d8" stroke-width="0.4" d="M382.8,217.9l3.4,.2 .5,-2.5 -3.4,-.2zM386.2,218.1l3.3,.2 .5,-2.5 -3.3,-.2zM389.5,218.3l3.3,.2 .5,-2.5 -3.3,-.2zM392.8,218.5l3.3,.2 .5,-2.5 -3.3,-.2zM399.9,216.5l3.3,.2 .5,-2.5 -3.3,-.2zM403.2,216.7l3.3,.2 .5,-2.5 -3.3,-.2zM406.5,216.9l3.4,.2 .5,-2.5 -3.4,-.2zM409.9,217.1l3.3,.3 .5,-2.5 -3.3,-.3zM420.3,215.3l3.3,.2 .5,-2.4 -3.3,-.3zM423.6,215.5l3.3,.3 .5,-2.5 -3.3,-.2zM426.9,215.8l3.3,.2 .5,-2.5 -3.3,-.2zM430.2,216l3.3,.2 .5,-2.5 -3.3,-.2zM437.4,214l3.3,.2 .5,-2.5 -3.3,-.2zM440.7,214.2l3.3,.2 .5,-2.5 -3.3,-.2zM444,214.4l3.3,.3 .5,-2.5 -3.3,-.3zM447.3,214.7l3.3,.2 .5,-2.5 -3.3,-.2zM454.4,212.6l3.3,.3 .5,-2.5 -3.3,-.3zM457.7,212.9l3.4,.2 .5,-2.5 -3.4,-.2zM461.1,213.1l3.3,.2 .5,-2.5 -3.3,-.2zM464.4,213.3l3.3,.3 .5,-2.5 -3.3,-.3zM471.5,211.3l3.3,.3 .5,-2.5 -3.3,-.3zM474.8,211.6l3.3,.2 .5,-2.5 -3.3,-.2zM478.1,211.8l3.3,.2 .5,-2.5 -3.3,-.2zM481.4,212l3.3,.3 .5,-2.5 -3.3,-.3zM488.6,210l3.3,.3 .5,-2.5 -3.3,-.3zM491.9,210.3l3.3,.2 .5,-2.5 -3.3,-.2zM495.2,210.5l3.3,.2 .5,-2.4 -3.3,-.3z"/>
<path fill="#404adc" stroke="#404adc" stroke-width="0.4" d="M369.6,217l3.3,.2 .5,-2.5 -3.3,-.2zM372.9,217.2l3.3,.2 .5,-2.5 -3.3,-.2zM376.2,217.4l3.3,.2 .5,-2.5 -3.3,-.2zM379.5,217.6l3.3,.3 .5,-2.5 -3.3,-.3zM386.7,215.6l3.3,.2 .5,-2.5 -3.3,-.2zM390,215.8l3.3,.2 .5,-2.5 -3.3,-.2zM393.3,216l3.3,.2 .5,-2.5 -3.3,-.2zM396.6,216.2l3.3,.3 .5,-2.5 -3.3,-.3zM407,214.4l3.4,.2 .5,-2.5 -3.4,-.2zM410.4,214.6l3.3,.3 .5,-2.5 -3.3,-.3zM413.7,214.9l3.3,.2 .5,-2.5 -3.3,-.2zM417,215.1l3.3,.2 .5,-2.5 -3.3,-.2zM424.1,213.1l3.3,.2 .5,-2.5 -3.3,-.3zM427.4,213.3l3.3,.2 .5,-2.5 -3.3,-.2zM430.7,213.5l3.3,.2 .5,-2.5 -3.3,-.2zM434,213.7l3.4,.3 .5,-2.5 -3.4,-.3zM441.2,211.7l3.3,.2 .5,-2.5 -3.3,-.2zM444.5,211.9l3.3,.3 .5,-2.5 -3.3,-.3zM447.8,212.2l3.3,.2 .5,-2.5 -3.3,-.2zM451.1,212.4l3.3,.2 .5,-2.5 -3.3,-.2zM458.2,210.4l3.4,.2 .5,-2.5 -3.4,-.2zM461.6,210.6l3.3,.2 .5,-2.4 -3.3,-.3zM464.9,210.8l3.3,.3 .5,-2.5 -3.3,-.2zM468.2,211.1l3.3,.2 .5,-2.5 -3.3,-.2zM475.3,209.1l3.3,.2 .5,-2.5 -3.3,-.2zM478.6,209.3l3.3,.2 .5,-2.4 -3.3,-.3zM481.9,209.5l3.3,.3 .5,-2.5 -3.3,-.2zM485.2,209.8l3.4,.2 .5,-2.5 -3.4,-.2zM492.4,207.8l3.3,.2 .5,-2.5 -3.3,-.2zM495.7,208l3.3,.3 .5,-2.5 -3.3,-.3z"/>
<path fill="#404fdf" stroke="#404fdf" stroke-width="0.4" d="M353,215.9l3.3,.2 .5,-2.5 -3.3,-.3zM356.3,216.1l3.3,.2 .5,-2.5 -3.3,-.2zM359.6,216.3l3.4,.2 .5,-2.5 -3.4,-.2zM363,216.5l3.3,.3 .5,-2.6 -3.3,-.2zM366.3,216.8l3.3,.2 .5,-2.5 -3.3,-.3zM373.4,214.7l3.3,.2 .5,-2.5 -3.3,-.2zM376.7,214.9l3.3,.2 .5,-2.5 -3.3,-.2zM380,215.1l3.3,.3 .5,-2.6 -3.3,-.2zM383.3,215.4l3.4,.2 .5,-2.5 -3.4,-.3zM390.5,213.3l3.3,.2 .5,-2.5 -3.3,-.2zM393.8,213.5l3.3,.2 .5,-2.5 -3.3,-.2zM397.1,213.7l3.3,.3 .5,-2.6 -3.3,-.2zM400.4,214l3.3,.2 .5,-2.5 -3.3,-.3zM403.7,214.2l3.3,.2 .5,-2.5 -3.3,-.2zM410.9,212.1l3.3,.3 .5,-2.6 -3.3,-.2zM414.2,212.4l3.3,.2 .5,-2.5 -3.3,-.3zM417.5,212.6l3.3,.2 .5,-2.5 -3.3,-.2zM420.8,212.8l3.3,.3 .5,-2.6 -3.3,-.2zM427.9,210.8l3.3,.2 .5,-2.5 -3.3,-.2zM431.2,211l3.3,.2 .5,-2.5 -3.3,-.2zM434.5,211.2l3.4,.3 .5,-2.5 -3.4,-.3zM437.9,211.5l3.3,.2 .5,-2.5 -3.3,-.2zM445,209.4l3.3,.3 .5,-2.5 -3.3,-.3zM448.3,209.7l3.3,.2 .5,-2.5 -3.3,-.2zM451.6,209.9l3.3,.2 .5,-2.5 -3.3,-.2zM454.9,210.1l3.3,.3 .5,-2.5 -3.3,-.3zM462.1,208.1l3.3,.3 .5,-2.5 -3.3,-.3zM465.4,208.4l3.3,.2 .5,-2.5 -3.3,-.2zM468.7,208.6l3.3,.2 .5,-2.5 -3.3,-.2zM472,208.8l3.3,.3 .5,-2.5 -3.3,-.3zM479.1,206.8l3.3,.3 .5,-2.5 -3.3,-.3zM482.4,207.1l3.3,.2 .5,-2.5 -3.3,-.2zM485.7,207.3l3.4,.2 .5,-2.4 -3.4,-.3zM489.1,207.5l3.3,.3 .5,-2.5 -3.3,-.2zM496.2,205.5l3.3,.3 .5,-2.5 -3.3,-.2z"/>
<path fill="#3f54e2" stroke="#3f54e2" stroke-width="0.4" d="M339.8,215l3.3,.2 .5,-2.5 -3.3,-.3zM343.1,215.2l3.3,.2 .5,-2.5 -3.3,-.2zM346.4,215.4l3.3,.3 .5,-2.6 -3.3,-.2zM349.7,215.7l3.3,.2 .5,-2.6 -3.3,-.2zM360.1,213.8l3.4,.2 .5,-2.5 -3.4,-.3zM363.5,214l3.3,.2 .5,-2.5 -3.3,-.2zM366.8,214.2l3.3,.3 .5,-2.6 -3.3,-.2zM370.1,214.5l3.3,.2 .5,-2.5 -3.3,-.3zM377.2,212.4l3.3,.2 .5,-2.5 -3.3,-.3zM380.5,212.6l3.3,.2 .5,-2.5 -3.3,-.2zM383.8,212.8l3.4,.3 .5,-2.6 -3.4,-.2zM387.2,213.1l3.3,.2 .5,-2.5 -3.3,-.3zM397.6,211.2l3.3,.2 .5,-2.5 -3.3,-.2zM400.9,211.4l3.3,.3 .5,-2.5 -3.3,-.3zM404.2,211.7l3.3,.2 .5,-2.5 -3.3,-.2zM407.5,211.9l3.4,.2 .5,-2.5 -3.4,-.2zM414.7,209.8l3.3,.3 .5,-2.5 -3.3,-.3zM418,210.1l3.3,.2 .5,-2.5 -3.3,-.2zM421.3,210.3l3.3,.2 .5,-2.5 -3.3,-.2zM424.6,210.5l3.3,.3 .5,-2.5 -3.3,-.3zM431.7,208.5l3.3,.2 .5,-2.5 -3.3,-.2zM435,208.7l3.4,.3 .5,-2.5 -3.4,-.3zM438.4,209l3.3,.2 .5,-2.5 -3.3,-.2zM441.7,209.2l3.3,.2 .5,-2.5 -3.3,-.2zM448.8,207.2l3.3,.2 .5,-2.5 -3.3,-.3zM452.1,207.4l3.3,.2 .5,-2.5 -3.3,-.2zM455.4,207.6l3.3,.3 .5,-2.5 -3.3,-.3zM458.7,207.9l3.4,.2 .5,-2.5 -3.4,-.2zM465.9,205.9l3.3,.2 .5,-2.5 -3.3,-.3zM469.2,206.1l3.3,.2 .5,-2.5 -3.3,-.2zM472.5,206.3l3.3,.3 .5,-2.5 -3.3,-.3zM475.8,206.6l3.3,.2 .5,-2.5 -3.3,-.2zM482.9,204.6l3.3,.2 .5,-2.5 -3.3,-.2zM486.2,204.8l3.4,.3 .5,-2.5 -3.4,-.3zM489.6,205.1l3.3,.2 .5,-2.5 -3.3,-.2zM492.9,205.3l3.3,.2 .5,-2.4 -3.3,-.3z"/>
<path fill="#3e59e3" stroke="#3e59e3" stroke-width="0.4" d="M326.5,214.1l3.3,.2 .5,-2.5 -3.3,-.2zM329.8,214.3l3.3,.3 .5,-2.6 -3.3,-.2zM333.1,214.6l3.4,.2 .5,-2.6 -3.4,-.2zM336.5,214.8l3.3,.2 .5,-2.6 -3.3,-.2zM346.9,212.9l3.3,.2 .5,-2.5 -3.3,-.3zM350.2,213.1l3.3,.2 .5,-2.5 -3.3,-.2zM353.5,213.3l3.3,.3 .5,-2.6 -3.3,-.2zM356.8,213.6l3.3,.2 .5,-2.6 -3.3,-.2zM364,211.5l3.3,.2 .5,-2.5 -3.3,-.3zM367.3,211.7l3.3,.2 .5,-2.5 -3.3,-.2zM370.6,211.9l3.3,.3 .5,-2.6 -3.3,-.2zM373.9,212.2l3.3,.2 .5,-2.6 -3.3,-.2zM384.3,210.3l3.4,.2 .5,-2.5 -3.4,-.2zM387.7,210.5l3.3,.3 .5,-2.6 -3.3,-.2zM391,210.8l3.3,.2 .5,-2.5 -3.3,-.3zM394.3,211l3.3,.2 .5,-2.5 -3.3,-.2zM401.4,208.9l3.3,.3 .5,-2.6 -3.3,-.2zM404.7,209.2l3.3,.2 .5,-2.6 -3.3,-.2zM408,209.4l3.4,.2 .5,-2.5 -3.4,-.3zM411.4,209.6l3.3,.2 .5,-2.5 -3.3,-.2zM418.5,207.6l3.3,.2 .5,-2.5 -3.3,-.3zM421.8,207.8l3.3,.2 .5,-2.5 -3.3,-.2zM425.1,208l3.3,.3 .5,-2.6 -3.3,-.2zM428.4,208.3l3.3,.2 .5,-2.5 -3.3,-.3zM438.9,206.5l3.3,.2 .5,-2.5 -3.3,-.3zM442.2,206.7l3.3,.2 .5,-2.5 -3.3,-.2zM445.5,206.9l3.3,.3 .5,-2.6 -3.3,-.2zM455.9,205.1l3.3,.3 .5,-2.5 -3.3,-.3zM459.2,205.4l3.4,.2 .5,-2.5 -3.4,-.2zM462.6,205.6l3.3,.3 .5,-2.6 -3.3,-.2zM469.7,203.6l3.3,.2 .5,-2.5 -3.3,-.2zM473,203.8l3.3,.3 .5,-2.5 -3.3,-.3zM476.3,204.1l3.3,.2 .5,-2.5 -3.3,-.2zM479.6,204.3l3.3,.3 .5,-2.5 -3.3,-.3zM486.7,202.3l3.4,.3 .5,-2.6 -3.4,-.2zM490.1,202.6l3.3,.2 .5,-2.5 -3.3,-.3zM493.4,202.8l3.3,.3 .5,-2.6 -3.3,-.2zM496.7,203.1l3.3,.2 .5,-2.5 -3.3,-.3z"/>
<path fill="#3c5fe4" stroke="#3c5fe4" stroke-width="0.4" d="M323.2,213.9l3.3,.2 .5,-2.5 -3.3,-.3zM333.6,212l3.4,.2 .5,-2.5 -3.4,-.3zM337,212.2l3.3,.2 .5,-2.5 -3.3,-.2zM340.3,212.4l3.3,.3 .5,-2.6 -3.3,-.2zM343.6,212.7l3.3,.2 .5,-2.6 -3.3,-.2zM350.7,210.6l3.3,.2 .5,-2.6 -3.3,-.2zM354,210.8l3.3,.2 .5,-2.5 -3.3,-.3zM357.3,211l3.3,.2 .5,-2.5 -3.3,-.2zM360.6,211.2l3.4,.3 .5,-2.6 -3.4,-.2zM371.1,209.4l3.3,.2 .5,-2.5 -3.3,-.3zM374.4,209.6l3.3,.2 .5,-2.5 -3.3,-.2zM377.7,209.8l3.3,.3 .5,-2.6 -3.3,-.2zM381,210.1l3.3,.2 .5,-2.5 -3.3,-.3zM388.2,208l3.3,.2 .5,-2.5 -3.3,-.3zM391.5,208.2l3.3,.3 .5,-2.6 -3.3,-.2zM394.8,208.5l3.3,.2 .5,-2.6 -3.3,-.2zM398.1,208.7l3.3,.2 .5,-2.5 -3.3,-.3zM408.5,206.8l3.4,.3 .5,-2.6 -3.4,-.2zM411.9,207.1l3.3,.2 .5,-2.5 -3.3,-.3zM415.2,207.3l3.3,.3 .5,-2.6 -3.3,-.2zM425.6,205.5l3.3,.2 .5,-2.5 -3.3,-.3zM428.9,205.7l3.3,.3 .5,-2.6 -3.3,-.2zM432.2,206l3.3,.2 .5,-2.5 -3.3,-.3zM435.5,206.2l3.4,.3 .5,-2.6 -3.4,-.2zM442.7,204.2l3.3,.2 .5,-2.5 -3.3,-.3zM446,204.4l3.3,.2 .5,-2.5 -3.3,-.2zM449.3,204.6l3.3,.3 .5,-2.5 -3.3,-.3zM452.6,204.9l3.3,.2 .5,-2.5 -3.3,-.2zM459.7,202.9l3.4,.2 .5,-2.5 -3.4,-.3zM463.1,203.1l3.3,.2 .5,-2.5 -3.3,-.2zM466.4,203.3l3.3,.3 .5,-2.5 -3.3,-.3zM476.8,201.6l3.3,.2 .5,-2.5 -3.3,-.3zM480.1,201.8l3.3,.3 .5,-2.6 -3.3,-.2zM483.4,202.1l3.3,.2 .5,-2.5 -3.3,-.3zM490.6,200l3.3,.3 .5,-2.5 -3.3,-.3zM493.9,200.3l3.3,.2 .5,-2.5 -3.3,-.2zM497.2,200.5l3.3,.3 .5,-2.5 -3.3,-.3z"/>
<path fill="#3864e5" stroke="#3864e5" stroke-width="0.4" d="M323.7,211.3l3.3,.3 .5,-2.6 -3.3,-.3zM327,211.6l3.3,.2 .5,-2.6 -3.3,-.2zM330.3,211.8l3.3,.2 .5,-2.6 -3.3,-.2zM337.5,209.7l3.3,.2 .5,-2.6 -3.3,-.2zM340.8,209.9l3.3,.2 .5,-2.6 -3.3,-.2zM344.1,210.1l3.3,.2 .5,-2.5 -3.3,-.3zM347.4,210.3l3.3,.3 .5,-2.6 -3.3,-.2zM357.8,208.5l3.3,.2 .5,-2.6 -3.3,-.2zM361.1,208.7l3.4,.2 .5,-2.5 -3.4,-.3zM364.5,208.9l3.3,.3 .5,-2.6 -3.3,-.2zM367.8,209.2l3.3,.2 .5,-2.6 -3.3,-.2zM374.9,207.1l3.3,.2 .5,-2.6 -3.3,-.2zM378.2,207.3l3.3,.2 .5,-2.5 -3.3,-.3zM381.5,207.5l3.3,.3 .5,-2.6 -3.3,-.2zM384.8,207.8l3.4,.2 .5,-2.6 -3.4,-.2zM395.3,205.9l3.3,.2 .5,-2.5 -3.3,-.3zM398.6,206.1l3.3,.3 .5,-2.6 -3.3,-.2zM401.9,206.4l3.3,.2 .5,-2.5 -3.3,-.3zM405.2,206.6l3.3,.2 .5,-2.5 -3.3,-.2zM412.4,204.5l3.3,.3 .5,-2.6 -3.3,-.2zM415.7,204.8l3.3,.2 .5,-2.5 -3.3,-.3zM419,205l3.3,.3 .5,-2.6 -3.3,-.2zM422.3,205.3l3.3,.2 .5,-2.6 -3.3,-.2zM429.4,203.2l3.3,.2 .5,-2.5 -3.3,-.3zM432.7,203.4l3.3,.3 .5,-2.6 -3.3,-.2zM436,203.7l3.4,.2 .5,-2.5 -3.4,-.3zM439.4,203.9l3.3,.3 .5,-2.6 -3.3,-.2zM446.5,201.9l3.3,.2 .5,-2.5 -3.3,-.3zM449.8,202.1l3.3,.3 .5,-2.6 -3.3,-.2zM453.1,202.4l3.3,.2 .5,-2.5 -3.3,-.3zM456.4,202.6l3.3,.3 .5,-2.6 -3.3,-.2zM463.6,200.6l3.3,.2 .5,-2.5 -3.3,-.3zM466.9,200.8l3.3,.3 .5,-2.6 -3.3,-.2zM470.2,201.1l3.3,.2 .5,-2.5 -3.3,-.3zM473.5,201.3l3.3,.3 .5,-2.6 -3.3,-.2zM480.6,199.3l3.3,.2 .5,-2.5 -3.3,-.3zM483.9,199.5l3.3,.3 .5,-2.5 -3.3,-.3zM487.2,199.8l3.4,.2 .5,-2.5 -3.4,-.2zM494.4,197.8l3.3,.2 .5,-2.5 -3.3,-.3zM497.7,198l3.3,.3 .5,-2.6 -3.3,-.2z"/>
<path fill="#336ae5" stroke="#336ae5" stroke-width="0.4" d="M324.2,208.7l3.3,.3 .5,-2.6 -3.3,-.2zM327.5,209l3.3,.2 .5,-2.6 -3.3,-.2zM330.8,209.2l3.3,.2 .5,-2.6 -3.3,-.2zM334.1,209.4l3.4,.3 .5,-2.6 -3.4,-.3zM344.6,207.5l3.3,.3 .5,-2.6 -3.3,-.2zM347.9,207.8l3.3,.2 .5,-2.6 -3.3,-.2zM351.2,208l3.3,.2 .5,-2.5 -3.3,-.3zM354.5,208.2l3.3,.3 .5,-2.6 -3.3,-.2zM365,206.4l3.3,.2 .5,-2.6 -3.3,-.2zM368.3,206.6l3.3,.2 .5,-2.6 -3.3,-.2zM371.6,206.8l3.3,.3 .5,-2.6 -3.3,-.3zM382,205l3.3,.2 .5,-2.6 -3.3,-.2zM385.3,205.2l3.4,.2 .5,-2.5 -3.4,-.3zM388.7,205.4l3.3,.3 .5,-2.6 -3.3,-.2zM392,205.7l3.3,.2 .5,-2.6 -3.3,-.2zM399.1,203.6l3.3,.2 .5,-2.6 -3.3,-.2zM402.4,203.8l3.3,.3 .5,-2.6 -3.3,-.3zM405.7,204.1l3.3,.2 .5,-2.6 -3.3,-.2zM409,204.3l3.4,.2 .5,-2.5 -3.4,-.3zM419.5,202.5l3.3,.2 .5,-2.6 -3.3,-.2zM422.8,202.7l3.3,.2 .5,-2.5 -3.3,-.3zM426.1,202.9l3.3,.3 .5,-2.6 -3.3,-.2zM436.5,201.1l3.4,.3 .5,-2.6 -3.4,-.2zM439.9,201.4l3.3,.2 .5,-2.5 -3.3,-.3zM443.2,201.6l3.3,.3 .5,-2.6 -3.3,-.2zM453.6,199.8l3.3,.3 .5,-2.6 -3.3,-.2zM456.9,200.1l3.3,.2 .5,-2.5 -3.3,-.3zM460.2,200.3l3.4,.3 .5,-2.6 -3.4,-.2zM467.4,198.3l3.3,.2 .5,-2.5 -3.3,-.3zM470.7,198.5l3.3,.3 .5,-2.6 -3.3,-.2zM474,198.8l3.3,.2 .5,-2.5 -3.3,-.3zM477.3,199l3.3,.3 .5,-2.6 -3.3,-.2zM484.4,197l3.3,.3 .5,-2.6 -3.3,-.2zM487.7,197.3l3.4,.2 .5,-2.5 -3.4,-.3zM491.1,197.5l3.3,.3 .5,-2.6 -3.3,-.2z"/>
<path fill="#2d6fe3" stroke="#2d6fe3" stroke-width="0.4" d="M331.3,206.6l3.3,.2 .5,-2.5 -3.3,-.3zM334.6,206.8l3.4,.3 .5,-2.6 -3.4,-.2zM338,207.1l3.3,.2 .5,-2.6 -3.3,-.2zM341.3,207.3l3.3,.2 .5,-2.5 -3.3,-.3zM351.7,205.4l3.3,.3 .5,-2.6 -3.3,-.3zM355,205.7l3.3,.2 .5,-2.6 -3.3,-.2zM358.3,205.9l3.3,.2 .5,-2.6 -3.3,-.2zM361.6,206.1l3.4,.3 .5,-2.6 -3.4,-.3zM368.8,204l3.3,.2 .5,-2.5 -3.3,-.3zM372.1,204.2l3.3,.3 .5,-2.6 -3.3,-.2zM375.4,204.5l3.3,.2 .5,-2.6 -3.3,-.2zM378.7,204.7l3.3,.3 .5,-2.6 -3.3,-.3zM389.2,202.9l3.3,.2 .5,-2.6 -3.3,-.2zM392.5,203.1l3.3,.2 .5,-2.5 -3.3,-.3zM395.8,203.3l3.3,.3 .5,-2.6 -3.3,-.2zM406.2,201.5l3.3,.2 .5,-2.5 -3.3,-.3zM409.5,201.7l3.4,.3 .5,-2.6 -3.4,-.2zM412.9,202l3.3,.2 .5,-2.5 -3.3,-.3zM416.2,202.2l3.3,.3 .5,-2.6 -3.3,-.2zM423.3,200.1l3.3,.3 .5,-2.6 -3.3,-.2zM426.6,200.4l3.3,.2 .5,-2.5 -3.3,-.3zM429.9,200.6l3.3,.3 .5,-2.6 -3.3,-.2zM433.2,200.9l3.3,.2 .5,-2.5 -3.3,-.3zM440.4,198.8l3.3,.3 .5,-2.6 -3.3,-.3zM443.7,199.1l3.3,.2 .5,-2.5 -3.3,-.3zM447,199.3l3.3,.3 .5,-2.6 -3.3,-.2zM450.3,199.6l3.3,.2 .5,-2.5 -3.3,-.3zM457.4,197.5l3.3,.3 .5,-2.6 -3.3,-.2zM460.7,197.8l3.4,.2 .5,-2.5 -3.4,-.3zM464.1,198l3.3,.3 .5,-2.6 -3.3,-.2zM474.5,196.2l3.3,.3 .5,-2.6 -3.3,-.2zM477.8,196.5l3.3,.2 .5,-2.5 -3.3,-.3zM481.1,196.7l3.3,.3 .5,-2.5 -3.3,-.3zM488.2,194.7l3.4,.3 .5,-2.6 -3.4,-.2zM491.6,195l3.3,.2 .5,-2.5 -3.3,-.3zM494.9,195.2l3.3,.3 .5,-2.6 -3.3,-.2zM498.2,195.5l3.3,.2 .5,-2.5 -3.3,-.3z"/>
<path fill="#2a74e1" stroke="#2a74e1" stroke-width="0.4" d="M324.7,206.2l3.3,.2 .5,-2.6 -3.3,-.3zM328,206.4l3.3,.2 .5,-2.6 -3.3,-.2zM338.5,204.5l3.3,.2 .5,-2.6 -3.3,-.2zM341.8,204.7l3.3,.3 .5,-2.6 -3.3,-.3zM345.1,205l3.3,.2 .5,-2.6 -3.3,-.2zM348.4,205.2l3.3,.2 .5,-2.6 -3.3,-.2zM355.5,203.1l3.3,.2 .5,-2.6 -3.3,-.2zM358.8,203.3l3.3,.2 .5,-2.6 -3.3,-.2zM362.1,203.5l3.4,.3 .5,-2.6 -3.4,-.3zM365.5,203.8l3.3,.2 .5,-2.6 -3.3,-.2zM375.9,201.9l3.3,.2 .5,-2.6 -3.3,-.2zM379.2,202.1l3.3,.3 .5,-2.6 -3.3,-.3zM382.5,202.4l3.3,.2 .5,-2.6 -3.3,-.2zM385.8,202.6l3.4,.3 .5,-2.6 -3.4,-.3zM393,200.5l3.3,.3 .5,-2.6 -3.3,-.3zM396.3,200.8l3.3,.2 .5,-2.6 -3.3,-.2zM399.6,201l3.3,.2 .5,-2.5 -3.3,-.3zM402.9,201.2l3.3,.3 .5,-2.6 -3.3,-.2zM410,199.2l3.4,.2 .5,-2.6 -3.4,-.2zM413.4,199.4l3.3,.3 .5,-2.6 -3.3,-.3zM416.7,199.7l3.3,.2 .5,-2.6 -3.3,-.2zM420,199.9l3.3,.2 .5,-2.5 -3.3,-.3zM427.1,197.8l3.3,.3 .5,-2.6 -3.3,-.3zM430.4,198.1l3.3,.2 .5,-2.6 -3.3,-.2zM433.7,198.3l3.3,.3 .5,-2.6 -3.3,-.3zM437,198.6l3.4,.2 .5,-2.6 -3.4,-.2zM444.2,196.5l3.3,.3 .5,-2.6 -3.3,-.3zM447.5,196.8l3.3,.2 .5,-2.6 -3.3,-.2zM450.8,197l3.3,.3 .5,-2.6 -3.3,-.3zM454.1,197.3l3.3,.2 .5,-2.5 -3.3,-.3zM461.2,195.2l3.4,.3 .5,-2.6 -3.4,-.3zM464.6,195.5l3.3,.2 .5,-2.5 -3.3,-.3zM467.9,195.7l3.3,.3 .5,-2.6 -3.3,-.2zM471.2,196l3.3,.2 .5,-2.5 -3.3,-.3zM478.3,193.9l3.3,.3 .5,-2.6 -3.3,-.2zM481.6,194.2l3.3,.3 .5,-2.6 -3.3,-.3zM484.9,194.5l3.3,.2 .5,-2.5 -3.3,-.3zM495.4,192.7l3.3,.2 .5,-2.5 -3.3,-.3zM498.7,192.9l3.3,.3 .5,-2.5 -3.3,-.3z"/>
<path fill="#2979de" stroke="#2979de" stroke-width="0.4" d="M325.2,203.5l3.3,.3 .5,-2.6 -3.3,-.3zM328.5,203.8l3.3,.2 .5,-2.6 -3.3,-.2zM331.8,204l3.3,.3 .5,-2.7 -3.3,-.2zM335.1,204.3l3.4,.2 .5,-2.6 -3.4,-.3zM345.6,202.4l3.3,.2 .5,-2.6 -3.3,-.3zM348.9,202.6l3.3,.2 .5,-2.6 -3.3,-.2zM352.2,202.8l3.3,.3 .5,-2.6 -3.3,-.3zM362.6,200.9l3.4,.3 .5,-2.6 -3.4,-.3zM366,201.2l3.3,.2 .5,-2.6 -3.3,-.2zM369.3,201.4l3.3,.3 .5,-2.6 -3.3,-.3zM372.6,201.7l3.3,.2 .5,-2.6 -3.3,-.2zM383,199.8l3.3,.2 .5,-2.6 -3.3,-.2zM386.3,200l3.4,.3 .5,-2.6 -3.4,-.3zM389.7,200.3l3.3,.2 .5,-2.6 -3.3,-.2zM400.1,198.4l3.3,.3 .5,-2.6 -3.3,-.3zM403.4,198.7l3.3,.2 .5,-2.6 -3.3,-.2zM406.7,198.9l3.3,.3 .5,-2.6 -3.3,-.3zM417.2,197.1l3.3,.2 .5,-2.6 -3.3,-.2zM420.5,197.3l3.3,.3 .5,-2.6 -3.3,-.3zM423.8,197.6l3.3,.2 .5,-2.6 -3.3,-.2zM434.2,195.7l3.3,.3 .5,-2.6 -3.3,-.2zM437.5,196l3.4,.2 .5,-2.5 -3.4,-.3zM440.9,196.2l3.3,.3 .5,-2.6 -3.3,-.2zM451.3,194.4l3.3,.3 .5,-2.6 -3.3,-.2zM454.6,194.7l3.3,.3 .5,-2.6 -3.3,-.3zM457.9,195l3.3,.2 .5,-2.6 -3.3,-.2zM468.4,193.2l3.3,.2 .5,-2.6 -3.3,-.2zM471.7,193.4l3.3,.3 .5,-2.6 -3.3,-.3zM475,193.7l3.3,.2 .5,-2.5 -3.3,-.3zM482.1,191.6l3.3,.3 .5,-2.6 -3.3,-.2zM485.4,191.9l3.3,.3 .5,-2.6 -3.3,-.3zM488.7,192.2l3.4,.2 .5,-2.5 -3.4,-.3zM492.1,192.4l3.3,.3 .5,-2.6 -3.3,-.2zM499.2,190.4l3.3,.3 .5,-2.6 -3.3,-.3z"/>
<path fill="#287eda" stroke="#287eda" stroke-width="0.4" d="M332.3,201.4l3.3,.2 .5,-2.6 -3.3,-.2zM335.6,201.6l3.4,.3 .5,-2.6 -3.4,-.3zM339,201.9l3.3,.2 .5,-2.6 -3.3,-.2zM342.3,202.1l3.3,.3 .5,-2.7 -3.3,-.2zM349.4,200l3.3,.2 .5,-2.6 -3.3,-.2zM352.7,200.2l3.3,.3 .5,-2.7 -3.3,-.2zM356,200.5l3.3,.2 .5,-2.6 -3.3,-.3zM359.3,200.7l3.3,.2 .5,-2.6 -3.3,-.2zM369.8,198.8l3.3,.3 .5,-2.7 -3.3,-.2zM373.1,199.1l3.3,.2 .5,-2.6 -3.3,-.3zM376.4,199.3l3.3,.2 .5,-2.6 -3.3,-.2zM379.7,199.5l3.3,.3 .5,-2.6 -3.3,-.3zM386.8,197.4l3.4,.3 .5,-2.6 -3.4,-.3zM390.2,197.7l3.3,.2 .5,-2.6 -3.3,-.2zM393.5,197.9l3.3,.3 .5,-2.6 -3.3,-.3zM396.8,198.2l3.3,.2 .5,-2.6 -3.3,-.2zM403.9,196.1l3.3,.2 .5,-2.6 -3.3,-.2zM407.2,196.3l3.3,.3 .5,-2.6 -3.3,-.3zM410.5,196.6l3.4,.2 .5,-2.6 -3.4,-.2zM413.9,196.8l3.3,.3 .5,-2.6 -3.3,-.3zM424.3,195l3.3,.2 .5,-2.6 -3.3,-.2zM427.6,195.2l3.3,.3 .5,-2.6 -3.3,-.3zM430.9,195.5l3.3,.2 .5,-2.5 -3.3,-.3zM438,193.4l3.4,.3 .5,-2.6 -3.4,-.3zM441.4,193.7l3.3,.2 .5,-2.6 -3.3,-.2zM444.7,193.9l3.3,.3 .5,-2.6 -3.3,-.3zM448,194.2l3.3,.2 .5,-2.5 -3.3,-.3zM455.1,192.1l3.3,.3 .5,-2.6 -3.3,-.3zM458.4,192.4l3.3,.2 .5,-2.6 -3.3,-.2zM461.7,192.6l3.4,.3 .5,-2.6 -3.4,-.3zM465.1,192.9l3.3,.3 .5,-2.6 -3.3,-.3zM472.2,190.8l3.3,.3 .5,-2.6 -3.3,-.3zM475.5,191.1l3.3,.3 .5,-2.6 -3.3,-.3zM478.8,191.4l3.3,.2 .5,-2.5 -3.3,-.3zM489.2,189.6l3.4,.3 .5,-2.6 -3.4,-.3zM492.6,189.9l3.3,.2 .5,-2.6 -3.3,-.2zM495.9,190.1l3.3,.3 .5,-2.6 -3.3,-.3z"/>
<path fill="#2783d7" stroke="#2783d7" stroke-width="0.4" d="M325.7,200.9l3.3,.3 .5,-2.7 -3.3,-.2zM329,201.2l3.3,.2 .5,-2.6 -3.3,-.3zM339.5,199.3l3.3,.2 .5,-2.6 -3.3,-.3zM342.8,199.5l3.3,.2 .5,-2.6 -3.3,-.2zM346.1,199.7l3.3,.3 .5,-2.6 -3.3,-.3zM356.5,197.8l3.3,.3 .5,-2.6 -3.3,-.3zM359.8,198.1l3.3,.2 .5,-2.6 -3.3,-.2zM363.1,198.3l3.4,.3 .5,-2.7 -3.4,-.2zM366.5,198.6l3.3,.2 .5,-2.6 -3.3,-.3zM376.9,196.7l3.3,.2 .5,-2.6 -3.3,-.2zM380.2,196.9l3.3,.3 .5,-2.6 -3.3,-.3zM383.5,197.2l3.3,.2 .5,-2.6 -3.3,-.2zM394,195.3l3.3,.3 .5,-2.6 -3.3,-.3zM397.3,195.6l3.3,.2 .5,-2.6 -3.3,-.2zM400.6,195.8l3.3,.3 .5,-2.6 -3.3,-.3zM411,194l3.4,.2 .5,-2.6 -3.4,-.2zM414.4,194.2l3.3,.3 .5,-2.6 -3.3,-.3zM417.7,194.5l3.3,.2 .5,-2.6 -3.3,-.2zM421,194.7l3.3,.3 .5,-2.6 -3.3,-.3zM428.1,192.6l3.3,.3 .5,-2.6 -3.3,-.3zM431.4,192.9l3.3,.3 .5,-2.7 -3.3,-.2zM434.7,193.2l3.3,.2 .5,-2.6 -3.3,-.3zM445.2,191.3l3.3,.3 .5,-2.6 -3.3,-.3zM448.5,191.6l3.3,.3 .5,-2.6 -3.3,-.3zM451.8,191.9l3.3,.2 .5,-2.6 -3.3,-.2zM462.2,190l3.4,.3 .5,-2.6 -3.4,-.3zM465.6,190.3l3.3,.3 .5,-2.6 -3.3,-.3zM468.9,190.6l3.3,.2 .5,-2.6 -3.3,-.2zM476,188.5l3.3,.3 .5,-2.6 -3.3,-.3zM479.3,188.8l3.3,.3 .5,-2.6 -3.3,-.3zM482.6,189.1l3.3,.2 .5,-2.6 -3.3,-.2zM485.9,189.3l3.3,.3 .5,-2.6 -3.3,-.3zM493.1,187.3l3.3,.2 .5,-2.5 -3.3,-.3zM496.4,187.5l3.3,.3 .5,-2.6 -3.3,-.2zM499.7,187.8l3.3,.3 .5,-2.6 -3.3,-.3z"/>
<path fill="#2387d4" stroke="#2387d4" stroke-width="0.4" d="M326.2,198.3l3.3,.2 .5,-2.6 -3.3,-.3zM329.5,198.5l3.3,.3 .5,-2.7 -3.3,-.2zM332.8,198.8l3.3,.2 .5,-2.6 -3.3,-.3zM336.1,199l3.4,.3 .5,-2.7 -3.4,-.2zM346.6,197.1l3.3,.3 .5,-2.7 -3.3,-.2zM349.9,197.4l3.3,.2 .5,-2.6 -3.3,-.3zM353.2,197.6l3.3,.2 .5,-2.6 -3.3,-.2zM363.6,195.7l3.4,.2 .5,-2.6 -3.4,-.2zM367,195.9l3.3,.3 .5,-2.6 -3.3,-.3zM370.3,196.2l3.3,.2 .5,-2.6 -3.3,-.2zM373.6,196.4l3.3,.3 .5,-2.6 -3.3,-.3zM380.7,194.3l3.3,.3 .5,-2.7 -3.3,-.2zM384,194.6l3.3,.2 .5,-2.6 -3.3,-.3zM387.3,194.8l3.4,.3 .5,-2.7 -3.4,-.2zM390.7,195.1l3.3,.2 .5,-2.6 -3.3,-.3zM401.1,193.2l3.3,.3 .5,-2.7 -3.3,-.2zM404.4,193.5l3.3,.2 .5,-2.6 -3.3,-.3zM407.7,193.7l3.3,.3 .5,-2.6 -3.3,-.3zM418.2,191.9l3.3,.2 .5,-2.6 -3.3,-.3zM421.5,192.1l3.3,.3 .5,-2.6 -3.3,-.3zM424.8,192.4l3.3,.2 .5,-2.6 -3.3,-.2zM435.2,190.5l3.3,.3 .5,-2.6 -3.3,-.3zM438.5,190.8l3.4,.3 .5,-2.6 -3.4,-.3zM441.9,191.1l3.3,.2 .5,-2.6 -3.3,-.2zM452.3,189.3l3.3,.2 .5,-2.6 -3.3,-.3zM455.6,189.5l3.3,.3 .5,-2.6 -3.3,-.3zM458.9,189.8l3.3,.2 .5,-2.6 -3.3,-.2zM466.1,187.7l3.3,.3 .5,-2.6 -3.3,-.3zM469.4,188l3.3,.2 .5,-2.6 -3.3,-.2zM472.7,188.2l3.3,.3 .5,-2.6 -3.3,-.3zM483.1,186.5l3.3,.2 .5,-2.6 -3.3,-.2zM486.4,186.7l3.3,.3 .5,-2.6 -3.3,-.3zM489.7,187l3.4,.3 .5,-2.6 -3.4,-.3zM496.9,185l3.3,.2 .5,-2.6 -3.3,-.2zM500.2,185.2l3.3,.3 .5,-2.6 -3.3,-.3z"/>
<path fill="#228cd0" stroke="#228cd0" stroke-width="0.4" d="M333.3,196.1l3.3,.3 .5,-2.7 -3.3,-.2zM336.6,196.4l3.4,.2 .5,-2.6 -3.4,-.3zM340,196.6l3.3,.3 .5,-2.7 -3.3,-.2zM343.3,196.9l3.3,.2 .5,-2.6 -3.3,-.3zM353.7,195l3.3,.2 .5,-2.6 -3.3,-.3zM357,195.2l3.3,.3 .5,-2.7 -3.3,-.2zM360.3,195.5l3.3,.2 .5,-2.6 -3.3,-.3zM370.8,193.6l3.3,.2 .5,-2.6 -3.3,-.3zM374.1,193.8l3.3,.3 .5,-2.7 -3.3,-.2zM377.4,194.1l3.3,.2 .5,-2.6 -3.3,-.3zM387.8,192.2l3.4,.2 .5,-2.6 -3.4,-.3zM391.2,192.4l3.3,.3 .5,-2.6 -3.3,-.3zM394.5,192.7l3.3,.3 .5,-2.7 -3.3,-.2zM397.8,193l3.3,.2 .5,-2.6 -3.3,-.3zM404.9,190.8l3.3,.3 .5,-2.6 -3.3,-.3zM408.2,191.1l3.3,.3 .5,-2.7 -3.3,-.2zM411.5,191.4l3.4,.2 .5,-2.6 -3.4,-.3zM414.9,191.6l3.3,.3 .5,-2.7 -3.3,-.2zM422,189.5l3.3,.3 .5,-2.7 -3.3,-.2zM425.3,189.8l3.3,.2 .5,-2.6 -3.3,-.3zM428.6,190l3.3,.3 .5,-2.6 -3.3,-.3zM431.9,190.3l3.3,.2 .5,-2.6 -3.3,-.2zM439,188.2l3.4,.3 .5,-2.7 -3.4,-.2zM442.4,188.5l3.3,.2 .5,-2.6 -3.3,-.3zM445.7,188.7l3.3,.3 .5,-2.6 -3.3,-.3zM449,189l3.3,.3 .5,-2.7 -3.3,-.2zM456.1,186.9l3.3,.3 .5,-2.6 -3.3,-.3zM459.4,187.2l3.3,.2 .5,-2.6 -3.3,-.2zM462.7,187.4l3.4,.3 .5,-2.6 -3.4,-.3zM473.2,185.6l3.3,.3 .5,-2.6 -3.3,-.3zM476.5,185.9l3.3,.3 .5,-2.6 -3.3,-.3zM479.8,186.2l3.3,.3 .5,-2.6 -3.3,-.3zM486.9,184.1l3.3,.3 .5,-2.6 -3.3,-.3zM490.2,184.4l3.4,.3 .5,-2.6 -3.4,-.3zM493.6,184.7l3.3,.3 .5,-2.6 -3.3,-.3z"/>
<path fill="#2090ce" stroke="#2090ce" stroke-width="0.4" d="M326.7,195.6l3.3,.3 .5,-2.7 -3.3,-.2zM330,195.9l3.3,.2 .5,-2.6 -3.3,-.3zM340.5,194l3.3,.2 .5,-2.6 -3.3,-.3zM343.8,194.2l3.3,.3 .5,-2.7 -3.3,-.2zM347.1,194.5l3.3,.2 .5,-2.6 -3.3,-.3zM350.4,194.7l3.3,.3 .5,-2.7 -3.3,-.2zM357.5,192.6l3.3,.2 .5,-2.6 -3.3,-.3zM360.8,192.8l3.3,.3 .5,-2.7 -3.3,-.2zM364.1,193.1l3.4,.2 .5,-2.6 -3.4,-.3zM367.5,193.3l3.3,.3 .5,-2.7 -3.3,-.2zM377.9,191.4l3.3,.3 .5,-2.7 -3.3,-.2zM381.2,191.7l3.3,.2 .5,-2.6 -3.3,-.3zM384.5,191.9l3.3,.3 .5,-2.7 -3.3,-.2zM395,190.1l3.3,.2 .5,-2.6 -3.3,-.3zM398.3,190.3l3.3,.3 .5,-2.7 -3.3,-.2zM401.6,190.6l3.3,.2 .5,-2.6 -3.3,-.3zM412,188.7l3.4,.3 .5,-2.7 -3.4,-.2zM415.4,189l3.3,.2 .5,-2.6 -3.3,-.3zM418.7,189.2l3.3,.3 .5,-2.6 -3.3,-.3zM429.1,187.4l3.3,.3 .5,-2.7 -3.3,-.2zM432.4,187.7l3.3,.2 .5,-2.6 -3.3,-.3zM435.7,187.9l3.3,.3 .5,-2.6 -3.3,-.3zM446.2,186.1l3.3,.3 .5,-2.7 -3.3,-.2zM449.5,186.4l3.3,.2 .5,-2.6 -3.3,-.3zM452.8,186.6l3.3,.3 .5,-2.6 -3.3,-.3zM463.2,184.8l3.4,.3 .5,-2.6 -3.4,-.3zM466.6,185.1l3.3,.3 .5,-2.6 -3.3,-.3zM469.9,185.4l3.3,.2 .5,-2.6 -3.3,-.2zM477,183.3l3.3,.3 .5,-2.6 -3.3,-.3zM480.3,183.6l3.3,.3 .5,-2.7 -3.3,-.2zM483.6,183.9l3.3,.2 .5,-2.6 -3.3,-.3zM494.1,182.1l3.3,.3 .5,-2.7 -3.3,-.2zM497.4,182.4l3.3,.2 .5,-2.6 -3.3,-.3zM500.7,182.6l3.3,.3 .5,-2.6 -3.3,-.3z"/>
<path fill="#1d94cc" stroke="#1d94cc" stroke-width="0.4" d="M327.2,193l3.3,.2 .5,-2.7 -3.3,-.2zM330.5,193.2l3.3,.3 .5,-2.7 -3.3,-.3zM333.8,193.5l3.3,.2 .5,-2.6 -3.3,-.3zM337.1,193.7l3.4,.3 .5,-2.7 -3.4,-.2zM347.6,191.8l3.3,.3 .5,-2.7 -3.3,-.3zM350.9,192.1l3.3,.2 .5,-2.7 -3.3,-.2zM354.2,192.3l3.3,.3 .5,-2.7 -3.3,-.3zM364.6,190.4l3.4,.3 .5,-2.7 -3.4,-.3zM368,190.7l3.3,.2 .5,-2.6 -3.3,-.3zM371.3,190.9l3.3,.3 .5,-2.7 -3.3,-.2zM374.6,191.2l3.3,.2 .5,-2.6 -3.3,-.3zM385,189.3l3.3,.2 .5,-2.6 -3.3,-.3zM388.3,189.5l3.4,.3 .5,-2.6 -3.4,-.3zM391.7,189.8l3.3,.3 .5,-2.7 -3.3,-.2zM402.1,187.9l3.3,.3 .5,-2.7 -3.3,-.2zM405.4,188.2l3.3,.3 .5,-2.7 -3.3,-.3zM408.7,188.5l3.3,.2 .5,-2.6 -3.3,-.3zM419.2,186.6l3.3,.3 .5,-2.7 -3.3,-.2zM422.5,186.9l3.3,.2 .5,-2.6 -3.3,-.3zM425.8,187.1l3.3,.3 .5,-2.6 -3.3,-.3zM436.2,185.3l3.3,.3 .5,-2.7 -3.3,-.2zM439.5,185.6l3.4,.2 .5,-2.6 -3.4,-.3zM442.9,185.8l3.3,.3 .5,-2.6 -3.3,-.3zM453.3,184l3.3,.3 .5,-2.6 -3.3,-.3zM456.6,184.3l3.3,.3 .5,-2.7 -3.3,-.2zM459.9,184.6l3.3,.2 .5,-2.6 -3.3,-.3zM467.1,182.5l3.3,.3 .5,-2.7 -3.3,-.3zM470.4,182.8l3.3,.2 .5,-2.6 -3.3,-.3zM473.7,183l3.3,.3 .5,-2.6 -3.3,-.3zM484.1,181.2l3.3,.3 .5,-2.6 -3.3,-.3zM487.4,181.5l3.3,.3 .5,-2.6 -3.3,-.3zM490.7,181.8l3.4,.3 .5,-2.6 -3.4,-.3zM497.9,179.7l3.3,.3 .5,-2.6 -3.3,-.3zM501.2,180l3.3,.3 .5,-2.6 -3.3,-.3z"/>
<path fill="#1a98c9" stroke="#1a98c9" stroke-width="0.4" d="M334.3,190.8l3.3,.3 .5,-2.7 -3.3,-.3zM337.6,191.1l3.4,.2 .5,-2.7 -3.4,-.2zM341,191.3l3.3,.3 .5,-2.7 -3.3,-.3zM344.3,191.6l3.3,.2 .5,-2.7 -3.3,-.2zM354.7,189.6l3.3,.3 .5,-2.7 -3.3,-.2zM358,189.9l3.3,.3 .5,-2.7 -3.3,-.3zM361.3,190.2l3.3,.2 .5,-2.7 -3.3,-.2zM371.8,188.3l3.3,.2 .5,-2.7 -3.3,-.2zM375.1,188.5l3.3,.3 .5,-2.7 -3.3,-.3zM378.4,188.8l3.3,.2 .5,-2.6 -3.3,-.3zM381.7,189l3.3,.3 .5,-2.7 -3.3,-.2zM388.8,186.9l3.4,.3 .5,-2.7 -3.4,-.3zM392.2,187.2l3.3,.2 .5,-2.6 -3.3,-.3zM395.5,187.4l3.3,.3 .5,-2.7 -3.3,-.2zM398.8,187.7l3.3,.2 .5,-2.6 -3.3,-.3zM409.2,185.8l3.3,.3 .5,-2.7 -3.3,-.2zM412.5,186.1l3.4,.2 .5,-2.6 -3.4,-.3zM415.9,186.3l3.3,.3 .5,-2.6 -3.3,-.3zM426.3,184.5l3.3,.3 .5,-2.7 -3.3,-.3zM429.6,184.8l3.3,.2 .5,-2.6 -3.3,-.3zM432.9,185l3.3,.3 .5,-2.6 -3.3,-.3zM440,182.9l3.4,.3 .5,-2.7 -3.4,-.2zM443.4,183.2l3.3,.3 .5,-2.7 -3.3,-.3zM446.7,183.5l3.3,.2 .5,-2.6 -3.3,-.3zM450,183.7l3.3,.3 .5,-2.6 -3.3,-.3zM457.1,181.7l3.3,.2 .5,-2.6 -3.3,-.3zM460.4,181.9l3.3,.3 .5,-2.6 -3.3,-.3zM463.7,182.2l3.4,.3 .5,-2.7 -3.4,-.2zM474.2,180.4l3.3,.3 .5,-2.7 -3.3,-.2zM477.5,180.7l3.3,.3 .5,-2.7 -3.3,-.3zM480.8,181l3.3,.2 .5,-2.6 -3.3,-.3zM487.9,178.9l3.3,.3 .5,-2.7 -3.3,-.2zM491.2,179.2l3.4,.3 .5,-2.7 -3.4,-.3zM494.6,179.5l3.3,.2 .5,-2.6 -3.3,-.3z"/>
<path fill="#169cc5" stroke="#169cc5" stroke-width="0.4" d="M327.7,190.3l3.3,.2 .5,-2.6 -3.3,-.3zM331,190.5l3.3,.3 .5,-2.7 -3.3,-.2zM344.8,188.9l3.3,.2 .5,-2.7 -3.3,-.2zM348.1,189.1l3.3,.3 .5,-2.7 -3.3,-.3zM351.4,189.4l3.3,.2 .5,-2.6 -3.3,-.3zM361.8,187.5l3.3,.2 .5,-2.6 -3.3,-.3zM365.1,187.7l3.4,.3 .5,-2.7 -3.4,-.2zM368.5,188l3.3,.3 .5,-2.7 -3.3,-.3zM378.9,186.1l3.3,.3 .5,-2.7 -3.3,-.3zM382.2,186.4l3.3,.2 .5,-2.6 -3.3,-.3zM385.5,186.6l3.3,.3 .5,-2.7 -3.3,-.2zM396,184.8l3.3,.2 .5,-2.7 -3.3,-.2zM399.3,185l3.3,.3 .5,-2.7 -3.3,-.3zM402.6,185.3l3.3,.2 .5,-2.6 -3.3,-.3zM405.9,185.5l3.3,.3 .5,-2.6 -3.3,-.3zM413,183.4l3.4,.3 .5,-2.7 -3.4,-.3zM416.4,183.7l3.3,.3 .5,-2.7 -3.3,-.3zM419.7,184l3.3,.2 .5,-2.6 -3.3,-.3zM423,184.2l3.3,.3 .5,-2.7 -3.3,-.2zM430.1,182.1l3.3,.3 .5,-2.7 -3.3,-.3zM433.4,182.4l3.3,.3 .5,-2.7 -3.3,-.3zM436.7,182.7l3.3,.2 .5,-2.6 -3.3,-.3zM447.2,180.8l3.3,.3 .5,-2.7 -3.3,-.2zM450.5,181.1l3.3,.3 .5,-2.7 -3.3,-.3zM453.8,181.4l3.3,.3 .5,-2.7 -3.3,-.3zM464.2,179.6l3.4,.2 .5,-2.6 -3.4,-.3zM467.6,179.8l3.3,.3 .5,-2.6 -3.3,-.3zM470.9,180.1l3.3,.3 .5,-2.6 -3.3,-.3zM478,178l3.3,.3 .5,-2.6 -3.3,-.3zM481.3,178.3l3.3,.3 .5,-2.6 -3.3,-.3zM484.6,178.6l3.3,.3 .5,-2.6 -3.3,-.3zM495.1,176.8l3.3,.3 .5,-2.6 -3.3,-.3zM498.4,177.1l3.3,.3 .5,-2.6 -3.3,-.3zM501.7,177.4l3.3,.3 .5,-2.6 -3.3,-.3z"/>
<path fill="#109fc1" stroke="#109fc1" stroke-width="0.4" d="M331.5,187.9l3.3,.2 .5,-2.7 -3.3,-.2zM334.8,188.1l3.3,.3 .5,-2.7 -3.3,-.3zM338.1,188.4l3.4,.2 .5,-2.7 -3.4,-.2zM341.5,188.6l3.3,.3 .5,-2.7 -3.3,-.3zM351.9,186.7l3.3,.3 .5,-2.7 -3.3,-.3zM355.2,187l3.3,.2 .5,-2.7 -3.3,-.2zM358.5,187.2l3.3,.3 .5,-2.7 -3.3,-.3zM369,185.3l3.3,.3 .5,-2.7 -3.3,-.3zM372.3,185.6l3.3,.2 .5,-2.6 -3.3,-.3zM375.6,185.8l3.3,.3 .5,-2.7 -3.3,-.2zM386,184l3.3,.2 .5,-2.7 -3.3,-.2zM389.3,184.2l3.4,.3 .5,-2.7 -3.4,-.3zM392.7,184.5l3.3,.3 .5,-2.7 -3.3,-.3zM403.1,182.6l3.3,.3 .5,-2.7 -3.3,-.3zM406.4,182.9l3.3,.3 .5,-2.7 -3.3,-.3zM409.7,183.2l3.3,.2 .5,-2.7 -3.3,-.2zM420.2,181.3l3.3,.3 .5,-2.7 -3.3,-.3zM423.5,181.6l3.3,.2 .5,-2.6 -3.3,-.3zM426.8,181.8l3.3,.3 .5,-2.7 -3.3,-.2zM437.2,180l3.3,.3 .5,-2.7 -3.3,-.3zM440.5,180.3l3.4,.2 .5,-2.6 -3.4,-.3zM443.9,180.5l3.3,.3 .5,-2.6 -3.3,-.3zM454.3,178.7l3.3,.3 .5,-2.7 -3.3,-.2zM457.6,179l3.3,.3 .5,-2.7 -3.3,-.3zM460.9,179.3l3.3,.3 .5,-2.7 -3.3,-.3zM468.1,177.2l3.3,.3 .5,-2.7 -3.3,-.3zM471.4,177.5l3.3,.3 .5,-2.7 -3.3,-.3zM474.7,177.8l3.3,.2 .5,-2.6 -3.3,-.3zM485.1,176l3.3,.3 .5,-2.7 -3.3,-.3zM488.4,176.3l3.3,.2 .5,-2.6 -3.3,-.3zM491.7,176.5l3.4,.3 .5,-2.6 -3.4,-.3zM498.9,174.5l3.3,.3 .5,-2.7 -3.3,-.3zM502.2,174.8l3.3,.3 .5,-2.7 -3.3,-.3z"/>
<path fill="#07a3bb" stroke="#07a3bb" stroke-width="0.4" d="M328.2,187.6l3.3,.3 .5,-2.7 -3.3,-.3zM338.6,185.7l3.4,.2 .5,-2.7 -3.4,-.2zM342,185.9l3.3,.3 .5,-2.7 -3.3,-.3zM345.3,186.2l3.3,.2 .5,-2.7 -3.3,-.2zM348.6,186.4l3.3,.3 .5,-2.7 -3.3,-.3zM359,184.5l3.3,.3 .5,-2.7 -3.3,-.3zM362.3,184.8l3.3,.3 .5,-2.7 -3.3,-.3zM365.6,185.1l3.4,.2 .5,-2.7 -3.4,-.2zM376.1,183.2l3.3,.2 .5,-2.7 -3.3,-.2zM379.4,183.4l3.3,.3 .5,-2.7 -3.3,-.3zM382.7,183.7l3.3,.3 .5,-2.7 -3.3,-.3zM393.2,181.8l3.3,.3 .5,-2.7 -3.3,-.3zM396.5,182.1l3.3,.2 .5,-2.6 -3.3,-.3zM399.8,182.3l3.3,.3 .5,-2.7 -3.3,-.2zM410.2,180.5l3.3,.2 .5,-2.6 -3.3,-.3zM413.5,180.7l3.4,.3 .5,-2.7 -3.4,-.2zM416.9,181l3.3,.3 .5,-2.7 -3.3,-.3zM427.3,179.2l3.3,.2 .5,-2.6 -3.3,-.3zM430.6,179.4l3.3,.3 .5,-2.7 -3.3,-.2zM433.9,179.7l3.3,.3 .5,-2.7 -3.3,-.3zM444.4,177.9l3.3,.3 .5,-2.7 -3.3,-.3zM447.7,178.2l3.3,.2 .5,-2.6 -3.3,-.3zM451,178.4l3.3,.3 .5,-2.6 -3.3,-.3zM458.1,176.3l3.3,.3 .5,-2.6 -3.3,-.3zM461.4,176.6l3.3,.3 .5,-2.7 -3.3,-.2zM464.7,176.9l3.4,.3 .5,-2.7 -3.4,-.3zM475.2,175.1l3.3,.3 .5,-2.7 -3.3,-.3zM478.5,175.4l3.3,.3 .5,-2.7 -3.3,-.3zM481.8,175.7l3.3,.3 .5,-2.7 -3.3,-.3zM488.9,173.6l3.3,.3 .5,-2.7 -3.3,-.3zM492.2,173.9l3.4,.3 .5,-2.7 -3.4,-.3zM495.6,174.2l3.3,.3 .5,-2.7 -3.3,-.3z"/>
<path fill="#01a5b6" stroke="#01a5b6" stroke-width="0.4" d="M328.7,184.9l3.3,.3 .5,-2.8 -3.3,-.2zM332,185.2l3.3,.2 .5,-2.7 -3.3,-.3zM335.3,185.4l3.3,.3 .5,-2.7 -3.3,-.3zM345.8,183.5l3.3,.2 .5,-2.7 -3.3,-.2zM349.1,183.7l3.3,.3 .5,-2.7 -3.3,-.3zM352.4,184l3.3,.3 .5,-2.7 -3.3,-.3zM355.7,184.3l3.3,.2 .5,-2.7 -3.3,-.2zM366.1,182.4l3.4,.2 .5,-2.7 -3.4,-.3zM369.5,182.6l3.3,.3 .5,-2.7 -3.3,-.3zM372.8,182.9l3.3,.3 .5,-2.7 -3.3,-.3zM383.2,181l3.3,.3 .5,-2.7 -3.3,-.3zM386.5,181.3l3.3,.2 .5,-2.7 -3.3,-.2zM389.8,181.5l3.4,.3 .5,-2.7 -3.4,-.3zM400.3,179.7l3.3,.2 .5,-2.7 -3.3,-.2zM403.6,179.9l3.3,.3 .5,-2.7 -3.3,-.3zM406.9,180.2l3.3,.3 .5,-2.7 -3.3,-.3zM417.4,178.3l3.3,.3 .5,-2.7 -3.3,-.3zM420.7,178.6l3.3,.3 .5,-2.7 -3.3,-.3zM424,178.9l3.3,.3 .5,-2.7 -3.3,-.3zM434.4,177l3.3,.3 .5,-2.7 -3.3,-.2zM437.7,177.3l3.3,.3 .5,-2.7 -3.3,-.3zM441,177.6l3.4,.3 .5,-2.7 -3.4,-.3zM448.2,175.5l3.3,.3 .5,-2.7 -3.3,-.3zM451.5,175.8l3.3,.3 .5,-2.7 -3.3,-.3zM454.8,176.1l3.3,.2 .5,-2.6 -3.3,-.3zM465.2,174.2l3.4,.3 .5,-2.6 -3.4,-.3zM468.6,174.5l3.3,.3 .5,-2.7 -3.3,-.2zM471.9,174.8l3.3,.3 .5,-2.7 -3.3,-.3zM482.3,173l3.3,.3 .5,-2.7 -3.3,-.3zM485.6,173.3l3.3,.3 .5,-2.7 -3.3,-.3zM496.1,171.5l3.3,.3 .5,-2.6 -3.3,-.3zM499.4,171.8l3.3,.3 .5,-2.6 -3.3,-.3zM502.7,172.1l3.3,.3 .5,-2.6 -3.3,-.3z"/>
<path fill="#02a8b0" stroke="#02a8b0" stroke-width="0.4" d="M335.8,182.7l3.3,.3 .5,-2.8 -3.3,-.2zM339.1,183l3.4,.2 .5,-2.7 -3.4,-.3zM342.5,183.2l3.3,.3 .5,-2.7 -3.3,-.3zM352.9,181.3l3.3,.3 .5,-2.8 -3.3,-.2zM356.2,181.6l3.3,.2 .5,-2.7 -3.3,-.3zM359.5,181.8l3.3,.3 .5,-2.7 -3.3,-.3zM362.8,182.1l3.3,.3 .5,-2.8 -3.3,-.2zM373.3,180.2l3.3,.3 .5,-2.8 -3.3,-.2zM376.6,180.5l3.3,.2 .5,-2.7 -3.3,-.3zM379.9,180.7l3.3,.3 .5,-2.7 -3.3,-.3zM390.3,178.8l3.4,.3 .5,-2.7 -3.4,-.3zM393.7,179.1l3.3,.3 .5,-2.7 -3.3,-.3zM397,179.4l3.3,.3 .5,-2.7 -3.3,-.3zM407.4,177.5l3.3,.3 .5,-2.7 -3.3,-.3zM410.7,177.8l3.3,.3 .5,-2.7 -3.3,-.3zM414,178.1l3.4,.2 .5,-2.7 -3.4,-.2zM424.5,176.2l3.3,.3 .5,-2.7 -3.3,-.3zM427.8,176.5l3.3,.3 .5,-2.7 -3.3,-.3zM431.1,176.8l3.3,.2 .5,-2.6 -3.3,-.3zM441.5,174.9l3.4,.3 .5,-2.7 -3.4,-.3zM444.9,175.2l3.3,.3 .5,-2.7 -3.3,-.3zM455.3,173.4l3.3,.3 .5,-2.7 -3.3,-.3zM458.6,173.7l3.3,.3 .5,-2.7 -3.3,-.3zM461.9,174l3.3,.2 .5,-2.6 -3.3,-.3zM472.4,172.1l3.3,.3 .5,-2.6 -3.3,-.3zM475.7,172.4l3.3,.3 .5,-2.6 -3.3,-.3zM479,172.7l3.3,.3 .5,-2.7 -3.3,-.2zM486.1,170.6l3.3,.3 .5,-2.6 -3.3,-.3zM489.4,170.9l3.3,.3 .5,-2.6 -3.3,-.3zM492.7,171.2l3.4,.3 .5,-2.6 -3.4,-.3zM503.2,169.5l3.3,.3 .5,-2.7 -3.3,-.3z"/>
<path fill="#0aaaaa" stroke="#0aaaaa" stroke-width="0.4" d="M329.2,182.2l3.3,.2 .5,-2.7 -3.3,-.3zM332.5,182.4l3.3,.3 .5,-2.7 -3.3,-.3zM343,180.5l3.3,.3 .5,-2.8 -3.3,-.2zM346.3,180.8l3.3,.2 .5,-2.7 -3.3,-.3zM349.6,181l3.3,.3 .5,-2.7 -3.3,-.3zM363.3,179.4l3.3,.2 .5,-2.7 -3.3,-.3zM366.6,179.6l3.4,.3 .5,-2.7 -3.4,-.3zM370,179.9l3.3,.3 .5,-2.7 -3.3,-.3zM380.4,178l3.3,.3 .5,-2.7 -3.3,-.3zM383.7,178.3l3.3,.3 .5,-2.8 -3.3,-.2zM387,178.6l3.3,.2 .5,-2.7 -3.3,-.3zM397.5,176.7l3.3,.3 .5,-2.8 -3.3,-.2zM400.8,177l3.3,.2 .5,-2.7 -3.3,-.3zM404.1,177.2l3.3,.3 .5,-2.7 -3.3,-.3zM414.5,175.4l3.4,.2 .5,-2.7 -3.4,-.3zM417.9,175.6l3.3,.3 .5,-2.7 -3.3,-.3zM421.2,175.9l3.3,.3 .5,-2.7 -3.3,-.3zM431.6,174.1l3.3,.3 .5,-2.8 -3.3,-.2zM434.9,174.4l3.3,.2 .5,-2.7 -3.3,-.3zM438.2,174.6l3.3,.3 .5,-2.7 -3.3,-.3zM445.4,172.5l3.3,.3 .5,-2.7 -3.3,-.3zM448.7,172.8l3.3,.3 .5,-2.7 -3.3,-.3zM452,173.1l3.3,.3 .5,-2.7 -3.3,-.3zM462.4,171.3l3.3,.3 .5,-2.7 -3.3,-.3zM465.7,171.6l3.4,.3 .5,-2.7 -3.4,-.3zM469.1,171.9l3.3,.2 .5,-2.6 -3.3,-.3zM476.2,169.8l3.3,.3 .5,-2.7 -3.3,-.3zM479.5,170.1l3.3,.2 .5,-2.6 -3.3,-.3zM482.8,170.3l3.3,.3 .5,-2.6 -3.3,-.3zM493.2,168.6l3.4,.3 .5,-2.7 -3.4,-.3zM496.6,168.9l3.3,.3 .5,-2.7 -3.3,-.3zM499.9,169.2l3.3,.3 .5,-2.7 -3.3,-.3z"/>
<path fill="#16aca3" stroke="#16aca3" stroke-width="0.4" d="M333,179.7l3.3,.3 .5,-2.8 -3.3,-.3zM336.3,180l3.3,.2 .5,-2.7 -3.3,-.3zM339.6,180.2l3.4,.3 .5,-2.7 -3.4,-.3zM350.1,178.3l3.3,.3 .5,-2.8 -3.3,-.3zM353.4,178.6l3.3,.2 .5,-2.7 -3.3,-.3zM356.7,178.8l3.3,.3 .5,-2.7 -3.3,-.3zM360,179.1l3.3,.3 .5,-2.8 -3.3,-.2zM370.5,177.2l3.3,.3 .5,-2.8 -3.3,-.2zM373.8,177.5l3.3,.2 .5,-2.7 -3.3,-.3zM377.1,177.7l3.3,.3 .5,-2.7 -3.3,-.3zM387.5,175.8l3.3,.3 .5,-2.7 -3.3,-.3zM390.8,176.1l3.4,.3 .5,-2.7 -3.4,-.3zM394.2,176.4l3.3,.3 .5,-2.7 -3.3,-.3zM404.6,174.5l3.3,.3 .5,-2.7 -3.3,-.3zM407.9,174.8l3.3,.3 .5,-2.7 -3.3,-.3zM411.2,175.1l3.3,.3 .5,-2.8 -3.3,-.2zM421.7,173.2l3.3,.3 .5,-2.7 -3.3,-.3zM425,173.5l3.3,.3 .5,-2.7 -3.3,-.3zM428.3,173.8l3.3,.3 .5,-2.7 -3.3,-.3zM435.4,171.6l3.3,.3 .5,-2.7 -3.3,-.3zM438.7,171.9l3.3,.3 .5,-2.7 -3.3,-.3zM442,172.2l3.4,.3 .5,-2.7 -3.4,-.3zM452.5,170.4l3.3,.3 .5,-2.7 -3.3,-.3zM455.8,170.7l3.3,.3 .5,-2.7 -3.3,-.3zM459.1,171l3.3,.3 .5,-2.7 -3.3,-.3zM469.6,169.2l3.3,.3 .5,-2.7 -3.3,-.3zM472.9,169.5l3.3,.3 .5,-2.7 -3.3,-.3zM483.3,167.7l3.3,.3 .5,-2.7 -3.3,-.3zM486.6,168l3.3,.3 .5,-2.7 -3.3,-.3zM489.9,168.3l3.3,.3 .5,-2.7 -3.3,-.3zM497.1,166.2l3.3,.3 .5,-2.7 -3.3,-.3zM500.4,166.5l3.3,.3 .5,-2.7 -3.3,-.3zM503.7,166.8l3.3,.3 .5,-2.7 -3.3,-.3z"/>
<path fill="#20ae9d" stroke="#20ae9d" stroke-width="0.4" d="M329.7,179.4l3.3,.3 .5,-2.8 -3.3,-.2zM340.1,177.5l3.4,.3 .5,-2.8 -3.4,-.3zM343.5,177.8l3.3,.2 .5,-2.7 -3.3,-.3zM346.8,178l3.3,.3 .5,-2.8 -3.3,-.2zM360.5,176.4l3.3,.2 .5,-2.7 -3.3,-.3zM363.8,176.6l3.3,.3 .5,-2.7 -3.3,-.3zM367.1,176.9l3.4,.3 .5,-2.7 -3.4,-.3zM377.6,175l3.3,.3 .5,-2.8 -3.3,-.2zM380.9,175.3l3.3,.3 .5,-2.8 -3.3,-.3zM384.2,175.6l3.3,.2 .5,-2.7 -3.3,-.3zM394.7,173.7l3.3,.3 .5,-2.8 -3.3,-.3zM398,174l3.3,.2 .5,-2.7 -3.3,-.3zM401.3,174.2l3.3,.3 .5,-2.7 -3.3,-.3zM411.7,172.4l3.3,.2 .5,-2.7 -3.3,-.3zM415,172.6l3.4,.3 .5,-2.7 -3.4,-.3zM418.4,172.9l3.3,.3 .5,-2.7 -3.3,-.3zM428.8,171.1l3.3,.3 .5,-2.8 -3.3,-.3zM432.1,171.4l3.3,.2 .5,-2.7 -3.3,-.3zM442.5,169.5l3.4,.3 .5,-2.7 -3.4,-.3zM445.9,169.8l3.3,.3 .5,-2.7 -3.3,-.3zM449.2,170.1l3.3,.3 .5,-2.7 -3.3,-.3zM459.6,168.3l3.3,.3 .5,-2.7 -3.3,-.3zM462.9,168.6l3.3,.3 .5,-2.7 -3.3,-.3zM466.2,168.9l3.4,.3 .5,-2.7 -3.4,-.3zM473.4,166.8l3.3,.3 .5,-2.8 -3.3,-.3zM476.7,167.1l3.3,.3 .5,-2.7 -3.3,-.4zM480,167.4l3.3,.3 .5,-2.7 -3.3,-.3zM490.4,165.6l3.3,.3 .5,-2.7 -3.3,-.3zM493.7,165.9l3.4,.3 .5,-2.7 -3.4,-.3zM504.2,164.1l3.3,.3 .5,-2.7 -3.3,-.3z"/>
<path fill="#27b096" stroke="#27b096" stroke-width="0.4" d="M330.2,176.7l3.3,.2 .5,-2.7 -3.3,-.3zM333.5,176.9l3.3,.3 .5,-2.7 -3.3,-.3zM336.8,177.2l3.3,.3 .5,-2.8 -3.3,-.2zM347.3,175.3l3.3,.2 .5,-2.7 -3.3,-.3zM350.6,175.5l3.3,.3 .5,-2.7 -3.3,-.3zM353.9,175.8l3.3,.3 .5,-2.8 -3.3,-.2zM357.2,176.1l3.3,.3 .5,-2.8 -3.3,-.3zM367.6,174.2l3.4,.3 .5,-2.8 -3.4,-.3zM371,174.5l3.3,.2 .5,-2.7 -3.3,-.3zM374.3,174.7l3.3,.3 .5,-2.7 -3.3,-.3zM384.7,172.8l3.3,.3 .5,-2.7 -3.3,-.3zM388,173.1l3.3,.3 .5,-2.8 -3.3,-.2zM391.3,173.4l3.4,.3 .5,-2.8 -3.4,-.3zM401.8,171.5l3.3,.3 .5,-2.8 -3.3,-.2zM405.1,171.8l3.3,.3 .5,-2.8 -3.3,-.3zM408.4,172.1l3.3,.3 .5,-2.8 -3.3,-.3zM418.9,170.2l3.3,.3 .5,-2.7 -3.3,-.3zM422.2,170.5l3.3,.3 .5,-2.8 -3.3,-.2zM425.5,170.8l3.3,.3 .5,-2.8 -3.3,-.3zM432.6,168.6l3.3,.3 .5,-2.7 -3.3,-.3zM435.9,168.9l3.3,.3 .5,-2.7 -3.3,-.3zM439.2,169.2l3.3,.3 .5,-2.7 -3.3,-.3zM449.7,167.4l3.3,.3 .5,-2.7 -3.3,-.3zM453,167.7l3.3,.3 .5,-2.7 -3.3,-.3zM456.3,168l3.3,.3 .5,-2.7 -3.3,-.3zM466.7,166.2l3.4,.3 .5,-2.8 -3.4,-.3zM470.1,166.5l3.3,.3 .5,-2.8 -3.3,-.3zM480.5,164.7l3.3,.3 .5,-2.8 -3.3,-.3zM483.8,165l3.3,.3 .5,-2.8 -3.3,-.3zM487.1,165.3l3.3,.3 .5,-2.7 -3.3,-.4zM494.2,163.2l3.4,.3 .5,-2.7 -3.4,-.3zM497.6,163.5l3.3,.3 .5,-2.7 -3.3,-.3zM500.9,163.8l3.3,.3 .5,-2.7 -3.3,-.3z"/>
<path fill="#2cb28f" stroke="#2cb28f" stroke-width="0.4" d="M337.3,174.5l3.3,.2 .5,-2.7 -3.3,-.3zM340.6,174.7l3.4,.3 .5,-2.8 -3.4,-.2zM344,175l3.3,.3 .5,-2.8 -3.3,-.3zM357.7,173.3l3.3,.3 .5,-2.7 -3.3,-.3zM361,173.6l3.3,.3 .5,-2.8 -3.3,-.2zM364.3,173.9l3.3,.3 .5,-2.8 -3.3,-.3zM374.8,172l3.3,.3 .5,-2.8 -3.3,-.3zM378.1,172.3l3.3,.2 .5,-2.7 -3.3,-.3zM381.4,172.5l3.3,.3 .5,-2.7 -3.3,-.3zM391.8,170.6l3.4,.3 .5,-2.7 -3.4,-.3zM395.2,170.9l3.3,.3 .5,-2.7 -3.3,-.3zM398.5,171.2l3.3,.3 .5,-2.7 -3.3,-.3zM408.9,169.3l3.3,.3 .5,-2.7 -3.3,-.3zM412.2,169.6l3.3,.3 .5,-2.7 -3.3,-.3zM415.5,169.9l3.4,.3 .5,-2.7 -3.4,-.3zM426,168l3.3,.3 .5,-2.7 -3.3,-.3zM429.3,168.3l3.3,.3 .5,-2.7 -3.3,-.3zM439.7,166.5l3.3,.3 .5,-2.8 -3.3,-.3zM443,166.8l3.4,.3 .5,-2.7 -3.4,-.4zM446.4,167.1l3.3,.3 .5,-2.7 -3.3,-.3zM456.8,165.3l3.3,.3 .5,-2.8 -3.3,-.3zM460.1,165.6l3.3,.3 .5,-2.8 -3.3,-.3zM463.4,165.9l3.3,.3 .5,-2.8 -3.3,-.3zM470.6,163.7l3.3,.3 .5,-2.7 -3.3,-.3zM473.9,164l3.3,.3 .5,-2.7 -3.3,-.3zM477.2,164.3l3.3,.4 .5,-2.8 -3.3,-.3zM487.6,162.5l3.3,.4 .5,-2.8 -3.3,-.3zM490.9,162.9l3.3,.3 .5,-2.7 -3.3,-.4zM501.4,161.1l3.3,.3 .5,-2.7 -3.3,-.3zM504.7,161.4l3.3,.3 .5,-2.7 -3.3,-.3z"/>
<path fill="#32b488" stroke="#32b488" stroke-width="0.4" d="M330.7,173.9l3.3,.3 .5,-2.8 -3.3,-.3zM334,174.2l3.3,.3 .5,-2.8 -3.3,-.3zM347.8,172.5l3.3,.3 .5,-2.8 -3.3,-.3zM351.1,172.8l3.3,.3 .5,-2.8 -3.3,-.3zM354.4,173.1l3.3,.2 .5,-2.7 -3.3,-.3zM364.8,171.1l3.3,.3 .5,-2.8 -3.3,-.2zM368.1,171.4l3.4,.3 .5,-2.8 -3.4,-.3zM371.5,171.7l3.3,.3 .5,-2.8 -3.3,-.3zM381.9,169.8l3.3,.3 .5,-2.8 -3.3,-.3zM385.2,170.1l3.3,.3 .5,-2.8 -3.3,-.3zM388.5,170.4l3.3,.2 .5,-2.7 -3.3,-.3zM399,168.5l3.3,.3 .5,-2.8 -3.3,-.3zM402.3,168.8l3.3,.2 .5,-2.7 -3.3,-.3zM405.6,169l3.3,.3 .5,-2.7 -3.3,-.3zM416,167.2l3.4,.3 .5,-2.8 -3.4,-.3zM419.4,167.5l3.3,.3 .5,-2.8 -3.3,-.3zM422.7,167.8l3.3,.2 .5,-2.7 -3.3,-.3zM433.1,165.9l3.3,.3 .5,-2.8 -3.3,-.3zM436.4,166.2l3.3,.3 .5,-2.8 -3.3,-.3zM446.9,164.4l3.3,.3 .5,-2.8 -3.3,-.3zM450.2,164.7l3.3,.3 .5,-2.8 -3.3,-.3zM453.5,165l3.3,.3 .5,-2.8 -3.3,-.3zM463.9,163.1l3.3,.3 .5,-2.7 -3.3,-.3zM467.2,163.4l3.4,.3 .5,-2.7 -3.4,-.3zM477.7,161.6l3.3,.3 .5,-2.7 -3.3,-.3zM481,161.9l3.3,.3 .5,-2.7 -3.3,-.3zM484.3,162.2l3.3,.3 .5,-2.7 -3.3,-.3zM494.7,160.5l3.4,.3 .5,-2.8 -3.4,-.3zM498.1,160.8l3.3,.3 .5,-2.7 -3.3,-.4z"/>
<path fill="#39b680" stroke="#39b680" stroke-width="0.4" d="M337.8,171.7l3.3,.3 .5,-2.8 -3.3,-.3zM341.1,172l3.4,.2 .5,-2.8 -3.4,-.2zM344.5,172.2l3.3,.3 .5,-2.8 -3.3,-.3zM354.9,170.3l3.3,.3 .5,-2.8 -3.3,-.3zM358.2,170.6l3.3,.3 .5,-2.8 -3.3,-.3zM361.5,170.9l3.3,.2 .5,-2.7 -3.3,-.3zM372,168.9l3.3,.3 .5,-2.8 -3.3,-.3zM375.3,169.2l3.3,.3 .5,-2.8 -3.3,-.3zM378.6,169.5l3.3,.3 .5,-2.8 -3.3,-.3zM389,167.6l3.3,.3 .5,-2.8 -3.3,-.3zM392.3,167.9l3.4,.3 .5,-2.8 -3.4,-.3zM395.7,168.2l3.3,.3 .5,-2.8 -3.3,-.3zM406.1,166.3l3.3,.3 .5,-2.8 -3.3,-.3zM409.4,166.6l3.3,.3 .5,-2.8 -3.3,-.3zM412.7,166.9l3.3,.3 .5,-2.8 -3.3,-.3zM423.2,165l3.3,.3 .5,-2.8 -3.3,-.3zM426.5,165.3l3.3,.3 .5,-2.8 -3.3,-.3zM429.8,165.6l3.3,.3 .5,-2.8 -3.3,-.3zM436.9,163.4l3.3,.3 .5,-2.7 -3.3,-.3zM440.2,163.7l3.3,.3 .5,-2.7 -3.3,-.3zM443.5,164l3.4,.4 .5,-2.8 -3.4,-.3zM454,162.2l3.3,.3 .5,-2.7 -3.3,-.3zM457.3,162.5l3.3,.3 .5,-2.7 -3.3,-.3zM460.6,162.8l3.3,.3 .5,-2.7 -3.3,-.3zM471.1,161l3.3,.3 .5,-2.7 -3.3,-.3zM474.4,161.3l3.3,.3 .5,-2.7 -3.3,-.3zM484.8,159.5l3.3,.3 .5,-2.7 -3.3,-.3zM488.1,159.8l3.3,.3 .5,-2.7 -3.3,-.3zM491.4,160.1l3.3,.4 .5,-2.8 -3.3,-.3zM498.6,158l3.3,.4 .5,-2.8 -3.3,-.3zM501.9,158.4l3.3,.3 .5,-2.8 -3.3,-.3zM505.2,158.7l3.3,.3 .5,-2.7 -3.3,-.4z"/>
<path fill="#43b777" stroke="#43b777" stroke-width="0.4" d="M331.2,171.1l3.3,.3 .5,-2.8 -3.3,-.3zM334.5,171.4l3.3,.3 .5,-2.8 -3.3,-.3zM345,169.4l3.3,.3 .5,-2.8 -3.3,-.3zM348.3,169.7l3.3,.3 .5,-2.8 -3.3,-.3zM351.6,170l3.3,.3 .5,-2.8 -3.3,-.3zM362,168.1l3.3,.3 .5,-2.8 -3.3,-.3zM365.3,168.4l3.3,.2 .5,-2.7 -3.3,-.3zM368.6,168.6l3.4,.3 .5,-2.8 -3.4,-.2zM379.1,166.7l3.3,.3 .5,-2.8 -3.3,-.3zM382.4,167l3.3,.3 .5,-2.8 -3.3,-.3zM385.7,167.3l3.3,.3 .5,-2.8 -3.3,-.3zM396.2,165.4l3.3,.3 .5,-2.8 -3.3,-.3zM399.5,165.7l3.3,.3 .5,-2.8 -3.3,-.3zM402.8,166l3.3,.3 .5,-2.8 -3.3,-.3zM413.2,164.1l3.3,.3 .5,-2.8 -3.3,-.3zM416.5,164.4l3.4,.3 .5,-2.8 -3.4,-.3zM419.9,164.7l3.3,.3 .5,-2.8 -3.3,-.3zM430.3,162.8l3.3,.3 .5,-2.7 -3.3,-.3zM433.6,163.1l3.3,.3 .5,-2.7 -3.3,-.3zM444,161.3l3.4,.3 .5,-2.8 -3.4,-.3zM447.4,161.6l3.3,.3 .5,-2.8 -3.3,-.3zM450.7,161.9l3.3,.3 .5,-2.7 -3.3,-.4zM461.1,160.1l3.3,.3 .5,-2.8 -3.3,-.3zM464.4,160.4l3.3,.3 .5,-2.8 -3.3,-.3zM467.7,160.7l3.4,.3 .5,-2.7 -3.4,-.4zM474.9,158.6l3.3,.3 .5,-2.8 -3.3,-.3zM478.2,158.9l3.3,.3 .5,-2.8 -3.3,-.3zM481.5,159.2l3.3,.3 .5,-2.7 -3.3,-.4zM491.9,157.4l3.3,.3 .5,-2.7 -3.3,-.3zM495.2,157.7l3.4,.3 .5,-2.7 -3.4,-.3zM505.7,155.9l3.3,.4 .5,-2.8 -3.3,-.3z"/>
<path fill="#4eb86e" stroke="#4eb86e" stroke-width="0.4" d="M335,168.6l3.3,.3 .5,-2.8 -3.3,-.3zM338.3,168.9l3.3,.3 .5,-2.8 -3.3,-.3zM341.6,169.2l3.4,.2 .5,-2.8 -3.4,-.2zM352.1,167.2l3.3,.3 .5,-2.8 -3.3,-.3zM355.4,167.5l3.3,.3 .5,-2.8 -3.3,-.3zM358.7,167.8l3.3,.3 .5,-2.8 -3.3,-.3zM369.1,165.9l3.4,.2 .5,-2.7 -3.4,-.3zM372.5,166.1l3.3,.3 .5,-2.8 -3.3,-.2zM375.8,166.4l3.3,.3 .5,-2.8 -3.3,-.3zM386.2,164.5l3.3,.3 .5,-2.8 -3.3,-.3zM389.5,164.8l3.3,.3 .5,-2.8 -3.3,-.3zM392.8,165.1l3.4,.3 .5,-2.8 -3.4,-.3zM403.3,163.2l3.3,.3 .5,-2.8 -3.3,-.3zM406.6,163.5l3.3,.3 .5,-2.8 -3.3,-.3zM409.9,163.8l3.3,.3 .5,-2.8 -3.3,-.3zM420.4,161.9l3.3,.3 .5,-2.7 -3.3,-.3zM423.7,162.2l3.3,.3 .5,-2.7 -3.3,-.3zM427,162.5l3.3,.3 .5,-2.7 -3.3,-.3zM437.4,160.7l3.3,.3 .5,-2.8 -3.3,-.3zM440.7,161l3.3,.3 .5,-2.8 -3.3,-.3zM451.2,159.1l3.3,.4 .5,-2.8 -3.3,-.3zM454.5,159.5l3.3,.3 .5,-2.8 -3.3,-.3zM457.8,159.8l3.3,.3 .5,-2.8 -3.3,-.3zM468.2,157.9l3.4,.4 .5,-2.8 -3.4,-.3zM471.6,158.3l3.3,.3 .5,-2.8 -3.3,-.3zM482,156.4l3.3,.4 .5,-2.8 -3.3,-.3zM485.3,156.8l3.3,.3 .5,-2.8 -3.3,-.3zM488.6,157.1l3.3,.3 .5,-2.7 -3.3,-.4zM495.7,155l3.4,.3 .5,-2.8 -3.4,-.3zM499.1,155.3l3.3,.3 .5,-2.7 -3.3,-.4zM502.4,155.6l3.3,.3 .5,-2.7 -3.3,-.3z"/>
<path fill="#5ab864" stroke="#5ab864" stroke-width="0.4" d="M331.7,168.3l3.3,.3 .5,-2.8 -3.3,-.3zM342.1,166.4l3.4,.2 .5,-2.8 -3.4,-.3zM345.5,166.6l3.3,.3 .5,-2.8 -3.3,-.3zM348.8,166.9l3.3,.3 .5,-2.8 -3.3,-.3zM359.2,165l3.3,.3 .5,-2.8 -3.3,-.3zM362.5,165.3l3.3,.3 .5,-2.8 -3.3,-.3zM365.8,165.6l3.3,.3 .5,-2.8 -3.3,-.3zM379.6,163.9l3.3,.3 .5,-2.8 -3.3,-.3zM382.9,164.2l3.3,.3 .5,-2.8 -3.3,-.3zM393.3,162.3l3.4,.3 .5,-2.8 -3.4,-.3zM396.7,162.6l3.3,.3 .5,-2.8 -3.3,-.3zM400,162.9l3.3,.3 .5,-2.8 -3.3,-.3zM410.4,161l3.3,.3 .5,-2.8 -3.3,-.3zM413.7,161.3l3.3,.3 .5,-2.8 -3.3,-.3zM417,161.6l3.4,.3 .5,-2.7 -3.4,-.4zM427.5,159.8l3.3,.3 .5,-2.8 -3.3,-.3zM430.8,160.1l3.3,.3 .5,-2.8 -3.3,-.3zM434.1,160.4l3.3,.3 .5,-2.8 -3.3,-.3zM444.5,158.5l3.4,.3 .5,-2.7 -3.4,-.4zM447.9,158.8l3.3,.3 .5,-2.7 -3.3,-.3zM458.3,157l3.3,.3 .5,-2.8 -3.3,-.3zM461.6,157.3l3.3,.3 .5,-2.7 -3.3,-.4zM464.9,157.6l3.3,.3 .5,-2.7 -3.3,-.3zM475.4,155.8l3.3,.3 .5,-2.7 -3.3,-.4zM478.7,156.1l3.3,.3 .5,-2.7 -3.3,-.3zM489.1,154.3l3.3,.4 .5,-2.8 -3.3,-.3zM492.4,154.7l3.3,.3 .5,-2.8 -3.3,-.3zM502.9,152.9l3.3,.3 .5,-2.8 -3.3,-.3zM506.2,153.2l3.3,.3 .5,-2.7 -3.3,-.4z"/>
<path fill="#66b85a" stroke="#66b85a" stroke-width="0.4" d="M332.2,165.5l3.3,.3 .5,-2.8 -3.3,-.3zM335.5,165.8l3.3,.3 .5,-2.9 -3.3,-.2zM338.8,166.1l3.3,.3 .5,-2.9 -3.3,-.3zM352.6,164.4l3.3,.3 .5,-2.8 -3.3,-.3zM355.9,164.7l3.3,.3 .5,-2.8 -3.3,-.3zM369.6,163.1l3.4,.3 .5,-2.9 -3.4,-.3zM373,163.4l3.3,.2 .5,-2.8 -3.3,-.3zM376.3,163.6l3.3,.3 .5,-2.8 -3.3,-.3zM386.7,161.7l3.3,.3 .5,-2.8 -3.3,-.3zM390,162l3.3,.3 .5,-2.8 -3.3,-.3zM403.8,160.4l3.3,.3 .5,-2.8 -3.3,-.3zM407.1,160.7l3.3,.3 .5,-2.8 -3.3,-.3zM417.5,158.8l3.4,.4 .5,-2.8 -3.4,-.4zM420.9,159.2l3.3,.3 .5,-2.8 -3.3,-.3zM424.2,159.5l3.3,.3 .5,-2.8 -3.3,-.3zM434.6,157.6l3.3,.3 .5,-2.8 -3.3,-.3zM437.9,157.9l3.3,.3 .5,-2.8 -3.3,-.3zM441.2,158.2l3.3,.3 .5,-2.8 -3.3,-.3zM451.7,156.4l3.3,.3 .5,-2.8 -3.3,-.3zM455,156.7l3.3,.3 .5,-2.8 -3.3,-.3zM465.4,154.9l3.3,.3 .5,-2.8 -3.3,-.3zM468.7,155.2l3.4,.3 .5,-2.8 -3.4,-.3zM472.1,155.5l3.3,.3 .5,-2.8 -3.3,-.3zM482.5,153.7l3.3,.3 .5,-2.8 -3.3,-.3zM485.8,154l3.3,.3 .5,-2.7 -3.3,-.4zM496.2,152.2l3.4,.3 .5,-2.7 -3.4,-.4zM499.6,152.5l3.3,.4 .5,-2.8 -3.3,-.3z"/>
<path fill="#74b750" stroke="#74b750" stroke-width="0.4" d="M342.6,163.5l3.4,.3 .5,-2.8 -3.4,-.3zM346,163.8l3.3,.3 .5,-2.8 -3.3,-.3zM349.3,164.1l3.3,.3 .5,-2.8 -3.3,-.3zM359.7,162.2l3.3,.3 .5,-2.9 -3.3,-.3zM363,162.5l3.3,.3 .5,-2.9 -3.3,-.3zM366.3,162.8l3.3,.3 .5,-2.9 -3.3,-.3zM376.8,160.8l3.3,.3 .5,-2.8 -3.3,-.3zM380.1,161.1l3.3,.3 .5,-2.8 -3.3,-.3zM383.4,161.4l3.3,.3 .5,-2.8 -3.3,-.3zM393.8,159.5l3.4,.3 .5,-2.8 -3.4,-.3zM397.2,159.8l3.3,.3 .5,-2.8 -3.3,-.3zM400.5,160.1l3.3,.3 .5,-2.8 -3.3,-.3zM410.9,158.2l3.3,.3 .5,-2.8 -3.3,-.3zM414.2,158.5l3.3,.3 .5,-2.8 -3.3,-.3zM424.7,156.7l3.3,.3 .5,-2.8 -3.3,-.3zM428,157l3.3,.3 .5,-2.8 -3.3,-.3zM431.3,157.3l3.3,.3 .5,-2.8 -3.3,-.3zM441.7,155.4l3.3,.3 .5,-2.8 -3.3,-.3zM445,155.7l3.4,.4 .5,-2.8 -3.4,-.4zM448.4,156.1l3.3,.3 .5,-2.8 -3.3,-.3zM458.8,154.2l3.3,.3 .5,-2.8 -3.3,-.3zM462.1,154.5l3.3,.4 .5,-2.8 -3.3,-.4zM472.6,152.7l3.3,.3 .5,-2.7 -3.3,-.4zM475.9,153l3.3,.4 .5,-2.8 -3.3,-.3zM479.2,153.4l3.3,.3 .5,-2.8 -3.3,-.3zM486.3,151.2l3.3,.4 .5,-2.8 -3.3,-.4zM489.6,151.6l3.3,.3 .5,-2.8 -3.3,-.3zM492.9,151.9l3.3,.3 .5,-2.8 -3.3,-.3zM503.4,150.1l3.3,.3 .5,-2.7 -3.3,-.4zM506.7,150.4l3.3,.4 .5,-2.8 -3.3,-.3z"/>
<path fill="#81b646" stroke="#81b646" stroke-width="0.4" d="M332.7,162.7l3.3,.3 .5,-2.9 -3.3,-.3zM336,163l3.3,.2 .5,-2.8 -3.3,-.3zM339.3,163.2l3.3,.3 .5,-2.8 -3.3,-.3zM349.8,161.3l3.3,.3 .5,-2.9 -3.3,-.3zM353.1,161.6l3.3,.3 .5,-2.9 -3.3,-.3zM356.4,161.9l3.3,.3 .5,-2.9 -3.3,-.3zM366.8,159.9l3.3,.3 .5,-2.8 -3.3,-.3zM370.1,160.2l3.4,.3 .5,-2.8 -3.4,-.3zM373.5,160.5l3.3,.3 .5,-2.8 -3.3,-.3zM383.9,158.6l3.3,.3 .5,-2.8 -3.3,-.3zM387.2,158.9l3.3,.3 .5,-2.8 -3.3,-.3zM390.5,159.2l3.3,.3 .5,-2.8 -3.3,-.3zM401,157.3l3.3,.3 .5,-2.8 -3.3,-.3zM404.3,157.6l3.3,.3 .5,-2.8 -3.3,-.3zM407.6,157.9l3.3,.3 .5,-2.8 -3.3,-.3zM418,156l3.4,.4 .5,-2.9 -3.4,-.3zM421.4,156.4l3.3,.3 .5,-2.8 -3.3,-.4zM435.1,154.8l3.3,.3 .5,-2.8 -3.3,-.3zM438.4,155.1l3.3,.3 .5,-2.8 -3.3,-.3zM448.9,153.3l3.3,.3 .5,-2.8 -3.3,-.3zM452.2,153.6l3.3,.3 .5,-2.8 -3.3,-.3zM455.5,153.9l3.3,.3 .5,-2.8 -3.3,-.3zM465.9,152.1l3.3,.3 .5,-2.8 -3.3,-.3zM469.2,152.4l3.4,.3 .5,-2.8 -3.4,-.3zM479.7,150.6l3.3,.3 .5,-2.8 -3.3,-.3zM483,150.9l3.3,.3 .5,-2.8 -3.3,-.3zM493.4,149.1l3.3,.3 .5,-2.7 -3.3,-.4zM496.7,149.4l3.4,.4 .5,-2.8 -3.4,-.3zM500.1,149.8l3.3,.3 .5,-2.8 -3.3,-.3z"/>
<path fill="#8eb53c" stroke="#8eb53c" stroke-width="0.4" d="M339.8,160.4l3.3,.3 .5,-2.9 -3.3,-.3zM343.1,160.7l3.4,.3 .5,-2.9 -3.4,-.3zM346.5,161l3.3,.3 .5,-2.9 -3.3,-.3zM356.9,159l3.3,.3 .5,-2.8 -3.3,-.3zM360.2,159.3l3.3,.3 .5,-2.8 -3.3,-.3zM363.5,159.6l3.3,.3 .5,-2.8 -3.3,-.3zM374,157.7l3.3,.3 .5,-2.8 -3.3,-.3zM377.3,158l3.3,.3 .5,-2.8 -3.3,-.3zM380.6,158.3l3.3,.3 .5,-2.8 -3.3,-.3zM391,156.4l3.3,.3 .5,-2.8 -3.3,-.3zM394.3,156.7l3.4,.3 .5,-2.8 -3.4,-.3zM397.7,157l3.3,.3 .5,-2.8 -3.3,-.3zM408.1,155.1l3.3,.3 .5,-2.8 -3.3,-.3zM411.4,155.4l3.3,.3 .5,-2.8 -3.3,-.3zM414.7,155.7l3.3,.3 .5,-2.8 -3.3,-.3zM425.2,153.9l3.3,.3 .5,-2.9 -3.3,-.3zM428.5,154.2l3.3,.3 .5,-2.8 -3.3,-.4zM431.8,154.5l3.3,.3 .5,-2.8 -3.3,-.3zM442.2,152.6l3.3,.3 .5,-2.8 -3.3,-.3zM445.5,152.9l3.4,.4 .5,-2.8 -3.4,-.4zM456,151.1l3.3,.3 .5,-2.8 -3.3,-.3zM459.3,151.4l3.3,.3 .5,-2.8 -3.3,-.3zM462.6,151.7l3.3,.4 .5,-2.8 -3.3,-.4zM469.7,149.6l3.4,.3 .5,-2.8 -3.4,-.3zM473.1,149.9l3.3,.4 .5,-2.9 -3.3,-.3zM476.4,150.3l3.3,.3 .5,-2.8 -3.3,-.4zM486.8,148.4l3.3,.4 .5,-2.8 -3.3,-.4zM490.1,148.8l3.3,.3 .5,-2.8 -3.3,-.3z"/>
<path fill="#9ab333" stroke="#9ab333" stroke-width="0.4" d="M333.2,159.8l3.3,.3 .5,-2.9 -3.3,-.3zM336.5,160.1l3.3,.3 .5,-2.9 -3.3,-.3zM350.3,158.4l3.3,.3 .5,-2.8 -3.3,-.3zM353.6,158.7l3.3,.3 .5,-2.8 -3.3,-.3zM367.3,157.1l3.3,.3 .5,-2.8 -3.3,-.4zM370.6,157.4l3.4,.3 .5,-2.8 -3.4,-.3zM384.4,155.8l3.3,.3 .5,-2.9 -3.3,-.3zM387.7,156.1l3.3,.3 .5,-2.8 -3.3,-.4zM401.5,154.5l3.3,.3 .5,-2.8 -3.3,-.4zM404.8,154.8l3.3,.3 .5,-2.8 -3.3,-.3zM415.2,152.9l3.3,.3 .5,-2.8 -3.3,-.3zM418.5,153.2l3.4,.3 .5,-2.8 -3.4,-.3zM421.9,153.5l3.3,.4 .5,-2.9 -3.3,-.3zM432.3,151.7l3.3,.3 .5,-2.8 -3.3,-.4zM435.6,152l3.3,.3 .5,-2.8 -3.3,-.3zM438.9,152.3l3.3,.3 .5,-2.8 -3.3,-.3zM449.4,150.5l3.3,.3 .5,-2.8 -3.3,-.4zM452.7,150.8l3.3,.3 .5,-2.8 -3.3,-.3zM463.1,148.9l3.3,.4 .5,-2.8 -3.3,-.4zM466.4,149.3l3.3,.3 .5,-2.8 -3.3,-.3zM476.9,147.4l3.3,.4 .5,-2.8 -3.3,-.4zM480.2,147.8l3.3,.3 .5,-2.8 -3.3,-.3zM483.5,148.1l3.3,.3 .5,-2.8 -3.3,-.3z"/>
<path fill="#a6b12c" stroke="#a6b12c" stroke-width="0.4" d="M340.3,157.5l3.3,.3 .5,-2.8 -3.3,-.3zM343.6,157.8l3.4,.3 .5,-2.8 -3.4,-.3zM347,158.1l3.3,.3 .5,-2.8 -3.3,-.3zM357.4,156.2l3.3,.3 .5,-2.9 -3.3,-.3zM360.7,156.5l3.3,.3 .5,-2.9 -3.3,-.3zM364,156.8l3.3,.3 .5,-2.9 -3.3,-.3zM374.5,154.9l3.3,.3 .5,-2.9 -3.3,-.3zM377.8,155.2l3.3,.3 .5,-2.9 -3.3,-.3zM381.1,155.5l3.3,.3 .5,-2.9 -3.3,-.3zM391.5,153.6l3.3,.3 .5,-2.9 -3.3,-.3zM394.8,153.9l3.4,.3 .5,-2.9 -3.4,-.3zM398.2,154.2l3.3,.3 .5,-2.9 -3.3,-.3zM408.6,152.3l3.3,.3 .5,-2.9 -3.3,-.3zM411.9,152.6l3.3,.3 .5,-2.8 -3.3,-.4zM425.7,151l3.3,.3 .5,-2.8 -3.3,-.3zM429,151.3l3.3,.4 .5,-2.9 -3.3,-.3zM439.4,149.5l3.3,.3 .5,-2.8 -3.3,-.4zM442.7,149.8l3.3,.3 .5,-2.8 -3.3,-.3zM446,150.1l3.4,.4 .5,-2.9 -3.4,-.3zM456.5,148.3l3.3,.3 .5,-2.8 -3.3,-.3zM459.8,148.6l3.3,.3 .5,-2.8 -3.3,-.3zM470.2,146.8l3.4,.3 .5,-2.8 -3.4,-.3zM473.6,147.1l3.3,.3 .5,-2.8 -3.3,-.3z"/>
<path fill="#b2ae26" stroke="#b2ae26" stroke-width="0.4" d="M333.7,156.9l3.3,.3 .5,-2.8 -3.3,-.3zM337,157.2l3.3,.3 .5,-2.8 -3.3,-.3zM347.5,155.3l3.3,.3 .5,-2.9 -3.3,-.3zM350.8,155.6l3.3,.3 .5,-2.9 -3.3,-.3zM354.1,155.9l3.3,.3 .5,-2.9 -3.3,-.3zM364.5,153.9l3.3,.3 .5,-2.8 -3.3,-.3zM367.8,154.2l3.3,.4 .5,-2.9 -3.3,-.3zM371.1,154.6l3.4,.3 .5,-2.9 -3.4,-.3zM381.6,152.6l3.3,.3 .5,-2.8 -3.3,-.3zM384.9,152.9l3.3,.3 .5,-2.8 -3.3,-.3zM388.2,153.2l3.3,.4 .5,-2.9 -3.3,-.3zM398.7,151.3l3.3,.3 .5,-2.8 -3.3,-.3zM402,151.6l3.3,.4 .5,-2.9 -3.3,-.3zM405.3,152l3.3,.3 .5,-2.9 -3.3,-.3zM415.7,150.1l3.3,.3 .5,-2.9 -3.3,-.3zM419,150.4l3.4,.3 .5,-2.8 -3.4,-.4zM422.4,150.7l3.3,.3 .5,-2.8 -3.3,-.3zM432.8,148.8l3.3,.4 .5,-2.9 -3.3,-.3zM436.1,149.2l3.3,.3 .5,-2.9 -3.3,-.3zM446.5,147.3l3.4,.3 .5,-2.8 -3.4,-.3zM449.9,147.6l3.3,.4 .5,-2.9 -3.3,-.3zM453.2,148l3.3,.3 .5,-2.8 -3.3,-.4zM463.6,146.1l3.3,.4 .5,-2.9 -3.3,-.3zM466.9,146.5l3.3,.3 .5,-2.8 -3.3,-.4z"/>
<path fill="#bcac23" stroke="#bcac23" stroke-width="0.4" d="M340.8,154.7l3.3,.3 .5,-2.9 -3.3,-.3zM344.1,155l3.4,.3 .5,-2.9 -3.4,-.3zM357.9,153.3l3.3,.3 .5,-2.9 -3.3,-.3zM361.2,153.6l3.3,.3 .5,-2.8 -3.3,-.4zM375,152l3.3,.3 .5,-2.9 -3.3,-.3zM378.3,152.3l3.3,.3 .5,-2.8 -3.3,-.4zM392,150.7l3.3,.3 .5,-2.9 -3.3,-.3zM395.3,151l3.4,.3 .5,-2.8 -3.4,-.4zM405.8,149.1l3.3,.3 .5,-2.8 -3.3,-.4zM409.1,149.4l3.3,.3 .5,-2.8 -3.3,-.3zM412.4,149.7l3.3,.4 .5,-2.9 -3.3,-.3zM422.9,147.9l3.3,.3 .5,-2.9 -3.3,-.3zM426.2,148.2l3.3,.3 .5,-2.8 -3.3,-.4zM429.5,148.5l3.3,.3 .5,-2.8 -3.3,-.3zM439.9,146.6l3.3,.4 .5,-2.9 -3.3,-.3zM443.2,147l3.3,.3 .5,-2.8 -3.3,-.4zM453.7,145.1l3.3,.4 .5,-2.9 -3.3,-.3zM457,145.5l3.3,.3 .5,-2.9 -3.3,-.3zM460.3,145.8l3.3,.3 .5,-2.8 -3.3,-.4z"/>
<path fill="#c6aa25" stroke="#c6aa25" stroke-width="0.4" d="M334.2,154.1l3.3,.3 .5,-2.9 -3.3,-.3zM337.5,154.4l3.3,.3 .5,-2.9 -3.3,-.3zM348,152.4l3.3,.3 .5,-2.9 -3.3,-.3zM351.3,152.7l3.3,.3 .5,-2.9 -3.3,-.3zM354.6,153l3.3,.3 .5,-2.9 -3.3,-.3zM365,151.1l3.3,.3 .5,-2.9 -3.3,-.3zM368.3,151.4l3.3,.3 .5,-2.9 -3.3,-.3zM371.6,151.7l3.4,.3 .5,-2.9 -3.4,-.3zM382.1,149.8l3.3,.3 .5,-2.9 -3.3,-.3zM385.4,150.1l3.3,.3 .5,-2.9 -3.3,-.3zM388.7,150.4l3.3,.3 .5,-2.9 -3.3,-.3zM399.2,148.5l3.3,.3 .5,-2.9 -3.3,-.3zM402.5,148.8l3.3,.3 .5,-2.9 -3.3,-.3zM416.2,147.2l3.3,.3 .5,-2.8 -3.3,-.4zM419.5,147.5l3.4,.4 .5,-2.9 -3.4,-.3zM430,145.7l3.3,.3 .5,-2.9 -3.3,-.3zM433.3,146l3.3,.3 .5,-2.8 -3.3,-.4zM436.6,146.3l3.3,.3 .5,-2.8 -3.3,-.3zM447,144.5l3.4,.3 .5,-2.9 -3.4,-.3zM450.4,144.8l3.3,.3 .5,-2.8 -3.3,-.4z"/>
<path fill="#cfa829" stroke="#cfa829" stroke-width="0.4" d="M341.3,151.8l3.3,.3 .5,-2.9 -3.3,-.3zM344.6,152.1l3.4,.3 .5,-2.9 -3.4,-.3zM358.4,150.4l3.3,.3 .5,-2.8 -3.3,-.4zM361.7,150.7l3.3,.4 .5,-2.9 -3.3,-.3zM375.5,149.1l3.3,.3 .5,-2.9 -3.3,-.3zM378.8,149.4l3.3,.4 .5,-2.9 -3.3,-.4zM389.2,147.5l3.3,.3 .5,-2.9 -3.3,-.3zM392.5,147.8l3.3,.3 .5,-2.8 -3.3,-.4zM395.8,148.1l3.4,.4 .5,-2.9 -3.4,-.3zM406.3,146.2l3.3,.4 .5,-2.9 -3.3,-.3zM409.6,146.6l3.3,.3 .5,-2.9 -3.3,-.3zM412.9,146.9l3.3,.3 .5,-2.9 -3.3,-.3zM423.4,145l3.3,.3 .5,-2.8 -3.3,-.4zM426.7,145.3l3.3,.4 .5,-2.9 -3.3,-.3zM437.1,143.5l3.3,.3 .5,-2.9 -3.3,-.3zM440.4,143.8l3.3,.3 .5,-2.8 -3.3,-.4zM443.7,144.1l3.3,.4 .5,-2.9 -3.3,-.3z"/>
<path fill="#d8a730" stroke="#d8a730" stroke-width="0.4" d="M334.7,151.2l3.3,.3 .5,-2.9 -3.3,-.3zM338,151.5l3.3,.3 .5,-2.9 -3.3,-.3zM348.5,149.5l3.3,.3 .5,-2.9 -3.3,-.3zM351.8,149.8l3.3,.3 .5,-2.9 -3.3,-.3zM355.1,150.1l3.3,.3 .5,-2.9 -3.3,-.3zM365.5,148.2l3.3,.3 .5,-2.9 -3.3,-.3zM368.8,148.5l3.3,.3 .5,-2.9 -3.3,-.3zM372.1,148.8l3.4,.3 .5,-2.9 -3.4,-.3zM382.6,146.9l3.3,.3 .5,-2.9 -3.3,-.3zM385.9,147.2l3.3,.3 .5,-2.9 -3.3,-.3zM399.7,145.6l3.3,.3 .5,-2.9 -3.3,-.3zM403,145.9l3.3,.3 .5,-2.8 -3.3,-.4zM413.4,144l3.3,.3 .5,-2.8 -3.3,-.4zM416.7,144.3l3.3,.4 .5,-2.9 -3.3,-.3zM420,144.7l3.4,.3 .5,-2.9 -3.4,-.3zM430.5,142.8l3.3,.3 .5,-2.9 -3.3,-.3zM433.8,143.1l3.3,.4 .5,-2.9 -3.3,-.4z"/>
<path fill="#dfa737" stroke="#dfa737" stroke-width="0.4" d="M338.5,148.6l3.3,.3 .5,-2.9 -3.3,-.4zM341.8,148.9l3.3,.3 .5,-2.9 -3.3,-.3zM345.1,149.2l3.4,.3 .5,-2.9 -3.4,-.3zM355.6,147.2l3.3,.3 .5,-2.9 -3.3,-.3zM358.9,147.5l3.3,.4 .5,-3 -3.3,-.3zM362.2,147.9l3.3,.3 .5,-2.9 -3.3,-.4zM372.6,145.9l3.4,.3 .5,-2.9 -3.4,-.3zM376,146.2l3.3,.3 .5,-2.9 -3.3,-.3zM379.3,146.5l3.3,.4 .5,-2.9 -3.3,-.4zM389.7,144.6l3.3,.3 .5,-2.9 -3.3,-.3zM393,144.9l3.3,.4 .5,-2.9 -3.3,-.4zM396.3,145.3l3.4,.3 .5,-2.9 -3.4,-.3zM406.8,143.4l3.3,.3 .5,-2.9 -3.3,-.3zM410.1,143.7l3.3,.3 .5,-2.9 -3.3,-.3zM423.9,142.1l3.3,.4 .5,-2.9 -3.3,-.4zM427.2,142.5l3.3,.3 .5,-2.9 -3.3,-.3z"/>
<path fill="#e4ab36" stroke="#e4ab36" stroke-width="0.4" d="M335.2,148.3l3.3,.3 .5,-3 -3.3,-.3zM349,146.6l3.3,.3 .5,-2.9 -3.3,-.3zM352.3,146.9l3.3,.3 .5,-2.9 -3.3,-.3zM366,145.3l3.3,.3 .5,-2.9 -3.3,-.4zM369.3,145.6l3.3,.3 .5,-2.9 -3.3,-.3zM383.1,144l3.3,.3 .5,-2.9 -3.3,-.4zM386.4,144.3l3.3,.3 .5,-2.9 -3.3,-.3zM400.2,142.7l3.3,.3 .5,-2.9 -3.3,-.3zM403.5,143l3.3,.4 .5,-2.9 -3.3,-.4zM413.9,141.1l3.3,.4 .5,-2.9 -3.3,-.4zM417.2,141.5l3.3,.3 .5,-2.9 -3.3,-.3zM420.5,141.8l3.4,.3 .5,-2.9 -3.4,-.3z"/>
<path fill="#e5b032" stroke="#e5b032" stroke-width="0.4" d="M339,145.6l3.3,.4 .5,-3 -3.3,-.3zM342.3,146l3.3,.3 .5,-3 -3.3,-.3zM345.6,146.3l3.4,.3 .5,-2.9 -3.4,-.4zM356.1,144.3l3.3,.3 .5,-2.9 -3.3,-.3zM359.4,144.6l3.3,.3 .5,-2.9 -3.3,-.3zM362.7,144.9l3.3,.4 .5,-3 -3.3,-.3zM373.1,143l3.4,.3 .5,-2.9 -3.4,-.3zM376.5,143.3l3.3,.3 .5,-2.9 -3.3,-.3zM379.8,143.6l3.3,.4 .5,-3 -3.3,-.3zM390.2,141.7l3.3,.3 .5,-2.9 -3.3,-.3zM393.5,142l3.3,.4 .5,-2.9 -3.3,-.4zM396.8,142.4l3.4,.3 .5,-2.9 -3.4,-.3zM407.3,140.5l3.3,.3 .5,-2.9 -3.3,-.4zM410.6,140.8l3.3,.3 .5,-2.9 -3.3,-.3z"/>
<path fill="#e4b52f" stroke="#e4b52f" stroke-width="0.4" d="M335.7,145.3l3.3,.3 .5,-2.9 -3.3,-.3zM349.5,143.7l3.3,.3 .5,-3 -3.3,-.3zM352.8,144l3.3,.3 .5,-2.9 -3.3,-.4zM366.5,142.3l3.3,.4 .5,-3 -3.3,-.3zM369.8,142.7l3.3,.3 .5,-2.9 -3.3,-.4zM383.6,141l3.3,.4 .5,-3 -3.3,-.3zM386.9,141.4l3.3,.3 .5,-2.9 -3.3,-.4zM397.3,139.5l3.4,.3 .5,-2.9 -3.4,-.4zM400.7,139.8l3.3,.3 .5,-2.9 -3.3,-.3zM404,140.1l3.3,.4 .5,-3 -3.3,-.3z"/>
<path fill="#e3bb2b" stroke="#e3bb2b" stroke-width="0.4" d="M339.5,142.7l3.3,.3 .5,-2.9 -3.3,-.4zM342.8,143l3.3,.3 .5,-2.9 -3.3,-.3zM346.1,143.3l3.4,.4 .5,-3 -3.4,-.3zM356.6,141.4l3.3,.3 .5,-3 -3.3,-.3zM359.9,141.7l3.3,.3 .5,-2.9 -3.3,-.4zM363.2,142l3.3,.3 .5,-2.9 -3.3,-.3zM373.6,140.1l3.4,.3 .5,-3 -3.4,-.3zM377,140.4l3.3,.3 .5,-2.9 -3.3,-.4zM380.3,140.7l3.3,.3 .5,-2.9 -3.3,-.3zM390.7,138.8l3.3,.3 .5,-2.9 -3.3,-.4zM394,139.1l3.3,.4 .5,-3 -3.3,-.3z"/>
<path fill="#e1c029" stroke="#e1c029" stroke-width="0.4" d="M336.2,142.4l3.3,.3 .5,-3 -3.3,-.3zM350,140.7l3.3,.3 .5,-2.9 -3.3,-.4zM353.3,141l3.3,.4 .5,-3 -3.3,-.3zM367,139.4l3.3,.3 .5,-2.9 -3.3,-.4zM370.3,139.7l3.3,.4 .5,-3 -3.3,-.3zM384.1,138.1l3.3,.3 .5,-2.9 -3.3,-.3zM387.4,138.4l3.3,.4 .5,-3 -3.3,-.3z"/>
<path fill="#dec626" stroke="#dec626" stroke-width="0.4" d="M340,139.7l3.3,.4 .5,-3 -3.3,-.3zM343.3,140.1l3.3,.3 .5,-3 -3.3,-.3zM346.6,140.4l3.4,.3 .5,-3 -3.4,-.3zM357.1,138.4l3.3,.3 .5,-2.9 -3.3,-.4zM360.4,138.7l3.3,.4 .5,-3 -3.3,-.3zM363.7,139.1l3.3,.3 .5,-3 -3.3,-.3zM374.1,137.1l3.4,.3 .5,-2.9 -3.4,-.4zM377.5,137.4l3.3,.4 .5,-3 -3.3,-.3zM380.8,137.8l3.3,.3 .5,-2.9 -3.3,-.4z"/>
<path fill="#ddcc23" stroke="#ddcc23" stroke-width="0.4" d="M336.7,139.4l3.3,.3 .5,-2.9 -3.3,-.4zM350.5,137.7l3.3,.4 .5,-3 -3.3,-.3zM353.8,138.1l3.3,.3 .5,-3 -3.3,-.3zM367.5,136.4l3.3,.4 .5,-3 -3.3,-.3zM370.8,136.8l3.3,.3 .5,-3 -3.3,-.3z"/>
<path fill="#dcd221" stroke="#dcd221" stroke-width="0.4" d="M343.8,137.1l3.3,.3 .5,-3 -3.3,-.3zM347.1,137.4l3.4,.3 .5,-2.9 -3.4,-.4zM360.9,135.8l3.3,.3 .5,-3 -3.3,-.3zM364.2,136.1l3.3,.3 .5,-2.9 -3.3,-.4z"/>
<path fill="#ddd71d" stroke="#ddd71d" stroke-width="0.4" d="M337.2,136.4l3.3,.4 .5,-3 -3.3,-.4zM340.5,136.8l3.3,.3 .5,-3 -3.3,-.3zM351,134.8l3.3,.3 .5,-3 -3.3,-.3zM354.3,135.1l3.3,.3 .5,-3 -3.3,-.3zM357.6,135.4l3.3,.4 .5,-3 -3.3,-.4z"/>
<path fill="#dedc18" stroke="#dedc18" stroke-width="0.4" d="M344.3,134.1l3.3,.3 .5,-3 -3.3,-.3zM347.6,134.4l3.4,.4 .5,-3 -3.4,-.4z"/>
<path fill="#e0e212" stroke="#e0e212" stroke-width="0.4" d="M337.7,133.4l3.3,.4 .5,-3.1 -3.3,-.3zM341,133.8l3.3,.3 .5,-3 -3.3,-.4z"/>
<path fill="none" stroke="#000" stroke-width="0.65" stroke-opacity="0.65" d="M323.2,213.9L323.7,211.3L324.2,208.7L324.7,206.2L325.2,203.5L325.7,200.9L326.2,198.3L326.7,195.6L327.2,193L327.7,190.3L328.2,187.6L328.7,184.9L329.2,182.2L329.7,179.4L330.2,176.7L330.7,173.9L331.2,171.1L331.7,168.3L332.2,165.5L332.7,162.7L333.2,159.8L333.7,156.9L334.2,154.1L334.7,151.2L335.2,148.3L335.7,145.3L336.2,142.4L336.7,139.4L337.2,136.4L337.7,133.4L338.2,130.4M326.5,214.1L327,211.6L327.5,209L328,206.4L328.5,203.8L329,201.2L329.5,198.5L330,195.9L330.5,193.2L331,190.5L331.5,187.9L332,185.2L332.5,182.4L333,179.7L333.5,176.9L334,174.2L334.5,171.4L335,168.6L335.5,165.8L336,163L336.5,160.1L337,157.2L337.5,154.4L338,151.5L338.5,148.6L339,145.6L339.5,142.7L340,139.7L340.5,136.8L341,133.8L341.5,130.7M329.8,214.3L330.3,211.8L330.8,209.2L331.3,206.6L331.8,204L332.3,201.4L332.8,198.8L333.3,196.1L333.8,193.5L334.3,190.8L334.8,188.1L335.3,185.4L335.8,182.7L336.3,180L336.8,177.2L337.3,174.5L337.8,171.7L338.3,168.9L338.8,166.1L339.3,163.2L339.8,160.4L340.3,157.5L340.8,154.7L341.3,151.8L341.8,148.9L342.3,146L342.8,143L343.3,140.1L343.8,137.1L344.3,134.1L344.8,131.1M333.1,214.6L333.6,212L334.1,209.4L334.6,206.8L335.1,204.3L335.6,201.6L336.1,199L336.6,196.4L337.1,193.7L337.6,191.1L338.1,188.4L338.6,185.7L339.1,183L339.6,180.2L340.1,177.5L340.6,174.7L341.1,172L341.6,169.2L342.1,166.4L342.6,163.5L343.1,160.7L343.6,157.8L344.1,155L344.6,152.1L345.1,149.2L345.6,146.3L346.1,143.3L346.6,140.4L347.1,137.4L347.6,134.4L348.1,131.4M336.5,214.8L337,212.2L337.5,209.7L338,207.1L338.5,204.5L339,201.9L339.5,199.3L340,196.6L340.5,194L341,191.3L341.5,188.6L342,185.9L342.5,183.2L343,180.5L343.5,177.8L344,175L344.5,172.2L345,169.4L345.5,166.6L346,163.8L346.5,161L347,158.1L347.5,155.3L348,152.4L348.5,149.5L349,146.6L349.5,143.7L350,140.7L350.5,137.7L351,134.8L351.5,131.8M339.8,215L340.3,212.4L340.8,209.9L341.3,207.3L341.8,204.7L342.3,202.1L342.8,199.5L343.3,196.9L343.8,194.2L344.3,191.6L344.8,188.9L345.3,186.2L345.8,183.5L346.3,180.8L346.8,178L347.3,175.3L347.8,172.5L348.3,169.7L348.8,166.9L349.3,164.1L349.8,161.3L350.3,158.4L350.8,155.6L351.3,152.7L351.8,149.8L352.3,146.9L352.8,144L353.3,141L353.8,138.1L354.3,135.1L354.8,132.1M343.1,215.2L343.6,212.7L344.1,210.1L344.6,207.5L345.1,205L345.6,202.4L346.1,199.7L346.6,197.1L347.1,194.5L347.6,191.8L348.1,189.1L348.6,186.4L349.1,183.7L349.6,181L350.1,178.3L350.6,175.5L351.1,172.8L351.6,170L352.1,167.2L352.6,164.4L353.1,161.6L353.6,158.7L354.1,155.9L354.6,153L355.1,150.1L355.6,147.2L356.1,144.3L356.6,141.4L357.1,138.4L357.6,135.4L358.1,132.4M346.4,215.4L346.9,212.9L347.4,210.3L347.9,207.8L348.4,205.2L348.9,202.6L349.4,200L349.9,197.4L350.4,194.7L350.9,192.1L351.4,189.4L351.9,186.7L352.4,184L352.9,181.3L353.4,178.6L353.9,175.8L354.4,173.1L354.9,170.3L355.4,167.5L355.9,164.7L356.4,161.9L356.9,159L357.4,156.2L357.9,153.3L358.4,150.4L358.9,147.5L359.4,144.6L359.9,141.7L360.4,138.7L360.9,135.8L361.4,132.8M349.7,215.7L350.2,213.1L350.7,210.6L351.2,208L351.7,205.4L352.2,202.8L352.7,200.2L353.2,197.6L353.7,195L354.2,192.3L354.7,189.6L355.2,187L355.7,184.3L356.2,181.6L356.7,178.8L357.2,176.1L357.7,173.3L358.2,170.6L358.7,167.8L359.2,165L359.7,162.2L360.2,159.3L360.7,156.5L361.2,153.6L361.7,150.7L362.2,147.9L362.7,144.9L363.2,142L363.7,139.1L364.2,136.1L364.7,133.1M353,215.9L353.5,213.3L354,210.8L354.5,208.2L355,205.7L355.5,203.1L356,200.5L356.5,197.8L357,195.2L357.5,192.6L358,189.9L358.5,187.2L359,184.5L359.5,181.8L360,179.1L360.5,176.4L361,173.6L361.5,170.9L362,168.1L362.5,165.3L363,162.5L363.5,159.6L364,156.8L364.5,153.9L365,151.1L365.5,148.2L366,145.3L366.5,142.3L367,139.4L367.5,136.4L368,133.5M356.3,216.1L356.8,213.6L357.3,211L357.8,208.5L358.3,205.9L358.8,203.3L359.3,200.7L359.8,198.1L360.3,195.5L360.8,192.8L361.3,190.2L361.8,187.5L362.3,184.8L362.8,182.1L363.3,179.4L363.8,176.6L364.3,173.9L364.8,171.1L365.3,168.4L365.8,165.6L366.3,162.8L366.8,159.9L367.3,157.1L367.8,154.2L368.3,151.4L368.8,148.5L369.3,145.6L369.8,142.7L370.3,139.7L370.8,136.8L371.3,133.8M359.6,216.3L360.1,213.8L360.6,211.2L361.1,208.7L361.6,206.1L362.1,203.5L362.6,200.9L363.1,198.3L363.6,195.7L364.1,193.1L364.6,190.4L365.1,187.7L365.6,185.1L366.1,182.4L366.6,179.6L367.1,176.9L367.6,174.2L368.1,171.4L368.6,168.6L369.1,165.9L369.6,163.1L370.1,160.2L370.6,157.4L371.1,154.6L371.6,151.7L372.1,148.8L372.6,145.9L373.1,143L373.6,140.1L374.1,137.1L374.6,134.1M363,216.5L363.5,214L364,211.5L364.5,208.9L365,206.4L365.5,203.8L366,201.2L366.5,198.6L367,195.9L367.5,193.3L368,190.7L368.5,188L369,185.3L369.5,182.6L370,179.9L370.5,177.2L371,174.5L371.5,171.7L372,168.9L372.5,166.1L373,163.4L373.5,160.5L374,157.7L374.5,154.9L375,152L375.5,149.1L376,146.2L376.5,143.3L377,140.4L377.5,137.4L378,134.5M366.3,216.8L366.8,214.2L367.3,211.7L367.8,209.2L368.3,206.6L368.8,204L369.3,201.4L369.8,198.8L370.3,196.2L370.8,193.6L371.3,190.9L371.8,188.3L372.3,185.6L372.8,182.9L373.3,180.2L373.8,177.5L374.3,174.7L374.8,172L375.3,169.2L375.8,166.4L376.3,163.6L376.8,160.8L377.3,158L377.8,155.2L378.3,152.3L378.8,149.4L379.3,146.5L379.8,143.6L380.3,140.7L380.8,137.8L381.3,134.8M369.6,217L370.1,214.5L370.6,211.9L371.1,209.4L371.6,206.8L372.1,204.2L372.6,201.7L373.1,199.1L373.6,196.4L374.1,193.8L374.6,191.2L375.1,188.5L375.6,185.8L376.1,183.2L376.6,180.5L377.1,177.7L377.6,175L378.1,172.3L378.6,169.5L379.1,166.7L379.6,163.9L380.1,161.1L380.6,158.3L381.1,155.5L381.6,152.6L382.1,149.8L382.6,146.9L383.1,144L383.6,141L384.1,138.1L384.6,135.2M372.9,217.2L373.4,214.7L373.9,212.2L374.4,209.6L374.9,207.1L375.4,204.5L375.9,201.9L376.4,199.3L376.9,196.7L377.4,194.1L377.9,191.4L378.4,188.8L378.9,186.1L379.4,183.4L379.9,180.7L380.4,178L380.9,175.3L381.4,172.5L381.9,169.8L382.4,167L382.9,164.2L383.4,161.4L383.9,158.6L384.4,155.8L384.9,152.9L385.4,150.1L385.9,147.2L386.4,144.3L386.9,141.4L387.4,138.4L387.9,135.5M376.2,217.4L376.7,214.9L377.2,212.4L377.7,209.8L378.2,207.3L378.7,204.7L379.2,202.1L379.7,199.5L380.2,196.9L380.7,194.3L381.2,191.7L381.7,189L382.2,186.4L382.7,183.7L383.2,181L383.7,178.3L384.2,175.6L384.7,172.8L385.2,170.1L385.7,167.3L386.2,164.5L386.7,161.7L387.2,158.9L387.7,156.1L388.2,153.2L388.7,150.4L389.2,147.5L389.7,144.6L390.2,141.7L390.7,138.8L391.2,135.8M379.5,217.6L380,215.1L380.5,212.6L381,210.1L381.5,207.5L382,205L382.5,202.4L383,199.8L383.5,197.2L384,194.6L384.5,191.9L385,189.3L385.5,186.6L386,184L386.5,181.3L387,178.6L387.5,175.8L388,173.1L388.5,170.4L389,167.6L389.5,164.8L390,162L390.5,159.2L391,156.4L391.5,153.6L392,150.7L392.5,147.8L393,144.9L393.5,142L394,139.1L394.5,136.2M382.8,217.9L383.3,215.4L383.8,212.8L384.3,210.3L384.8,207.8L385.3,205.2L385.8,202.6L386.3,200L386.8,197.4L387.3,194.8L387.8,192.2L388.3,189.5L388.8,186.9L389.3,184.2L389.8,181.5L390.3,178.8L390.8,176.1L391.3,173.4L391.8,170.6L392.3,167.9L392.8,165.1L393.3,162.3L393.8,159.5L394.3,156.7L394.8,153.9L395.3,151L395.8,148.1L396.3,145.3L396.8,142.4L397.3,139.5L397.8,136.5M386.2,218.1L386.7,215.6L387.2,213.1L387.7,210.5L388.2,208L388.7,205.4L389.2,202.9L389.7,200.3L390.2,197.7L390.7,195.1L391.2,192.4L391.7,189.8L392.2,187.2L392.7,184.5L393.2,181.8L393.7,179.1L394.2,176.4L394.7,173.7L395.2,170.9L395.7,168.2L396.2,165.4L396.7,162.6L397.2,159.8L397.7,157L398.2,154.2L398.7,151.3L399.2,148.5L399.7,145.6L400.2,142.7L400.7,139.8L401.2,136.9M389.5,218.3L390,215.8L390.5,213.3L391,210.8L391.5,208.2L392,205.7L392.5,203.1L393,200.5L393.5,197.9L394,195.3L394.5,192.7L395,190.1L395.5,187.4L396,184.8L396.5,182.1L397,179.4L397.5,176.7L398,174L398.5,171.2L399,168.5L399.5,165.7L400,162.9L400.5,160.1L401,157.3L401.5,154.5L402,151.6L402.5,148.8L403,145.9L403.5,143L404,140.1L404.5,137.2M392.8,218.5L393.3,216L393.8,213.5L394.3,211L394.8,208.5L395.3,205.9L395.8,203.3L396.3,200.8L396.8,198.2L397.3,195.6L397.8,193L398.3,190.3L398.8,187.7L399.3,185L399.8,182.3L400.3,179.7L400.8,177L401.3,174.2L401.8,171.5L402.3,168.8L402.8,166L403.3,163.2L403.8,160.4L404.3,157.6L404.8,154.8L405.3,152L405.8,149.1L406.3,146.2L406.8,143.4L407.3,140.5L407.8,137.5M396.1,218.7L396.6,216.2L397.1,213.7L397.6,211.2L398.1,208.7L398.6,206.1L399.1,203.6L399.6,201L400.1,198.4L400.6,195.8L401.1,193.2L401.6,190.6L402.1,187.9L402.6,185.3L403.1,182.6L403.6,179.9L404.1,177.2L404.6,174.5L405.1,171.8L405.6,169L406.1,166.3L406.6,163.5L407.1,160.7L407.6,157.9L408.1,155.1L408.6,152.3L409.1,149.4L409.6,146.6L410.1,143.7L410.6,140.8L411.1,137.9M399.4,219L399.9,216.5L400.4,214L400.9,211.4L401.4,208.9L401.9,206.4L402.4,203.8L402.9,201.2L403.4,198.7L403.9,196.1L404.4,193.5L404.9,190.8L405.4,188.2L405.9,185.5L406.4,182.9L406.9,180.2L407.4,177.5L407.9,174.8L408.4,172.1L408.9,169.3L409.4,166.6L409.9,163.8L410.4,161L410.9,158.2L411.4,155.4L411.9,152.6L412.4,149.7L412.9,146.9L413.4,144L413.9,141.1L414.4,138.2M402.7,219.2L403.2,216.7L403.7,214.2L404.2,211.7L404.7,209.2L405.2,206.6L405.7,204.1L406.2,201.5L406.7,198.9L407.2,196.3L407.7,193.7L408.2,191.1L408.7,188.5L409.2,185.8L409.7,183.2L410.2,180.5L410.7,177.8L411.2,175.1L411.7,172.4L412.2,169.6L412.7,166.9L413.2,164.1L413.7,161.3L414.2,158.5L414.7,155.7L415.2,152.9L415.7,150.1L416.2,147.2L416.7,144.3L417.2,141.5L417.7,138.6M406,219.4L406.5,216.9L407,214.4L407.5,211.9L408,209.4L408.5,206.8L409,204.3L409.5,201.7L410,199.2L410.5,196.6L411,194L411.5,191.4L412,188.7L412.5,186.1L413,183.4L413.5,180.7L414,178.1L414.5,175.4L415,172.6L415.5,169.9L416,167.2L416.5,164.4L417,161.6L417.5,158.8L418,156L418.5,153.2L419,150.4L419.5,147.5L420,144.7L420.5,141.8L421,138.9M409.4,219.6L409.9,217.1L410.4,214.6L410.9,212.1L411.4,209.6L411.9,207.1L412.4,204.5L412.9,202L413.4,199.4L413.9,196.8L414.4,194.2L414.9,191.6L415.4,189L415.9,186.3L416.4,183.7L416.9,181L417.4,178.3L417.9,175.6L418.4,172.9L418.9,170.2L419.4,167.5L419.9,164.7L420.4,161.9L420.9,159.2L421.4,156.4L421.9,153.5L422.4,150.7L422.9,147.9L423.4,145L423.9,142.1L424.4,139.2M412.7,219.8L413.2,217.4L413.7,214.9L414.2,212.4L414.7,209.8L415.2,207.3L415.7,204.8L416.2,202.2L416.7,199.7L417.2,197.1L417.7,194.5L418.2,191.9L418.7,189.2L419.2,186.6L419.7,184L420.2,181.3L420.7,178.6L421.2,175.9L421.7,173.2L422.2,170.5L422.7,167.8L423.2,165L423.7,162.2L424.2,159.5L424.7,156.7L425.2,153.9L425.7,151L426.2,148.2L426.7,145.3L427.2,142.5L427.7,139.6M416,220.1L416.5,217.6L417,215.1L417.5,212.6L418,210.1L418.5,207.6L419,205L419.5,202.5L420,199.9L420.5,197.3L421,194.7L421.5,192.1L422,189.5L422.5,186.9L423,184.2L423.5,181.6L424,178.9L424.5,176.2L425,173.5L425.5,170.8L426,168L426.5,165.3L427,162.5L427.5,159.8L428,157L428.5,154.2L429,151.3L429.5,148.5L430,145.7L430.5,142.8L431,139.9M419.3,220.3L419.8,217.8L420.3,215.3L420.8,212.8L421.3,210.3L421.8,207.8L422.3,205.3L422.8,202.7L423.3,200.1L423.8,197.6L424.3,195L424.8,192.4L425.3,189.8L425.8,187.1L426.3,184.5L426.8,181.8L427.3,179.2L427.8,176.5L428.3,173.8L428.8,171.1L429.3,168.3L429.8,165.6L430.3,162.8L430.8,160.1L431.3,157.3L431.8,154.5L432.3,151.7L432.8,148.8L433.3,146L433.8,143.1L434.3,140.2M422.6,220.5L423.1,218L423.6,215.5L424.1,213.1L424.6,210.5L425.1,208L425.6,205.5L426.1,202.9L426.6,200.4L427.1,197.8L427.6,195.2L428.1,192.6L428.6,190L429.1,187.4L429.6,184.8L430.1,182.1L430.6,179.4L431.1,176.8L431.6,174.1L432.1,171.4L432.6,168.6L433.1,165.9L433.6,163.1L434.1,160.4L434.6,157.6L435.1,154.8L435.6,152L436.1,149.2L436.6,146.3L437.1,143.5L437.6,140.6M425.9,220.7L426.4,218.2L426.9,215.8L427.4,213.3L427.9,210.8L428.4,208.3L428.9,205.7L429.4,203.2L429.9,200.6L430.4,198.1L430.9,195.5L431.4,192.9L431.9,190.3L432.4,187.7L432.9,185L433.4,182.4L433.9,179.7L434.4,177L434.9,174.4L435.4,171.6L435.9,168.9L436.4,166.2L436.9,163.4L437.4,160.7L437.9,157.9L438.4,155.1L438.9,152.3L439.4,149.5L439.9,146.6L440.4,143.8L440.9,140.9M429.2,220.9L429.7,218.5L430.2,216L430.7,213.5L431.2,211L431.7,208.5L432.2,206L432.7,203.4L433.2,200.9L433.7,198.3L434.2,195.7L434.7,193.2L435.2,190.5L435.7,187.9L436.2,185.3L436.7,182.7L437.2,180L437.7,177.3L438.2,174.6L438.7,171.9L439.2,169.2L439.7,166.5L440.2,163.7L440.7,161L441.2,158.2L441.7,155.4L442.2,152.6L442.7,149.8L443.2,147L443.7,144.1L444.2,141.3M432.5,221.2L433,218.7L433.5,216.2L434,213.7L434.5,211.2L435,208.7L435.5,206.2L436,203.7L436.5,201.1L437,198.6L437.5,196L438,193.4L438.5,190.8L439,188.2L439.5,185.6L440,182.9L440.5,180.3L441,177.6L441.5,174.9L442,172.2L442.5,169.5L443,166.8L443.5,164L444,161.3L444.5,158.5L445,155.7L445.5,152.9L446,150.1L446.5,147.3L447,144.5L447.5,141.6M435.9,221.4L436.4,218.9L436.9,216.4L437.4,214L437.9,211.5L438.4,209L438.9,206.5L439.4,203.9L439.9,201.4L440.4,198.8L440.9,196.2L441.4,193.7L441.9,191.1L442.4,188.5L442.9,185.8L443.4,183.2L443.9,180.5L444.4,177.9L444.9,175.2L445.4,172.5L445.9,169.8L446.4,167.1L446.9,164.4L447.4,161.6L447.9,158.8L448.4,156.1L448.9,153.3L449.4,150.5L449.9,147.6L450.4,144.8L450.9,141.9M439.2,221.6L439.7,219.1L440.2,216.7L440.7,214.2L441.2,211.7L441.7,209.2L442.2,206.7L442.7,204.2L443.2,201.6L443.7,199.1L444.2,196.5L444.7,193.9L445.2,191.3L445.7,188.7L446.2,186.1L446.7,183.5L447.2,180.8L447.7,178.2L448.2,175.5L448.7,172.8L449.2,170.1L449.7,167.4L450.2,164.7L450.7,161.9L451.2,159.1L451.7,156.4L452.2,153.6L452.7,150.8L453.2,148L453.7,145.1L454.2,142.3M442.5,221.8L443,219.4L443.5,216.9L444,214.4L444.5,211.9L445,209.4L445.5,206.9L446,204.4L446.5,201.9L447,199.3L447.5,196.8L448,194.2L448.5,191.6L449,189L449.5,186.4L450,183.7L450.5,181.1L451,178.4L451.5,175.8L452,173.1L452.5,170.4L453,167.7L453.5,165L454,162.2L454.5,159.5L455,156.7L455.5,153.9L456,151.1L456.5,148.3L457,145.5L457.5,142.6M445.8,222L446.3,219.6L446.8,217.1L447.3,214.7L447.8,212.2L448.3,209.7L448.8,207.2L449.3,204.6L449.8,202.1L450.3,199.6L450.8,197L451.3,194.4L451.8,191.9L452.3,189.3L452.8,186.6L453.3,184L453.8,181.4L454.3,178.7L454.8,176.1L455.3,173.4L455.8,170.7L456.3,168L456.8,165.3L457.3,162.5L457.8,159.8L458.3,157L458.8,154.2L459.3,151.4L459.8,148.6L460.3,145.8L460.8,142.9M449.1,222.2L449.6,219.8L450.1,217.3L450.6,214.9L451.1,212.4L451.6,209.9L452.1,207.4L452.6,204.9L453.1,202.4L453.6,199.8L454.1,197.3L454.6,194.7L455.1,192.1L455.6,189.5L456.1,186.9L456.6,184.3L457.1,181.7L457.6,179L458.1,176.3L458.6,173.7L459.1,171L459.6,168.3L460.1,165.6L460.6,162.8L461.1,160.1L461.6,157.3L462.1,154.5L462.6,151.7L463.1,148.9L463.6,146.1L464.1,143.3M452.4,222.5L452.9,220L453.4,217.6L453.9,215.1L454.4,212.6L454.9,210.1L455.4,207.6L455.9,205.1L456.4,202.6L456.9,200.1L457.4,197.5L457.9,195L458.4,192.4L458.9,189.8L459.4,187.2L459.9,184.6L460.4,181.9L460.9,179.3L461.4,176.6L461.9,174L462.4,171.3L462.9,168.6L463.4,165.9L463.9,163.1L464.4,160.4L464.9,157.6L465.4,154.9L465.9,152.1L466.4,149.3L466.9,146.5L467.4,143.6M455.7,222.7L456.2,220.2L456.7,217.8L457.2,215.3L457.7,212.9L458.2,210.4L458.7,207.9L459.2,205.4L459.7,202.9L460.2,200.3L460.7,197.8L461.2,195.2L461.7,192.6L462.2,190L462.7,187.4L463.2,184.8L463.7,182.2L464.2,179.6L464.7,176.9L465.2,174.2L465.7,171.6L466.2,168.9L466.7,166.2L467.2,163.4L467.7,160.7L468.2,157.9L468.7,155.2L469.2,152.4L469.7,149.6L470.2,146.8L470.7,144M459.1,222.9L459.6,220.5L460.1,218L460.6,215.6L461.1,213.1L461.6,210.6L462.1,208.1L462.6,205.6L463.1,203.1L463.6,200.6L464.1,198L464.6,195.5L465.1,192.9L465.6,190.3L466.1,187.7L466.6,185.1L467.1,182.5L467.6,179.8L468.1,177.2L468.6,174.5L469.1,171.9L469.6,169.2L470.1,166.5L470.6,163.7L471.1,161L471.6,158.3L472.1,155.5L472.6,152.7L473.1,149.9L473.6,147.1L474.1,144.3M462.4,223.1L462.9,220.7L463.4,218.2L463.9,215.8L464.4,213.3L464.9,210.8L465.4,208.4L465.9,205.9L466.4,203.3L466.9,200.8L467.4,198.3L467.9,195.7L468.4,193.2L468.9,190.6L469.4,188L469.9,185.4L470.4,182.8L470.9,180.1L471.4,177.5L471.9,174.8L472.4,172.1L472.9,169.5L473.4,166.8L473.9,164L474.4,161.3L474.9,158.6L475.4,155.8L475.9,153L476.4,150.3L476.9,147.4L477.4,144.6M465.7,223.3L466.2,220.9L466.7,218.5L467.2,216L467.7,213.6L468.2,211.1L468.7,208.6L469.2,206.1L469.7,203.6L470.2,201.1L470.7,198.5L471.2,196L471.7,193.4L472.2,190.8L472.7,188.2L473.2,185.6L473.7,183L474.2,180.4L474.7,177.8L475.2,175.1L475.7,172.4L476.2,169.8L476.7,167.1L477.2,164.3L477.7,161.6L478.2,158.9L478.7,156.1L479.2,153.4L479.7,150.6L480.2,147.8L480.7,145M469,223.6L469.5,221.1L470,218.7L470.5,216.2L471,213.8L471.5,211.3L472,208.8L472.5,206.3L473,203.8L473.5,201.3L474,198.8L474.5,196.2L475,193.7L475.5,191.1L476,188.5L476.5,185.9L477,183.3L477.5,180.7L478,178L478.5,175.4L479,172.7L479.5,170.1L480,167.4L480.5,164.7L481,161.9L481.5,159.2L482,156.4L482.5,153.7L483,150.9L483.5,148.1L484,145.3M472.3,223.8L472.8,221.4L473.3,218.9L473.8,216.5L474.3,214L474.8,211.6L475.3,209.1L475.8,206.6L476.3,204.1L476.8,201.6L477.3,199L477.8,196.5L478.3,193.9L478.8,191.4L479.3,188.8L479.8,186.2L480.3,183.6L480.8,181L481.3,178.3L481.8,175.7L482.3,173L482.8,170.3L483.3,167.7L483.8,165L484.3,162.2L484.8,159.5L485.3,156.8L485.8,154L486.3,151.2L486.8,148.4L487.3,145.6M475.6,224L476.1,221.6L476.6,219.1L477.1,216.7L477.6,214.3L478.1,211.8L478.6,209.3L479.1,206.8L479.6,204.3L480.1,201.8L480.6,199.3L481.1,196.7L481.6,194.2L482.1,191.6L482.6,189.1L483.1,186.5L483.6,183.9L484.1,181.2L484.6,178.6L485.1,176L485.6,173.3L486.1,170.6L486.6,168L487.1,165.3L487.6,162.5L488.1,159.8L488.6,157.1L489.1,154.3L489.6,151.6L490.1,148.8L490.6,146M478.9,224.2L479.4,221.8L479.9,219.4L480.4,216.9L480.9,214.5L481.4,212L481.9,209.5L482.4,207.1L482.9,204.6L483.4,202.1L483.9,199.5L484.4,197L484.9,194.5L485.4,191.9L485.9,189.3L486.4,186.7L486.9,184.1L487.4,181.5L487.9,178.9L488.4,176.3L488.9,173.6L489.4,170.9L489.9,168.3L490.4,165.6L490.9,162.9L491.4,160.1L491.9,157.4L492.4,154.7L492.9,151.9L493.4,149.1L493.9,146.3M482.2,224.4L482.7,222L483.2,219.6L483.7,217.2L484.2,214.7L484.7,212.3L485.2,209.8L485.7,207.3L486.2,204.8L486.7,202.3L487.2,199.8L487.7,197.3L488.2,194.7L488.7,192.2L489.2,189.6L489.7,187L490.2,184.4L490.7,181.8L491.2,179.2L491.7,176.5L492.2,173.9L492.7,171.2L493.2,168.6L493.7,165.9L494.2,163.2L494.7,160.5L495.2,157.7L495.7,155L496.2,152.2L496.7,149.4L497.2,146.7M485.6,224.6L486.1,222.2L486.6,219.8L487.1,217.4L487.6,214.9L488.1,212.5L488.6,210L489.1,207.5L489.6,205.1L490.1,202.6L490.6,200L491.1,197.5L491.6,195L492.1,192.4L492.6,189.9L493.1,187.3L493.6,184.7L494.1,182.1L494.6,179.5L495.1,176.8L495.6,174.2L496.1,171.5L496.6,168.9L497.1,166.2L497.6,163.5L498.1,160.8L498.6,158L499.1,155.3L499.6,152.5L500.1,149.8L500.6,147M488.9,224.9L489.4,222.5L489.9,220L490.4,217.6L490.9,215.2L491.4,212.7L491.9,210.3L492.4,207.8L492.9,205.3L493.4,202.8L493.9,200.3L494.4,197.8L494.9,195.2L495.4,192.7L495.9,190.1L496.4,187.5L496.9,185L497.4,182.4L497.9,179.7L498.4,177.1L498.9,174.5L499.4,171.8L499.9,169.2L500.4,166.5L500.9,163.8L501.4,161.1L501.9,158.4L502.4,155.6L502.9,152.9L503.4,150.1L503.9,147.3M492.2,225.1L492.7,222.7L493.2,220.3L493.7,217.8L494.2,215.4L494.7,213L495.2,210.5L495.7,208L496.2,205.5L496.7,203.1L497.2,200.5L497.7,198L498.2,195.5L498.7,192.9L499.2,190.4L499.7,187.8L500.2,185.2L500.7,182.6L501.2,180L501.7,177.4L502.2,174.8L502.7,172.1L503.2,169.5L503.7,166.8L504.2,164.1L504.7,161.4L505.2,158.7L505.7,155.9L506.2,153.2L506.7,150.4L507.2,147.7M495.5,225.3L496,222.9L496.5,220.5L497,218.1L497.5,215.6L498,213.2L498.5,210.7L499,208.3L499.5,205.8L500,203.3L500.5,200.8L501,198.3L501.5,195.7L502,193.2L502.5,190.7L503,188.1L503.5,185.5L504,182.9L504.5,180.3L505,177.7L505.5,175.1L506,172.4L506.5,169.8L507,167.1L507.5,164.4L508,161.7L508.5,159L509,156.3L509.5,153.5L510,150.8L510.5,148"/>
<path fill="none" stroke="#000" stroke-width="0.5" stroke-opacity="0.35" d="M323.2,213.9L326.5,214.1L329.8,214.3L333.1,214.6L336.5,214.8L339.8,215L343.1,215.2L346.4,215.4L349.7,215.7L353,215.9L356.3,216.1L359.6,216.3L363,216.5L366.3,216.8L369.6,217L372.9,217.2L376.2,217.4L379.5,217.6L382.8,217.9L386.2,218.1L389.5,218.3L392.8,218.5L396.1,218.7L399.4,219L402.7,219.2L406,219.4L409.4,219.6L412.7,219.8L416,220.1L419.3,220.3L422.6,220.5L425.9,220.7L429.2,220.9L432.5,221.2L435.9,221.4L439.2,221.6L442.5,221.8L445.8,222L449.1,222.2L452.4,222.5L455.7,222.7L459.1,222.9L462.4,223.1L465.7,223.3L469,223.6L472.3,223.8L475.6,224L478.9,224.2L482.2,224.4L485.6,224.6L488.9,224.9L492.2,225.1L495.5,225.3M323.7,211.3L327,211.6L330.3,211.8L333.6,212L337,212.2L340.3,212.4L343.6,212.7L346.9,212.9L350.2,213.1L353.5,213.3L356.8,213.6L360.1,213.8L363.5,214L366.8,214.2L370.1,214.5L373.4,214.7L376.7,214.9L380,215.1L383.3,215.4L386.7,215.6L390,215.8L393.3,216L396.6,216.2L399.9,216.5L403.2,216.7L406.5,216.9L409.9,217.1L413.2,217.4L416.5,217.6L419.8,217.8L423.1,218L426.4,218.2L429.7,218.5L433,218.7L436.4,218.9L439.7,219.1L443,219.4L446.3,219.6L449.6,219.8L452.9,220L456.2,220.2L459.6,220.5L462.9,220.7L466.2,220.9L469.5,221.1L472.8,221.4L476.1,221.6L479.4,221.8L482.7,222L486.1,222.2L489.4,222.5L492.7,222.7L496,222.9M324.2,208.7L327.5,209L330.8,209.2L334.1,209.4L337.5,209.7L340.8,209.9L344.1,210.1L347.4,210.3L350.7,210.6L354,210.8L357.3,211L360.6,211.2L364,211.5L367.3,211.7L370.6,211.9L373.9,212.2L377.2,212.4L380.5,212.6L383.8,212.8L387.2,213.1L390.5,213.3L393.8,213.5L397.1,213.7L400.4,214L403.7,214.2L407,214.4L410.4,214.6L413.7,214.9L417,215.1L420.3,215.3L423.6,215.5L426.9,215.8L430.2,216L433.5,216.2L436.9,216.4L440.2,216.7L443.5,216.9L446.8,217.1L450.1,217.3L453.4,217.6L456.7,217.8L460.1,218L463.4,218.2L466.7,218.5L470,218.7L473.3,218.9L476.6,219.1L479.9,219.4L483.2,219.6L486.6,219.8L489.9,220L493.2,220.3L496.5,220.5M324.7,206.2L328,206.4L331.3,206.6L334.6,206.8L338,207.1L341.3,207.3L344.6,207.5L347.9,207.8L351.2,208L354.5,208.2L357.8,208.5L361.1,208.7L364.5,208.9L367.8,209.2L371.1,209.4L374.4,209.6L377.7,209.8L381,210.1L384.3,210.3L387.7,210.5L391,210.8L394.3,211L397.6,211.2L400.9,211.4L404.2,211.7L407.5,211.9L410.9,212.1L414.2,212.4L417.5,212.6L420.8,212.8L424.1,213.1L427.4,213.3L430.7,213.5L434,213.7L437.4,214L440.7,214.2L444,214.4L447.3,214.7L450.6,214.9L453.9,215.1L457.2,215.3L460.6,215.6L463.9,215.8L467.2,216L470.5,216.2L473.8,216.5L477.1,216.7L480.4,216.9L483.7,217.2L487.1,217.4L490.4,217.6L493.7,217.8L497,218.1M325.2,203.5L328.5,203.8L331.8,204L335.1,204.3L338.5,204.5L341.8,204.7L345.1,205L348.4,205.2L351.7,205.4L355,205.7L358.3,205.9L361.6,206.1L365,206.4L368.3,206.6L371.6,206.8L374.9,207.1L378.2,207.3L381.5,207.5L384.8,207.8L388.2,208L391.5,208.2L394.8,208.5L398.1,208.7L401.4,208.9L404.7,209.2L408,209.4L411.4,209.6L414.7,209.8L418,210.1L421.3,210.3L424.6,210.5L427.9,210.8L431.2,211L434.5,211.2L437.9,211.5L441.2,211.7L444.5,211.9L447.8,212.2L451.1,212.4L454.4,212.6L457.7,212.9L461.1,213.1L464.4,213.3L467.7,213.6L471,213.8L474.3,214L477.6,214.3L480.9,214.5L484.2,214.7L487.6,214.9L490.9,215.2L494.2,215.4L497.5,215.6M325.7,200.9L329,201.2L332.3,201.4L335.6,201.6L339,201.9L342.3,202.1L345.6,202.4L348.9,202.6L352.2,202.8L355.5,203.1L358.8,203.3L362.1,203.5L365.5,203.8L368.8,204L372.1,204.2L375.4,204.5L378.7,204.7L382,205L385.3,205.2L388.7,205.4L392,205.7L395.3,205.9L398.6,206.1L401.9,206.4L405.2,206.6L408.5,206.8L411.9,207.1L415.2,207.3L418.5,207.6L421.8,207.8L425.1,208L428.4,208.3L431.7,208.5L435,208.7L438.4,209L441.7,209.2L445,209.4L448.3,209.7L451.6,209.9L454.9,210.1L458.2,210.4L461.6,210.6L464.9,210.8L468.2,211.1L471.5,211.3L474.8,211.6L478.1,211.8L481.4,212L484.7,212.3L488.1,212.5L491.4,212.7L494.7,213L498,213.2M326.2,198.3L329.5,198.5L332.8,198.8L336.1,199L339.5,199.3L342.8,199.5L346.1,199.7L349.4,200L352.7,200.2L356,200.5L359.3,200.7L362.6,200.9L366,201.2L369.3,201.4L372.6,201.7L375.9,201.9L379.2,202.1L382.5,202.4L385.8,202.6L389.2,202.9L392.5,203.1L395.8,203.3L399.1,203.6L402.4,203.8L405.7,204.1L409,204.3L412.4,204.5L415.7,204.8L419,205L422.3,205.3L425.6,205.5L428.9,205.7L432.2,206L435.5,206.2L438.9,206.5L442.2,206.7L445.5,206.9L448.8,207.2L452.1,207.4L455.4,207.6L458.7,207.9L462.1,208.1L465.4,208.4L468.7,208.6L472,208.8L475.3,209.1L478.6,209.3L481.9,209.5L485.2,209.8L488.6,210L491.9,210.3L495.2,210.5L498.5,210.7M326.7,195.6L330,195.9L333.3,196.1L336.6,196.4L340,196.6L343.3,196.9L346.6,197.1L349.9,197.4L353.2,197.6L356.5,197.8L359.8,198.1L363.1,198.3L366.5,198.6L369.8,198.8L373.1,199.1L376.4,199.3L379.7,199.5L383,199.8L386.3,200L389.7,200.3L393,200.5L396.3,200.8L399.6,201L402.9,201.2L406.2,201.5L409.5,201.7L412.9,202L416.2,202.2L419.5,202.5L422.8,202.7L426.1,202.9L429.4,203.2L432.7,203.4L436,203.7L439.4,203.9L442.7,204.2L446,204.4L449.3,204.6L452.6,204.9L455.9,205.1L459.2,205.4L462.6,205.6L465.9,205.9L469.2,206.1L472.5,206.3L475.8,206.6L479.1,206.8L482.4,207.1L485.7,207.3L489.1,207.5L492.4,207.8L495.7,208L499,208.3M327.2,193L330.5,193.2L333.8,193.5L337.1,193.7L340.5,194L343.8,194.2L347.1,194.5L350.4,194.7L353.7,195L357,195.2L360.3,195.5L363.6,195.7L367,195.9L370.3,196.2L373.6,196.4L376.9,196.7L380.2,196.9L383.5,197.2L386.8,197.4L390.2,197.7L393.5,197.9L396.8,198.2L400.1,198.4L403.4,198.7L406.7,198.9L410,199.2L413.4,199.4L416.7,199.7L420,199.9L423.3,200.1L426.6,200.4L429.9,200.6L433.2,200.9L436.5,201.1L439.9,201.4L443.2,201.6L446.5,201.9L449.8,202.1L453.1,202.4L456.4,202.6L459.7,202.9L463.1,203.1L466.4,203.3L469.7,203.6L473,203.8L476.3,204.1L479.6,204.3L482.9,204.6L486.2,204.8L489.6,205.1L492.9,205.3L496.2,205.5L499.5,205.8M327.7,190.3L331,190.5L334.3,190.8L337.6,191.1L341,191.3L344.3,191.6L347.6,191.8L350.9,192.1L354.2,192.3L357.5,192.6L360.8,192.8L364.1,193.1L367.5,193.3L370.8,193.6L374.1,193.8L377.4,194.1L380.7,194.3L384,194.6L387.3,194.8L390.7,195.1L394,195.3L397.3,195.6L400.6,195.8L403.9,196.1L407.2,196.3L410.5,196.6L413.9,196.8L417.2,197.1L420.5,197.3L423.8,197.6L427.1,197.8L430.4,198.1L433.7,198.3L437,198.6L440.4,198.8L443.7,199.1L447,199.3L450.3,199.6L453.6,199.8L456.9,200.1L460.2,200.3L463.6,200.6L466.9,200.8L470.2,201.1L473.5,201.3L476.8,201.6L480.1,201.8L483.4,202.1L486.7,202.3L490.1,202.6L493.4,202.8L496.7,203.1L500,203.3M328.2,187.6L331.5,187.9L334.8,188.1L338.1,188.4L341.5,188.6L344.8,188.9L348.1,189.1L351.4,189.4L354.7,189.6L358,189.9L361.3,190.2L364.6,190.4L368,190.7L371.3,190.9L374.6,191.2L377.9,191.4L381.2,191.7L384.5,191.9L387.8,192.2L391.2,192.4L394.5,192.7L397.8,193L401.1,193.2L404.4,193.5L407.7,193.7L411,194L414.4,194.2L417.7,194.5L421,194.7L424.3,195L427.6,195.2L430.9,195.5L434.2,195.7L437.5,196L440.9,196.2L444.2,196.5L447.5,196.8L450.8,197L454.1,197.3L457.4,197.5L460.7,197.8L464.1,198L467.4,198.3L470.7,198.5L474,198.8L477.3,199L480.6,199.3L483.9,199.5L487.2,199.8L490.6,200L493.9,200.3L497.2,200.5L500.5,200.8M328.7,184.9L332,185.2L335.3,185.4L338.6,185.7L342,185.9L345.3,186.2L348.6,186.4L351.9,186.7L355.2,187L358.5,187.2L361.8,187.5L365.1,187.7L368.5,188L371.8,188.3L375.1,188.5L378.4,188.8L381.7,189L385,189.3L388.3,189.5L391.7,189.8L395,190.1L398.3,190.3L401.6,190.6L404.9,190.8L408.2,191.1L411.5,191.4L414.9,191.6L418.2,191.9L421.5,192.1L424.8,192.4L428.1,192.6L431.4,192.9L434.7,193.2L438,193.4L441.4,193.7L444.7,193.9L448,194.2L451.3,194.4L454.6,194.7L457.9,195L461.2,195.2L464.6,195.5L467.9,195.7L471.2,196L474.5,196.2L477.8,196.5L481.1,196.7L484.4,197L487.7,197.3L491.1,197.5L494.4,197.8L497.7,198L501,198.3M329.2,182.2L332.5,182.4L335.8,182.7L339.1,183L342.5,183.2L345.8,183.5L349.1,183.7L352.4,184L355.7,184.3L359,184.5L362.3,184.8L365.6,185.1L369,185.3L372.3,185.6L375.6,185.8L378.9,186.1L382.2,186.4L385.5,186.6L388.8,186.9L392.2,187.2L395.5,187.4L398.8,187.7L402.1,187.9L405.4,188.2L408.7,188.5L412,188.7L415.4,189L418.7,189.2L422,189.5L425.3,189.8L428.6,190L431.9,190.3L435.2,190.5L438.5,190.8L441.9,191.1L445.2,191.3L448.5,191.6L451.8,191.9L455.1,192.1L458.4,192.4L461.7,192.6L465.1,192.9L468.4,193.2L471.7,193.4L475,193.7L478.3,193.9L481.6,194.2L484.9,194.5L488.2,194.7L491.6,195L494.9,195.2L498.2,195.5L501.5,195.7M329.7,179.4L333,179.7L336.3,180L339.6,180.2L343,180.5L346.3,180.8L349.6,181L352.9,181.3L356.2,181.6L359.5,181.8L362.8,182.1L366.1,182.4L369.5,182.6L372.8,182.9L376.1,183.2L379.4,183.4L382.7,183.7L386,184L389.3,184.2L392.7,184.5L396,184.8L399.3,185L402.6,185.3L405.9,185.5L409.2,185.8L412.5,186.1L415.9,186.3L419.2,186.6L422.5,186.9L425.8,187.1L429.1,187.4L432.4,187.7L435.7,187.9L439,188.2L442.4,188.5L445.7,188.7L449,189L452.3,189.3L455.6,189.5L458.9,189.8L462.2,190L465.6,190.3L468.9,190.6L472.2,190.8L475.5,191.1L478.8,191.4L482.1,191.6L485.4,191.9L488.7,192.2L492.1,192.4L495.4,192.7L498.7,192.9L502,193.2M330.2,176.7L333.5,176.9L336.8,177.2L340.1,177.5L343.5,177.8L346.8,178L350.1,178.3L353.4,178.6L356.7,178.8L360,179.1L363.3,179.4L366.6,179.6L370,179.9L373.3,180.2L376.6,180.5L379.9,180.7L383.2,181L386.5,181.3L389.8,181.5L393.2,181.8L396.5,182.1L399.8,182.3L403.1,182.6L406.4,182.9L409.7,183.2L413,183.4L416.4,183.7L419.7,184L423,184.2L426.3,184.5L429.6,184.8L432.9,185L436.2,185.3L439.5,185.6L442.9,185.8L446.2,186.1L449.5,186.4L452.8,186.6L456.1,186.9L459.4,187.2L462.7,187.4L466.1,187.7L469.4,188L472.7,188.2L476,188.5L479.3,188.8L482.6,189.1L485.9,189.3L489.2,189.6L492.6,189.9L495.9,190.1L499.2,190.4L502.5,190.7M330.7,173.9L334,174.2L337.3,174.5L340.6,174.7L344,175L347.3,175.3L350.6,175.5L353.9,175.8L357.2,176.1L360.5,176.4L363.8,176.6L367.1,176.9L370.5,177.2L373.8,177.5L377.1,177.7L380.4,178L383.7,178.3L387,178.6L390.3,178.8L393.7,179.1L397,179.4L400.3,179.7L403.6,179.9L406.9,180.2L410.2,180.5L413.5,180.7L416.9,181L420.2,181.3L423.5,181.6L426.8,181.8L430.1,182.1L433.4,182.4L436.7,182.7L440,182.9L443.4,183.2L446.7,183.5L450,183.7L453.3,184L456.6,184.3L459.9,184.6L463.2,184.8L466.6,185.1L469.9,185.4L473.2,185.6L476.5,185.9L479.8,186.2L483.1,186.5L486.4,186.7L489.7,187L493.1,187.3L496.4,187.5L499.7,187.8L503,188.1M331.2,171.1L334.5,171.4L337.8,171.7L341.1,172L344.5,172.2L347.8,172.5L351.1,172.8L354.4,173.1L357.7,173.3L361,173.6L364.3,173.9L367.6,174.2L371,174.5L374.3,174.7L377.6,175L380.9,175.3L384.2,175.6L387.5,175.8L390.8,176.1L394.2,176.4L397.5,176.7L400.8,177L404.1,177.2L407.4,177.5L410.7,177.8L414,178.1L417.4,178.3L420.7,178.6L424,178.9L427.3,179.2L430.6,179.4L433.9,179.7L437.2,180L440.5,180.3L443.9,180.5L447.2,180.8L450.5,181.1L453.8,181.4L457.1,181.7L460.4,181.9L463.7,182.2L467.1,182.5L470.4,182.8L473.7,183L477,183.3L480.3,183.6L483.6,183.9L486.9,184.1L490.2,184.4L493.6,184.7L496.9,185L500.2,185.2L503.5,185.5M331.7,168.3L335,168.6L338.3,168.9L341.6,169.2L345,169.4L348.3,169.7L351.6,170L354.9,170.3L358.2,170.6L361.5,170.9L364.8,171.1L368.1,171.4L371.5,171.7L374.8,172L378.1,172.3L381.4,172.5L384.7,172.8L388,173.1L391.3,173.4L394.7,173.7L398,174L401.3,174.2L404.6,174.5L407.9,174.8L411.2,175.1L414.5,175.4L417.9,175.6L421.2,175.9L424.5,176.2L427.8,176.5L431.1,176.8L434.4,177L437.7,177.3L441,177.6L444.4,177.9L447.7,178.2L451,178.4L454.3,178.7L457.6,179L460.9,179.3L464.2,179.6L467.6,179.8L470.9,180.1L474.2,180.4L477.5,180.7L480.8,181L484.1,181.2L487.4,181.5L490.7,181.8L494.1,182.1L497.4,182.4L500.7,182.6L504,182.9M332.2,165.5L335.5,165.8L338.8,166.1L342.1,166.4L345.5,166.6L348.8,166.9L352.1,167.2L355.4,167.5L358.7,167.8L362,168.1L365.3,168.4L368.6,168.6L372,168.9L375.3,169.2L378.6,169.5L381.9,169.8L385.2,170.1L388.5,170.4L391.8,170.6L395.2,170.9L398.5,171.2L401.8,171.5L405.1,171.8L408.4,172.1L411.7,172.4L415,172.6L418.4,172.9L421.7,173.2L425,173.5L428.3,173.8L431.6,174.1L434.9,174.4L438.2,174.6L441.5,174.9L444.9,175.2L448.2,175.5L451.5,175.8L454.8,176.1L458.1,176.3L461.4,176.6L464.7,176.9L468.1,177.2L471.4,177.5L474.7,177.8L478,178L481.3,178.3L484.6,178.6L487.9,178.9L491.2,179.2L494.6,179.5L497.9,179.7L501.2,180L504.5,180.3M332.7,162.7L336,163L339.3,163.2L342.6,163.5L346,163.8L349.3,164.1L352.6,164.4L355.9,164.7L359.2,165L362.5,165.3L365.8,165.6L369.1,165.9L372.5,166.1L375.8,166.4L379.1,166.7L382.4,167L385.7,167.3L389,167.6L392.3,167.9L395.7,168.2L399,168.5L402.3,168.8L405.6,169L408.9,169.3L412.2,169.6L415.5,169.9L418.9,170.2L422.2,170.5L425.5,170.8L428.8,171.1L432.1,171.4L435.4,171.6L438.7,171.9L442,172.2L445.4,172.5L448.7,172.8L452,173.1L455.3,173.4L458.6,173.7L461.9,174L465.2,174.2L468.6,174.5L471.9,174.8L475.2,175.1L478.5,175.4L481.8,175.7L485.1,176L488.4,176.3L491.7,176.5L495.1,176.8L498.4,177.1L501.7,177.4L505,177.7M333.2,159.8L336.5,160.1L339.8,160.4L343.1,160.7L346.5,161L349.8,161.3L353.1,161.6L356.4,161.9L359.7,162.2L363,162.5L366.3,162.8L369.6,163.1L373,163.4L376.3,163.6L379.6,163.9L382.9,164.2L386.2,164.5L389.5,164.8L392.8,165.1L396.2,165.4L399.5,165.7L402.8,166L406.1,166.3L409.4,166.6L412.7,166.9L416,167.2L419.4,167.5L422.7,167.8L426,168L429.3,168.3L432.6,168.6L435.9,168.9L439.2,169.2L442.5,169.5L445.9,169.8L449.2,170.1L452.5,170.4L455.8,170.7L459.1,171L462.4,171.3L465.7,171.6L469.1,171.9L472.4,172.1L475.7,172.4L479,172.7L482.3,173L485.6,173.3L488.9,173.6L492.2,173.9L495.6,174.2L498.9,174.5L502.2,174.8L505.5,175.1M333.7,156.9L337,157.2L340.3,157.5L343.6,157.8L347,158.1L350.3,158.4L353.6,158.7L356.9,159L360.2,159.3L363.5,159.6L366.8,159.9L370.1,160.2L373.5,160.5L376.8,160.8L380.1,161.1L383.4,161.4L386.7,161.7L390,162L393.3,162.3L396.7,162.6L400,162.9L403.3,163.2L406.6,163.5L409.9,163.8L413.2,164.1L416.5,164.4L419.9,164.7L423.2,165L426.5,165.3L429.8,165.6L433.1,165.9L436.4,166.2L439.7,166.5L443,166.8L446.4,167.1L449.7,167.4L453,167.7L456.3,168L459.6,168.3L462.9,168.6L466.2,168.9L469.6,169.2L472.9,169.5L476.2,169.8L479.5,170.1L482.8,170.3L486.1,170.6L489.4,170.9L492.7,171.2L496.1,171.5L499.4,171.8L502.7,172.1L506,172.4M334.2,154.1L337.5,154.4L340.8,154.7L344.1,155L347.5,155.3L350.8,155.6L354.1,155.9L357.4,156.2L360.7,156.5L364,156.8L367.3,157.1L370.6,157.4L374,157.7L377.3,158L380.6,158.3L383.9,158.6L387.2,158.9L390.5,159.2L393.8,159.5L397.2,159.8L400.5,160.1L403.8,160.4L407.1,160.7L410.4,161L413.7,161.3L417,161.6L420.4,161.9L423.7,162.2L427,162.5L430.3,162.8L433.6,163.1L436.9,163.4L440.2,163.7L443.5,164L446.9,164.4L450.2,164.7L453.5,165L456.8,165.3L460.1,165.6L463.4,165.9L466.7,166.2L470.1,166.5L473.4,166.8L476.7,167.1L480,167.4L483.3,167.7L486.6,168L489.9,168.3L493.2,168.6L496.6,168.9L499.9,169.2L503.2,169.5L506.5,169.8M334.7,151.2L338,151.5L341.3,151.8L344.6,152.1L348,152.4L351.3,152.7L354.6,153L357.9,153.3L361.2,153.6L364.5,153.9L367.8,154.2L371.1,154.6L374.5,154.9L377.8,155.2L381.1,155.5L384.4,155.8L387.7,156.1L391,156.4L394.3,156.7L397.7,157L401,157.3L404.3,157.6L407.6,157.9L410.9,158.2L414.2,158.5L417.5,158.8L420.9,159.2L424.2,159.5L427.5,159.8L430.8,160.1L434.1,160.4L437.4,160.7L440.7,161L444,161.3L447.4,161.6L450.7,161.9L454,162.2L457.3,162.5L460.6,162.8L463.9,163.1L467.2,163.4L470.6,163.7L473.9,164L477.2,164.3L480.5,164.7L483.8,165L487.1,165.3L490.4,165.6L493.7,165.9L497.1,166.2L500.4,166.5L503.7,166.8L507,167.1M335.2,148.3L338.5,148.6L341.8,148.9L345.1,149.2L348.5,149.5L351.8,149.8L355.1,150.1L358.4,150.4L361.7,150.7L365,151.1L368.3,151.4L371.6,151.7L375,152L378.3,152.3L381.6,152.6L384.9,152.9L388.2,153.2L391.5,153.6L394.8,153.9L398.2,154.2L401.5,154.5L404.8,154.8L408.1,155.1L411.4,155.4L414.7,155.7L418,156L421.4,156.4L424.7,156.7L428,157L431.3,157.3L434.6,157.6L437.9,157.9L441.2,158.2L444.5,158.5L447.9,158.8L451.2,159.1L454.5,159.5L457.8,159.8L461.1,160.1L464.4,160.4L467.7,160.7L471.1,161L474.4,161.3L477.7,161.6L481,161.9L484.3,162.2L487.6,162.5L490.9,162.9L494.2,163.2L497.6,163.5L500.9,163.8L504.2,164.1L507.5,164.4M335.7,145.3L339,145.6L342.3,146L345.6,146.3L349,146.6L352.3,146.9L355.6,147.2L358.9,147.5L362.2,147.9L365.5,148.2L368.8,148.5L372.1,148.8L375.5,149.1L378.8,149.4L382.1,149.8L385.4,150.1L388.7,150.4L392,150.7L395.3,151L398.7,151.3L402,151.6L405.3,152L408.6,152.3L411.9,152.6L415.2,152.9L418.5,153.2L421.9,153.5L425.2,153.9L428.5,154.2L431.8,154.5L435.1,154.8L438.4,155.1L441.7,155.4L445,155.7L448.4,156.1L451.7,156.4L455,156.7L458.3,157L461.6,157.3L464.9,157.6L468.2,157.9L471.6,158.3L474.9,158.6L478.2,158.9L481.5,159.2L484.8,159.5L488.1,159.8L491.4,160.1L494.7,160.5L498.1,160.8L501.4,161.1L504.7,161.4L508,161.7M336.2,142.4L339.5,142.7L342.8,143L346.1,143.3L349.5,143.7L352.8,144L356.1,144.3L359.4,144.6L362.7,144.9L366,145.3L369.3,145.6L372.6,145.9L376,146.2L379.3,146.5L382.6,146.9L385.9,147.2L389.2,147.5L392.5,147.8L395.8,148.1L399.2,148.5L402.5,148.8L405.8,149.1L409.1,149.4L412.4,149.7L415.7,150.1L419,150.4L422.4,150.7L425.7,151L429,151.3L432.3,151.7L435.6,152L438.9,152.3L442.2,152.6L445.5,152.9L448.9,153.3L452.2,153.6L455.5,153.9L458.8,154.2L462.1,154.5L465.4,154.9L468.7,155.2L472.1,155.5L475.4,155.8L478.7,156.1L482,156.4L485.3,156.8L488.6,157.1L491.9,157.4L495.2,157.7L498.6,158L501.9,158.4L505.2,158.7L508.5,159M336.7,139.4L340,139.7L343.3,140.1L346.6,140.4L350,140.7L353.3,141L356.6,141.4L359.9,141.7L363.2,142L366.5,142.3L369.8,142.7L373.1,143L376.5,143.3L379.8,143.6L383.1,144L386.4,144.3L389.7,144.6L393,144.9L396.3,145.3L399.7,145.6L403,145.9L406.3,146.2L409.6,146.6L412.9,146.9L416.2,147.2L419.5,147.5L422.9,147.9L426.2,148.2L429.5,148.5L432.8,148.8L436.1,149.2L439.4,149.5L442.7,149.8L446,150.1L449.4,150.5L452.7,150.8L456,151.1L459.3,151.4L462.6,151.7L465.9,152.1L469.2,152.4L472.6,152.7L475.9,153L479.2,153.4L482.5,153.7L485.8,154L489.1,154.3L492.4,154.7L495.7,155L499.1,155.3L502.4,155.6L505.7,155.9L509,156.3M337.2,136.4L340.5,136.8L343.8,137.1L347.1,137.4L350.5,137.7L353.8,138.1L357.1,138.4L360.4,138.7L363.7,139.1L367,139.4L370.3,139.7L373.6,140.1L377,140.4L380.3,140.7L383.6,141L386.9,141.4L390.2,141.7L393.5,142L396.8,142.4L400.2,142.7L403.5,143L406.8,143.4L410.1,143.7L413.4,144L416.7,144.3L420,144.7L423.4,145L426.7,145.3L430,145.7L433.3,146L436.6,146.3L439.9,146.6L443.2,147L446.5,147.3L449.9,147.6L453.2,148L456.5,148.3L459.8,148.6L463.1,148.9L466.4,149.3L469.7,149.6L473.1,149.9L476.4,150.3L479.7,150.6L483,150.9L486.3,151.2L489.6,151.6L492.9,151.9L496.2,152.2L499.6,152.5L502.9,152.9L506.2,153.2L509.5,153.5M337.7,133.4L341,133.8L344.3,134.1L347.6,134.4L351,134.8L354.3,135.1L357.6,135.4L360.9,135.8L364.2,136.1L367.5,136.4L370.8,136.8L374.1,137.1L377.5,137.4L380.8,137.8L384.1,138.1L387.4,138.4L390.7,138.8L394,139.1L397.3,139.5L400.7,139.8L404,140.1L407.3,140.5L410.6,140.8L413.9,141.1L417.2,141.5L420.5,141.8L423.9,142.1L427.2,142.5L430.5,142.8L433.8,143.1L437.1,143.5L440.4,143.8L443.7,144.1L447,144.5L450.4,144.8L453.7,145.1L457,145.5L460.3,145.8L463.6,146.1L466.9,146.5L470.2,146.8L473.6,147.1L476.9,147.4L480.2,147.8L483.5,148.1L486.8,148.4L490.1,148.8L493.4,149.1L496.7,149.4L500.1,149.8L503.4,150.1L506.7,150.4L510,150.8M338.2,130.4L341.5,130.7L344.8,131.1L348.1,131.4L351.5,131.8L354.8,132.1L358.1,132.4L361.4,132.8L364.7,133.1L368,133.5L371.3,133.8L374.6,134.1L378,134.5L381.3,134.8L384.6,135.2L387.9,135.5L391.2,135.8L394.5,136.2L397.8,136.5L401.2,136.9L404.5,137.2L407.8,137.5L411.1,137.9L414.4,138.2L417.7,138.6L421,138.9L424.4,139.2L427.7,139.6L431,139.9L434.3,140.2L437.6,140.6L440.9,140.9L444.2,141.3L447.5,141.6L450.9,141.9L454.2,142.3L457.5,142.6L460.8,142.9L464.1,143.3L467.4,143.6L470.7,144L474.1,144.3L477.4,144.6L480.7,145L484,145.3L487.3,145.6L490.6,146L493.9,146.3L497.2,146.7L500.6,147L503.9,147.3L507.2,147.7L510.5,148"/>
</g>
<g fill="#0000ff"><circle cx="323.2" cy="213.89" r="1.55"/><circle cx="324.7" cy="206.16" r="1.55"/><circle cx="326.2" cy="198.29" r="1.55"/><circle cx="327.7" cy="190.3" r="1.55"/><circle cx="329.2" cy="182.17" r="1.55"/><circle cx="330.7" cy="173.9" r="1.55"/><circle cx="332.2" cy="165.5" r="1.55"/><circle cx="333.7" cy="156.95" r="1.55"/><circle cx="335.2" cy="148.25" r="1.55"/><circle cx="336.7" cy="139.4" r="1.55"/><circle cx="338.2" cy="130.4" r="1.55"/><circle cx="366.27" cy="216.76" r="1.55"/><ellipse cx="367.77" cy="209.35" rx="1.25" ry="0.95"/><ellipse cx="369.27" cy="201.62" rx="1.25" ry="0.95"/><ellipse cx="370.77" cy="193.76" rx="1.25" ry="0.95"/><ellipse cx="372.27" cy="185.78" rx="1.25" ry="0.95"/><ellipse cx="373.77" cy="177.67" rx="1.25" ry="0.95"/><ellipse cx="375.27" cy="169.42" rx="1.25" ry="0.95"/><ellipse cx="376.77" cy="161.03" rx="1.25" ry="0.95"/><ellipse cx="378.27" cy="152.51" rx="1.25" ry="0.95"/><ellipse cx="379.77" cy="143.84" rx="1.25" ry="0.95"/><ellipse cx="381.27" cy="134.82" rx="1.55" ry="1.15"/><circle cx="409.35" cy="219.62" r="1.55"/><ellipse cx="410.85" cy="212.34" rx="1.25" ry="0.95"/><ellipse cx="412.35" cy="204.74" rx="1.25" ry="0.95"/><ellipse cx="413.85" cy="197.02" rx="1.25" ry="0.95"/><ellipse cx="415.35" cy="189.18" rx="1.25" ry="0.95"/><ellipse cx="416.85" cy="181.22" rx="1.25" ry="0.95"/><ellipse cx="418.35" cy="173.13" rx="1.25" ry="0.95"/><ellipse cx="419.85" cy="164.91" rx="1.25" ry="0.95"/><ellipse cx="421.35" cy="156.55" rx="1.25" ry="0.95"/><ellipse cx="422.85" cy="148.06" rx="1.25" ry="0.95"/><ellipse cx="424.35" cy="139.23" rx="1.55" ry="1.15"/><circle cx="452.43" cy="222.46" r="1.55"/><ellipse cx="453.93" cy="215.31" rx="1.25" ry="0.95"/><ellipse cx="455.43" cy="207.84" rx="1.25" ry="0.95"/><ellipse cx="456.93" cy="200.27" rx="1.25" ry="0.95"/><ellipse cx="458.43" cy="192.57" rx="1.25" ry="0.95"/><ellipse cx="459.93" cy="184.76" rx="1.25" ry="0.95"/><ellipse cx="461.43" cy="176.83" rx="1.25" ry="0.95"/><ellipse cx="462.93" cy="168.77" rx="1.25" ry="0.95"/><ellipse cx="464.43" cy="160.58" rx="1.25" ry="0.95"/><ellipse cx="465.93" cy="152.27" rx="1.25" ry="0.95"/><ellipse cx="467.43" cy="143.62" rx="1.55" ry="1.15"/><circle cx="495.5" cy="225.3" r="1.55"/><circle cx="497" cy="218.07" r="1.55"/><circle cx="498.5" cy="210.74" r="1.55"/><circle cx="500" cy="203.3" r="1.55"/><circle cx="501.5" cy="195.75" r="1.55"/><circle cx="503" cy="188.09" r="1.55"/><circle cx="504.5" cy="180.31" r="1.55"/><circle cx="506" cy="172.42" r="1.55"/><circle cx="507.5" cy="164.4" r="1.55"/><circle cx="509" cy="156.26" r="1.55"/><circle cx="510.5" cy="148" r="1.55"/></g>
<g font-size="6.8" fill="#333">
<text x="316" y="254.7" text-anchor="end">0</text>
<text x="316" y="216.4" text-anchor="end">0.5</text>
<text x="316" y="178.1" text-anchor="end">1</text>
<text x="316" y="139.8" text-anchor="end">1.5</text>
<text x="316" y="101.5" text-anchor="end">2</text>
<text x="316" y="63.2" text-anchor="end">2.5</text>
<text x="345.1" y="266.15" text-anchor="middle">5.4</text>
<text x="379.5" y="266.95" text-anchor="middle">5.2</text>
<text x="413.9" y="267.75" text-anchor="middle">5</text>
<text x="448.3" y="268.55" text-anchor="middle">4.8</text>
<text x="482.7" y="269.35" text-anchor="middle">4.6</text>
<text x="502.7" y="261.15">0.036</text>
<text x="506.7" y="249.05">0.038</text>
<text x="510.7" y="235.55">0.04</text>
<text x="513.7" y="222.55">0.042</text>
</g>
<g fill="#262626">
<text x="348.79" y="287.8" font-size="9.4" font-style="italic">q</text>
<text x="355.89" y="292" font-size="7" textLength="26.88" lengthAdjust="spacingAndGlyphs">titer,max</text>
<text x="385.73" y="287.8" font-size="9.4" textLength="6.65" lengthAdjust="spacingAndGlyphs">[1</text>
<text x="394.89" y="287.8" font-size="9.4">·</text>
<text x="400.94" y="287.8" font-size="9.4" textLength="9.71" lengthAdjust="spacingAndGlyphs">10</text>
<text x="410.69" y="283.9" font-size="6.9" textLength="10.19" lengthAdjust="spacingAndGlyphs">-10</text>
<text x="423.41" y="287.8" font-size="9.4" textLength="12.47" lengthAdjust="spacingAndGlyphs">mg</text>
<text x="438.13" y="287.8" font-size="9.4" textLength="13.26" lengthAdjust="spacingAndGlyphs">cell</text>
<text x="451.76" y="283.6" font-size="6.6" textLength="4.91" lengthAdjust="spacingAndGlyphs">-1</text>
<text x="457.05" y="287.8" font-size="9.4">h</text>
<text x="463.49" y="283.6" font-size="6.6" textLength="4.24" lengthAdjust="spacingAndGlyphs">-1</text>
<text x="469.22" y="287.8" font-size="9.4">]</text>
</g>
<g fill="#262626" transform="translate(540.2,256) rotate(-90)">
<text x="3.59" y="-0.3" font-size="9" font-style="italic">μ</text>
<text x="8.87" y="3.9" font-size="7" textLength="9.49" lengthAdjust="spacingAndGlyphs">max</text>
<text x="20.05" y="0" font-size="9.4" textLength="8.84" lengthAdjust="spacingAndGlyphs">[h</text>
<text x="28.75" y="-4.3" font-size="6.6" textLength="5.13" lengthAdjust="spacingAndGlyphs">-1</text>
<text x="34.52" y="0" font-size="9.4">]</text>
</g>
<g fill="#262626" transform="translate(304.2,244) rotate(-90)">
<text x="0.95" y="0" font-size="10" textLength="118.88" lengthAdjust="spacingAndGlyphs">Overall process productivity</text>
<text x="122.64" y="0" font-size="10" textLength="17.85" lengthAdjust="spacingAndGlyphs">[mg</text>
<text x="143.98" y="0" font-size="10">L</text>
<text x="151.75" y="-5.8" font-size="6.4" textLength="5.13" lengthAdjust="spacingAndGlyphs">-1</text>
<text x="159.31" y="0" font-size="10">h</text>
<text x="167.16" y="-5.8" font-size="6.4" textLength="4.91" lengthAdjust="spacingAndGlyphs">-1</text>
<text x="173.32" y="0" font-size="10">]</text>
</g>
<text x="275.05" y="17.7" font-size="9.7" font-weight="bold" text-anchor="middle" fill="#000">100 h</text>
</svg></body></html>
